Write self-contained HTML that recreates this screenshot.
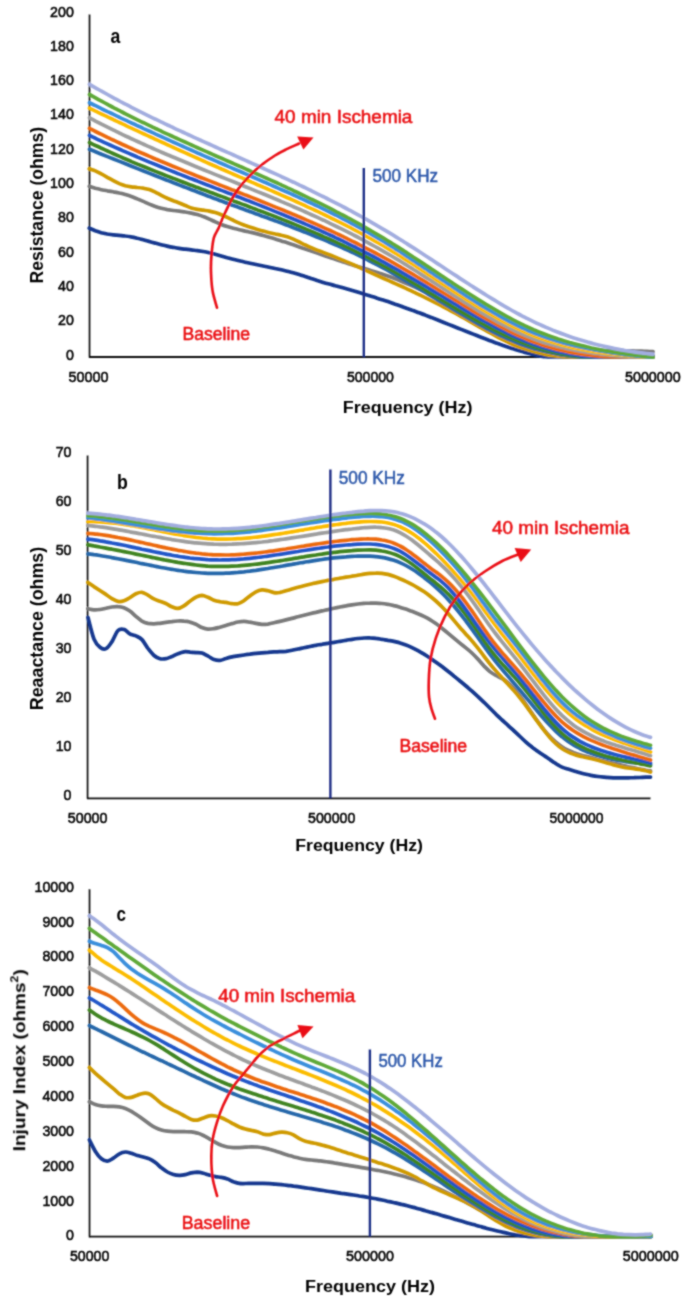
<!DOCTYPE html>
<html><head><meta charset="utf-8"><title>Chart</title>
<style>html,body{margin:0;padding:0;background:#fff;}svg{display:block;}text{font-family:"Liberation Sans",sans-serif;}</style>
</head><body><svg width="685" height="1303" viewBox="0 0 685 1303" font-family="'Liberation Sans', sans-serif"><defs><filter id="bl" x="0" y="0" width="685" height="1303" filterUnits="userSpaceOnUse"><feConvolveMatrix order="3" kernelMatrix="1 2 1 2 8 2 1 2 1" divisor="20" edgeMode="none"/></filter></defs><rect width="685" height="1303" fill="#fff"/><g filter="url(#bl)"><g font-size="15" fill="#000" stroke="#000" stroke-width="0.55"><text x="73.8" y="359.6" text-anchor="end" textLength="7.9" lengthAdjust="spacingAndGlyphs">0</text><text x="73.8" y="325.3" text-anchor="end" textLength="15.8" lengthAdjust="spacingAndGlyphs">20</text><text x="73.8" y="291" text-anchor="end" textLength="15.8" lengthAdjust="spacingAndGlyphs">40</text><text x="73.8" y="256.7" text-anchor="end" textLength="15.8" lengthAdjust="spacingAndGlyphs">60</text><text x="73.8" y="222.4" text-anchor="end" textLength="15.8" lengthAdjust="spacingAndGlyphs">80</text><text x="73.8" y="188" text-anchor="end" textLength="23.7" lengthAdjust="spacingAndGlyphs">100</text><text x="73.8" y="153.7" text-anchor="end" textLength="23.7" lengthAdjust="spacingAndGlyphs">120</text><text x="73.8" y="119.4" text-anchor="end" textLength="23.7" lengthAdjust="spacingAndGlyphs">140</text><text x="73.8" y="85.1" text-anchor="end" textLength="23.7" lengthAdjust="spacingAndGlyphs">160</text><text x="73.8" y="50.8" text-anchor="end" textLength="23.7" lengthAdjust="spacingAndGlyphs">180</text><text x="73.8" y="16.5" text-anchor="end" textLength="23.7" lengthAdjust="spacingAndGlyphs">200</text><text x="88.6" y="381.8" text-anchor="middle" textLength="40" lengthAdjust="spacingAndGlyphs">50000</text><text x="370.4" y="381.8" text-anchor="middle" textLength="47" lengthAdjust="spacingAndGlyphs">500000</text><text x="652.8" y="381.8" text-anchor="middle" textLength="55.6" lengthAdjust="spacingAndGlyphs">5000000</text></g><line x1="89.5" y1="14.5" x2="89.5" y2="357.5" stroke="#111" stroke-width="1.7"/><line x1="89" y1="357" x2="653.5" y2="357" stroke="#111" stroke-width="1.8"/><g fill="none" stroke-width="3.7" stroke-linecap="round" stroke-linejoin="round"><path d="M89.2,228.1C90.2,228.5 93.2,230 95.2,230.8C97.2,231.5 99.2,232.1 101.2,232.7C103.2,233.2 105.2,233.6 107.2,234C109.2,234.3 111.2,234.6 113.2,234.8C115.2,235 117.2,235.2 119.2,235.4C121.2,235.6 123.2,235.7 125.2,236C127.2,236.2 129.2,236.5 131.2,236.9C133.2,237.2 135.2,237.7 137.2,238.2C139.2,238.6 141.2,239.2 143.2,239.7C145.2,240.3 147.2,240.9 149.2,241.4C151.2,242 153.2,242.6 155.2,243.1C157.2,243.7 159.2,244.2 161.2,244.7C163.2,245.2 165.2,245.7 167.2,246.1C169.2,246.6 171.2,247 173.2,247.3C175.2,247.7 177.2,248.1 179.2,248.4C181.2,248.7 183.2,248.9 185.2,249.2C187.2,249.5 189.2,249.7 191.2,249.9C193.2,250.1 195.2,250.4 197.2,250.6C199.2,250.9 201.2,251.2 203.2,251.5C205.2,251.8 207.2,252.2 209.2,252.7C211.2,253.1 213.2,253.7 215.2,254.2C217.2,254.7 219.2,255.3 221.2,255.9C223.2,256.5 225.2,257.1 227.2,257.7C229.2,258.2 231.2,258.8 233.2,259.3C235.2,259.8 237.2,260.3 239.2,260.8C241.2,261.3 243.2,261.8 245.2,262.2C247.2,262.7 249.2,263.1 251.2,263.5C253.2,264 255.2,264.4 257.2,264.8C259.2,265.2 261.2,265.6 263.2,266C265.2,266.4 267.2,266.8 269.2,267.2C271.2,267.6 273.2,268 275.2,268.5C277.2,268.9 279.2,269.3 281.2,269.8C283.2,270.3 285.2,270.7 287.2,271.2C289.2,271.7 291.2,272.3 293.2,272.8C295.2,273.4 297.2,274 299.2,274.6C301.2,275.2 303.2,275.9 305.2,276.5C307.2,277.2 309.2,277.9 311.2,278.6C313.2,279.2 315.2,279.9 317.2,280.6C319.2,281.2 321.2,281.8 323.2,282.4C325.2,283 327.2,283.5 329.2,284C331.2,284.6 333.2,285.1 335.2,285.7C337.2,286.2 339.2,286.8 341.2,287.3C343.2,287.9 345.2,288.5 347.2,289C349.2,289.6 351.2,290.2 353.2,290.8C355.2,291.4 357.2,292 359.2,292.6C361.2,293.2 363.2,293.8 365.2,294.4C367.2,295 369.2,295.6 371.2,296.3C373.2,296.9 375.2,297.5 377.2,298.2C379.2,298.8 381.2,299.5 383.2,300.1C385.2,300.8 387.2,301.4 389.2,302.1C391.2,302.8 393.2,303.5 395.2,304.2C397.2,304.8 399.2,305.5 401.2,306.2C403.2,307 405.2,307.7 407.2,308.4C409.2,309.1 411.2,309.8 413.2,310.6C415.2,311.3 417.2,312.1 419.2,312.8C421.2,313.6 423.2,314.4 425.2,315.1C427.2,315.9 429.2,316.7 431.2,317.4C433.2,318.2 435.2,319 437.2,319.8C439.2,320.6 441.2,321.4 443.2,322.2C445.2,323 447.2,323.8 449.2,324.6C451.2,325.4 453.2,326.2 455.2,327C457.2,327.8 459.2,328.6 461.2,329.4C463.2,330.2 465.2,331 467.2,331.8C469.2,332.5 471.2,333.3 473.2,334.1C475.2,334.9 477.2,335.7 479.2,336.5C481.2,337.2 483.2,338 485.2,338.8C487.2,339.5 489.2,340.3 491.2,341C493.2,341.8 495.2,342.5 497.2,343.3C499.2,344 501.2,344.7 503.2,345.4C505.2,346.1 507.2,346.8 509.2,347.5C511.2,348.1 513.2,348.8 515.2,349.4C517.2,350.1 519.2,350.7 521.2,351.3C523.2,351.9 525.2,352.4 527.2,353C529.2,353.5 531.2,354 533.2,354.5C535.2,354.9 537.2,355.4 539.2,355.8C541.2,356.1 543.2,356.5 545.2,356.7C547.2,356.9 549.2,357 551.2,357C553.2,357 555.2,357 557.2,357C559.2,357 561.2,357 563.2,357C565.2,357 567.2,357 569.2,357C571.2,357 573.2,357 575.2,357C577.2,357 579.2,357 581.2,357C583.2,356.9 585.2,356.9 587.2,356.9C589.2,356.9 591.2,356.9 593.2,356.9C595.2,356.9 597.2,356.9 599.2,356.9C601.2,356.9 603.2,356.9 605.2,356.9C607.2,356.9 609.2,357 611.2,357C613.2,357 615.2,357 617.2,357C619.2,357 621.2,357 623.2,357C625.2,357 627.2,357 629.2,357C631.2,357 633.2,357 635.2,357C637.2,357 639.2,357 641.2,357C643.2,357 645.2,357 647.2,357C649.2,357 652,357 653,357" stroke="#12398f"/><path d="M89.3,186.3C90.3,186.6 93.3,187.7 95.3,188.3C97.3,188.8 99.3,189.3 101.3,189.7C103.3,190.1 105.3,190.4 107.3,190.8C109.3,191.1 111.3,191.4 113.3,191.8C115.3,192.1 117.3,192.5 119.3,193C121.3,193.4 123.3,194 125.3,194.6C127.3,195.2 129.3,195.8 131.3,196.5C133.3,197.3 135.3,198 137.3,198.9C139.3,199.7 141.3,200.6 143.3,201.4C145.3,202.3 147.3,203.3 149.3,204.1C151.3,204.9 153.3,205.7 155.3,206.4C157.3,207.1 159.3,207.7 161.3,208.2C163.3,208.7 165.3,209.2 167.3,209.6C169.3,209.9 171.3,210.2 173.3,210.5C175.3,210.8 177.3,211 179.3,211.2C181.3,211.5 183.3,211.7 185.3,212C187.3,212.3 189.3,212.7 191.3,213.1C193.3,213.5 195.3,214 197.3,214.6C199.3,215.2 201.3,215.8 203.3,216.6C205.3,217.3 207.3,218.2 209.3,219.1C211.3,220 213.3,221 215.3,221.9C217.3,222.8 219.3,223.7 221.3,224.5C223.3,225.3 225.3,226 227.3,226.6C229.3,227.2 231.3,227.8 233.3,228.3C235.3,228.8 237.3,229.3 239.3,229.7C241.3,230.2 243.3,230.6 245.3,231.1C247.3,231.5 249.3,232 251.3,232.4C253.3,232.9 255.3,233.4 257.3,233.9C259.3,234.4 261.3,234.9 263.3,235.5C265.3,236 267.3,236.6 269.3,237.2C271.3,237.8 273.3,238.4 275.3,239C277.3,239.6 279.3,240.3 281.3,240.9C283.3,241.5 285.3,242.2 287.3,242.8C289.3,243.5 291.3,244.2 293.3,244.8C295.3,245.5 297.3,246.2 299.3,246.9C301.3,247.6 303.3,248.3 305.3,248.9C307.3,249.6 309.3,250.3 311.3,251C313.3,251.7 315.3,252.4 317.3,253.1C319.3,253.8 321.3,254.5 323.3,255.2C325.3,255.9 327.3,256.6 329.3,257.3C331.3,258 333.3,258.6 335.3,259.3C337.3,260 339.3,260.7 341.3,261.3C343.3,262 345.3,262.6 347.3,263.3C349.3,263.9 351.3,264.6 353.3,265.2C355.3,265.8 357.3,266.4 359.3,267C361.3,267.6 363.3,268.2 365.3,268.8C367.3,269.5 369.3,270.1 371.3,270.7C373.3,271.3 375.3,271.9 377.3,272.5C379.3,273.2 381.3,273.8 383.3,274.5C385.3,275.2 387.3,275.9 389.3,276.6C391.3,277.3 393.3,278 395.3,278.8C397.3,279.6 399.3,280.3 401.3,281.2C403.3,282 405.3,282.8 407.3,283.7C409.3,284.5 411.3,285.4 413.3,286.3C415.3,287.2 417.3,288.1 419.3,289.1C421.3,290.1 423.3,291 425.3,292C427.3,293.1 429.3,294.1 431.3,295.1C433.3,296.2 435.3,297.3 437.3,298.4C439.3,299.5 441.3,300.6 443.3,301.7C445.3,302.8 447.3,304 449.3,305.1C451.3,306.3 453.3,307.4 455.3,308.6C457.3,309.8 459.3,311 461.3,312.1C463.3,313.3 465.3,314.5 467.3,315.7C469.3,316.9 471.3,318.1 473.3,319.2C475.3,320.4 477.3,321.6 479.3,322.8C481.3,323.9 483.3,325.1 485.3,326.2C487.3,327.4 489.3,328.5 491.3,329.7C493.3,330.8 495.3,331.9 497.3,333C499.3,334.1 501.3,335.1 503.3,336.2C505.3,337.2 507.3,338.3 509.3,339.2C511.3,340.2 513.3,341.2 515.3,342C517.3,342.9 519.3,343.7 521.3,344.3C523.3,345 525.3,345.5 527.3,346C529.3,346.5 531.3,346.8 533.3,347.2C535.3,347.5 537.3,347.7 539.3,348C541.3,348.2 543.3,348.4 545.3,348.6C547.3,348.8 549.3,348.9 551.3,349.1C553.3,349.2 555.3,349.4 557.3,349.5C559.3,349.6 561.3,349.7 563.3,349.8C565.3,349.9 567.3,350 569.3,350.1C571.3,350.2 573.3,350.2 575.3,350.3C577.3,350.4 579.3,350.4 581.3,350.4C583.3,350.5 585.3,350.5 587.3,350.6C589.3,350.6 591.3,350.6 593.3,350.6C595.3,350.6 597.3,350.7 599.3,350.7C601.3,350.7 603.3,350.7 605.3,350.7C607.3,350.7 609.3,350.7 611.3,350.7C613.3,350.7 615.3,350.8 617.3,350.8C619.3,350.8 621.3,350.8 623.3,350.8C625.3,350.8 627.3,350.9 629.3,350.9C631.3,350.9 633.3,351 635.3,351C637.3,351.1 639.3,351.1 641.3,351.2C643.3,351.3 645.3,351.3 647.3,351.4C649.2,351.5 652,351.6 653,351.7" stroke="#7a7a7a"/><path d="M89.3,168.8C90.3,169.2 93.3,170.1 95.3,170.9C97.3,171.8 99.3,172.8 101.3,173.9C103.3,174.9 105.3,176.1 107.3,177.3C109.3,178.4 111.3,179.6 113.3,180.6C115.3,181.7 117.3,182.7 119.3,183.6C121.3,184.4 123.3,185.1 125.3,185.7C127.3,186.2 129.3,186.5 131.3,186.8C133.3,187.1 135.3,187.2 137.3,187.5C139.3,187.7 141.3,187.9 143.3,188.2C145.3,188.6 147.3,189 149.3,189.6C151.3,190.3 153.3,191.2 155.3,192.1C157.3,193.1 159.3,194.3 161.3,195.3C163.3,196.3 165.3,197.3 167.3,198.2C169.3,199 171.3,199.8 173.3,200.7C175.3,201.5 177.3,202.2 179.3,203C181.3,203.8 183.3,204.7 185.3,205.5C187.3,206.3 189.3,207.3 191.3,207.9C193.3,208.5 195.3,209 197.3,209.4C199.3,209.8 201.3,209.9 203.3,210.2C205.3,210.5 207.3,210.7 209.3,211.1C211.3,211.5 213.3,212 215.3,212.6C217.3,213.2 219.3,213.9 221.3,214.7C223.3,215.5 225.3,216.5 227.3,217.4C229.3,218.4 231.3,219.4 233.3,220.3C235.3,221.3 237.3,222.2 239.3,223.1C241.3,224 243.3,224.7 245.3,225.5C247.3,226.2 249.3,226.9 251.3,227.5C253.3,228.2 255.3,228.8 257.3,229.4C259.3,230 261.3,230.6 263.3,231.1C265.3,231.7 267.3,232.2 269.3,232.7C271.3,233.2 273.3,233.6 275.3,234C277.3,234.4 279.3,234.7 281.3,235.2C283.3,235.6 285.3,236.1 287.3,236.7C289.3,237.4 291.3,238.2 293.3,239.1C295.3,240 297.3,241 299.3,242C301.3,243 303.3,244.1 305.3,245C307.3,246 309.3,247 311.3,247.8C313.3,248.7 315.3,249.4 317.3,250.2C319.3,250.9 321.3,251.6 323.3,252.4C325.3,253.1 327.3,253.9 329.3,254.7C331.3,255.5 333.3,256.3 335.3,257.1C337.3,257.9 339.3,258.7 341.3,259.6C343.3,260.4 345.3,261.3 347.3,262.1C349.3,263 351.3,263.8 353.3,264.7C355.3,265.6 357.3,266.5 359.3,267.4C361.3,268.3 363.3,269.2 365.3,270.1C367.3,271 369.3,271.9 371.3,272.8C373.3,273.7 375.3,274.6 377.3,275.5C379.3,276.4 381.3,277.3 383.3,278.2C385.3,279.1 387.3,280 389.3,280.9C391.3,281.8 393.3,282.7 395.3,283.6C397.3,284.5 399.3,285.4 401.3,286.3C403.3,287.2 405.3,288.2 407.3,289.1C409.3,290 411.3,290.9 413.3,291.9C415.3,292.8 417.3,293.8 419.3,294.7C421.3,295.7 423.3,296.7 425.3,297.6C427.3,298.6 429.3,299.6 431.3,300.6C433.3,301.6 435.3,302.6 437.3,303.7C439.3,304.7 441.3,305.7 443.3,306.8C445.3,307.8 447.3,308.9 449.3,310C451.3,311 453.3,312.1 455.3,313.2C457.3,314.3 459.3,315.4 461.3,316.6C463.3,317.7 465.3,318.8 467.3,319.9C469.3,321.1 471.3,322.2 473.3,323.3C475.3,324.5 477.3,325.6 479.3,326.8C481.3,327.9 483.3,329 485.3,330.1C487.3,331.3 489.3,332.4 491.3,333.5C493.3,334.6 495.3,335.7 497.3,336.8C499.3,337.8 501.3,338.9 503.3,339.9C505.3,340.9 507.3,341.9 509.3,342.8C511.3,343.8 513.3,344.7 515.3,345.5C517.3,346.3 519.3,347 521.3,347.7C523.3,348.4 525.3,349 527.3,349.6C529.3,350.2 531.3,350.8 533.3,351.4C535.3,351.9 537.3,352.5 539.3,353C541.3,353.5 543.3,354 545.3,354.4C547.3,354.8 549.3,355.2 551.3,355.5C553.3,355.8 555.3,356 557.3,356.2C559.3,356.3 561.3,356.4 563.3,356.6C565.3,356.7 567.3,356.8 569.3,356.9C571.3,356.9 573.3,357 575.3,357C577.3,357 579.3,357 581.3,357C583.3,357 585.3,357 587.3,357C589.3,357 591.3,357 593.3,357C595.3,357 597.3,357 599.3,357C601.3,357 603.3,357 605.3,357C607.3,357 609.3,357 611.3,357C613.3,357 615.3,357 617.3,357C619.3,356.9 621.3,356.9 623.3,356.9C625.3,356.9 627.3,356.8 629.3,356.8C631.3,356.8 633.3,356.8 635.3,356.8C637.3,356.8 639.3,356.8 641.3,356.8C643.3,356.9 645.3,356.9 647.3,356.9C649.2,357 652,357 653,357" stroke="#cf9a00"/><path d="M89.5,149.3C90.5,149.7 93.5,150.9 95.5,151.7C97.5,152.5 99.5,153.3 101.5,154.2C103.5,155 105.5,155.8 107.5,156.6C109.5,157.4 111.5,158.2 113.5,159C115.5,159.8 117.5,160.6 119.5,161.4C121.5,162.2 123.5,163 125.5,163.8C127.5,164.6 129.5,165.4 131.5,166.2C133.5,167 135.5,167.8 137.5,168.6C139.5,169.4 141.5,170.2 143.5,171C145.5,171.8 147.5,172.6 149.5,173.4C151.5,174.2 153.5,175 155.5,175.7C157.5,176.5 159.5,177.3 161.5,178.1C163.5,178.9 165.5,179.7 167.5,180.4C169.5,181.2 171.5,182 173.5,182.8C175.5,183.5 177.5,184.3 179.5,185.1C181.5,185.9 183.5,186.6 185.5,187.4C187.5,188.2 189.5,188.9 191.5,189.7C193.5,190.5 195.5,191.2 197.5,192C199.5,192.7 201.5,193.5 203.5,194.3C205.5,195 207.5,195.8 209.5,196.5C211.5,197.3 213.5,198 215.5,198.8C217.5,199.5 219.5,200.3 221.5,201C223.5,201.8 225.5,202.5 227.5,203.3C229.5,204 231.5,204.8 233.5,205.5C235.5,206.2 237.5,207 239.5,207.7C241.5,208.4 243.5,209.2 245.5,209.9C247.5,210.6 249.5,211.4 251.5,212.1C253.5,212.8 255.5,213.6 257.5,214.3C259.5,215 261.5,215.8 263.5,216.5C265.5,217.2 267.5,218 269.5,218.7C271.5,219.4 273.5,220.2 275.5,220.9C277.5,221.7 279.5,222.4 281.5,223.1C283.5,223.9 285.5,224.6 287.5,225.4C289.5,226.2 291.5,226.9 293.5,227.7C295.5,228.4 297.5,229.2 299.5,230C301.5,230.8 303.5,231.5 305.5,232.3C307.5,233.1 309.5,233.9 311.5,234.7C313.5,235.5 315.5,236.3 317.5,237.2C319.5,238 321.5,238.8 323.5,239.6C325.5,240.5 327.5,241.3 329.5,242.2C331.5,243 333.5,243.9 335.5,244.8C337.5,245.6 339.5,246.5 341.5,247.4C343.5,248.3 345.5,249.2 347.5,250.1C349.5,251 351.5,252 353.5,252.9C355.5,253.9 357.5,254.8 359.5,255.8C361.5,256.8 363.5,257.7 365.5,258.7C367.5,259.7 369.5,260.8 371.5,261.8C373.5,262.8 375.5,263.9 377.5,264.9C379.5,266 381.5,267.1 383.5,268.1C385.5,269.2 387.5,270.3 389.5,271.4C391.5,272.6 393.5,273.7 395.5,274.8C397.5,276 399.5,277.1 401.5,278.3C403.5,279.4 405.5,280.6 407.5,281.8C409.5,282.9 411.5,284.1 413.5,285.3C415.5,286.5 417.5,287.7 419.5,288.9C421.5,290.1 423.5,291.3 425.5,292.5C427.5,293.7 429.5,294.9 431.5,296.1C433.5,297.3 435.5,298.6 437.5,299.8C439.5,301 441.5,302.2 443.5,303.4C445.5,304.6 447.5,305.8 449.5,307C451.5,308.2 453.5,309.4 455.5,310.6C457.5,311.8 459.5,313 461.5,314.2C463.5,315.4 465.5,316.6 467.5,317.7C469.5,318.9 471.5,320.1 473.5,321.2C475.5,322.3 477.5,323.5 479.5,324.6C481.5,325.7 483.5,326.8 485.5,327.9C487.5,328.9 489.5,330 491.5,331C493.5,332 495.5,333 497.5,334C499.5,335 501.5,336 503.5,336.9C505.5,337.8 507.5,338.7 509.5,339.6C511.5,340.5 513.5,341.3 515.5,342.1C517.5,342.9 519.5,343.7 521.5,344.4C523.5,345.1 525.5,345.8 527.5,346.5C529.5,347.1 531.5,347.8 533.5,348.4C535.5,349 537.5,349.5 539.5,350C541.5,350.6 543.5,351.1 545.5,351.5C547.5,352 549.5,352.4 551.5,352.8C553.5,353.2 555.5,353.6 557.5,354C559.5,354.3 561.5,354.7 563.5,354.9C565.5,355.2 567.5,355.5 569.5,355.8C571.5,356 573.5,356.2 575.5,356.4C577.5,356.6 579.5,356.9 581.5,357C583.5,357.1 585.5,357 587.5,357C589.5,357 591.5,357 593.5,357C595.5,357 597.5,357 599.5,357C601.5,357 603.5,357 605.5,357C607.5,357 609.5,357 611.5,357C613.5,357 615.5,357 617.5,357C619.5,357 621.5,357 623.5,357C625.5,357 627.5,357 629.5,357C631.5,357 633.5,357 635.5,357C637.5,357 639.5,356.9 641.5,356.9C643.5,356.8 645.6,356.6 647.5,356.5C649.4,356.4 652.1,356.2 653,356.1" stroke="#2668aa"/><path d="M89.5,142.6C90.5,143.1 93.5,144.5 95.5,145.5C97.5,146.4 99.5,147.3 101.5,148.3C103.5,149.2 105.5,150.1 107.5,151C109.5,151.9 111.5,152.8 113.5,153.7C115.5,154.6 117.5,155.5 119.5,156.4C121.5,157.3 123.5,158.1 125.5,159C127.5,159.9 129.5,160.7 131.5,161.6C133.5,162.4 135.5,163.2 137.5,164.1C139.5,164.9 141.5,165.7 143.5,166.5C145.5,167.4 147.5,168.2 149.5,169C151.5,169.8 153.5,170.6 155.5,171.4C157.5,172.2 159.5,173 161.5,173.8C163.5,174.6 165.5,175.3 167.5,176.1C169.5,176.9 171.5,177.7 173.5,178.4C175.5,179.2 177.5,180 179.5,180.7C181.5,181.5 183.5,182.3 185.5,183C187.5,183.8 189.5,184.5 191.5,185.3C193.5,186 195.5,186.8 197.5,187.5C199.5,188.3 201.5,189 203.5,189.8C205.5,190.5 207.5,191.2 209.5,192C211.5,192.7 213.5,193.5 215.5,194.2C217.5,195 219.5,195.7 221.5,196.4C223.5,197.2 225.5,197.9 227.5,198.7C229.5,199.4 231.5,200.1 233.5,200.9C235.5,201.6 237.5,202.4 239.5,203.1C241.5,203.9 243.5,204.6 245.5,205.3C247.5,206.1 249.5,206.8 251.5,207.6C253.5,208.4 255.5,209.1 257.5,209.9C259.5,210.6 261.5,211.4 263.5,212.1C265.5,212.9 267.5,213.7 269.5,214.4C271.5,215.2 273.5,216 275.5,216.8C277.5,217.6 279.5,218.3 281.5,219.1C283.5,219.9 285.5,220.7 287.5,221.5C289.5,222.3 291.5,223.1 293.5,223.9C295.5,224.7 297.5,225.5 299.5,226.4C301.5,227.2 303.5,228 305.5,228.9C307.5,229.7 309.5,230.5 311.5,231.4C313.5,232.2 315.5,233.1 317.5,233.9C319.5,234.8 321.5,235.7 323.5,236.6C325.5,237.4 327.5,238.3 329.5,239.2C331.5,240.1 333.5,241 335.5,241.9C337.5,242.9 339.5,243.8 341.5,244.7C343.5,245.6 345.5,246.6 347.5,247.5C349.5,248.5 351.5,249.4 353.5,250.4C355.5,251.4 357.5,252.4 359.5,253.4C361.5,254.4 363.5,255.4 365.5,256.4C367.5,257.4 369.5,258.4 371.5,259.5C373.5,260.5 375.5,261.6 377.5,262.6C379.5,263.7 381.5,264.8 383.5,265.9C385.5,266.9 387.5,268 389.5,269.2C391.5,270.3 393.5,271.4 395.5,272.5C397.5,273.7 399.5,274.8 401.5,276C403.5,277.2 405.5,278.3 407.5,279.5C409.5,280.7 411.5,281.9 413.5,283.1C415.5,284.2 417.5,285.4 419.5,286.6C421.5,287.8 423.5,289 425.5,290.3C427.5,291.5 429.5,292.7 431.5,293.9C433.5,295.1 435.5,296.3 437.5,297.5C439.5,298.7 441.5,299.9 443.5,301.1C445.5,302.3 447.5,303.5 449.5,304.7C451.5,305.9 453.5,307.1 455.5,308.3C457.5,309.5 459.5,310.7 461.5,311.8C463.5,313 465.5,314.2 467.5,315.3C469.5,316.5 471.5,317.6 473.5,318.8C475.5,319.9 477.5,321 479.5,322.1C481.5,323.2 483.5,324.3 485.5,325.4C487.5,326.5 489.5,327.5 491.5,328.6C493.5,329.6 495.5,330.6 497.5,331.6C499.5,332.6 501.5,333.6 503.5,334.5C505.5,335.5 507.5,336.4 509.5,337.3C511.5,338.2 513.5,339.1 515.5,339.9C517.5,340.8 519.5,341.6 521.5,342.4C523.5,343.2 525.5,343.9 527.5,344.6C529.5,345.4 531.5,346 533.5,346.7C535.5,347.4 537.5,348 539.5,348.6C541.5,349.1 543.5,349.7 545.5,350.2C547.5,350.7 549.5,351.2 551.5,351.7C553.5,352.2 555.5,352.6 557.5,353C559.5,353.4 561.5,353.8 563.5,354.1C565.5,354.4 567.5,354.8 569.5,355.1C571.5,355.3 573.5,355.6 575.5,355.9C577.5,356.1 579.5,356.3 581.5,356.5C583.5,356.7 585.5,356.9 587.5,357C589.5,357.1 591.5,357 593.5,357C595.5,357 597.5,357 599.5,357C601.5,357 603.5,357 605.5,357C607.5,357 609.5,357 611.5,357C613.5,357 615.5,357 617.5,357C619.5,357 621.5,357 623.5,357C625.5,357 627.5,357 629.5,357C631.5,357 633.5,357 635.5,357C637.5,357 639.5,357 641.5,356.9C643.5,356.8 645.6,356.6 647.5,356.5C649.4,356.4 652.1,356.2 653,356.1" stroke="#3f8420"/><path d="M89.5,135.4C90.5,135.9 93.5,137.4 95.5,138.3C97.5,139.3 99.5,140.2 101.5,141.1C103.5,142.1 105.5,143 107.5,143.9C109.5,144.8 111.5,145.7 113.5,146.6C115.5,147.5 117.5,148.4 119.5,149.3C121.5,150.2 123.5,151 125.5,151.9C127.5,152.8 129.5,153.7 131.5,154.5C133.5,155.4 135.5,156.2 137.5,157.1C139.5,157.9 141.5,158.8 143.5,159.6C145.5,160.4 147.5,161.2 149.5,162.1C151.5,162.9 153.5,163.7 155.5,164.5C157.5,165.3 159.5,166.2 161.5,167C163.5,167.8 165.5,168.6 167.5,169.4C169.5,170.2 171.5,171 173.5,171.8C175.5,172.6 177.5,173.3 179.5,174.1C181.5,174.9 183.5,175.7 185.5,176.5C187.5,177.3 189.5,178 191.5,178.8C193.5,179.6 195.5,180.4 197.5,181.1C199.5,181.9 201.5,182.7 203.5,183.5C205.5,184.2 207.5,185 209.5,185.8C211.5,186.5 213.5,187.3 215.5,188.1C217.5,188.9 219.5,189.6 221.5,190.4C223.5,191.2 225.5,191.9 227.5,192.7C229.5,193.5 231.5,194.2 233.5,195C235.5,195.8 237.5,196.6 239.5,197.3C241.5,198.1 243.5,198.9 245.5,199.7C247.5,200.5 249.5,201.2 251.5,202C253.5,202.8 255.5,203.6 257.5,204.4C259.5,205.2 261.5,206 263.5,206.7C265.5,207.5 267.5,208.3 269.5,209.1C271.5,209.9 273.5,210.8 275.5,211.6C277.5,212.4 279.5,213.2 281.5,214C283.5,214.8 285.5,215.7 287.5,216.5C289.5,217.3 291.5,218.1 293.5,219C295.5,219.8 297.5,220.7 299.5,221.5C301.5,222.4 303.5,223.2 305.5,224.1C307.5,225 309.5,225.8 311.5,226.7C313.5,227.6 315.5,228.5 317.5,229.3C319.5,230.2 321.5,231.1 323.5,232C325.5,232.9 327.5,233.9 329.5,234.8C331.5,235.7 333.5,236.6 335.5,237.6C337.5,238.5 339.5,239.5 341.5,240.4C343.5,241.4 345.5,242.3 347.5,243.3C349.5,244.3 351.5,245.3 353.5,246.3C355.5,247.2 357.5,248.3 359.5,249.3C361.5,250.3 363.5,251.3 365.5,252.3C367.5,253.4 369.5,254.4 371.5,255.5C373.5,256.5 375.5,257.6 377.5,258.7C379.5,259.8 381.5,260.8 383.5,261.9C385.5,263 387.5,264.2 389.5,265.3C391.5,266.4 393.5,267.5 395.5,268.7C397.5,269.8 399.5,270.9 401.5,272.1C403.5,273.2 405.5,274.4 407.5,275.6C409.5,276.7 411.5,277.9 413.5,279.1C415.5,280.3 417.5,281.4 419.5,282.6C421.5,283.8 423.5,285 425.5,286.2C427.5,287.4 429.5,288.6 431.5,289.8C433.5,291 435.5,292.2 437.5,293.4C439.5,294.6 441.5,295.8 443.5,297C445.5,298.2 447.5,299.4 449.5,300.6C451.5,301.8 453.5,303 455.5,304.2C457.5,305.4 459.5,306.6 461.5,307.8C463.5,309 465.5,310.2 467.5,311.4C469.5,312.5 471.5,313.7 473.5,314.9C475.5,316 477.5,317.2 479.5,318.3C481.5,319.5 483.5,320.6 485.5,321.7C487.5,322.8 489.5,323.9 491.5,325C493.5,326.1 495.5,327.1 497.5,328.2C499.5,329.2 501.5,330.2 503.5,331.2C505.5,332.2 507.5,333.2 509.5,334.2C511.5,335.1 513.5,336 515.5,336.9C517.5,337.8 519.5,338.7 521.5,339.5C523.5,340.4 525.5,341.2 527.5,341.9C529.5,342.7 531.5,343.5 533.5,344.2C535.5,344.9 537.5,345.6 539.5,346.3C541.5,346.9 543.5,347.6 545.5,348.2C547.5,348.8 549.5,349.3 551.5,349.9C553.5,350.4 555.5,350.9 557.5,351.4C559.5,351.9 561.5,352.4 563.5,352.8C565.5,353.2 567.5,353.6 569.5,354C571.5,354.3 573.5,354.7 575.5,355C577.5,355.3 579.5,355.6 581.5,355.8C583.5,356.1 585.5,356.3 587.5,356.5C589.5,356.7 591.5,356.9 593.5,357C595.5,357.1 597.5,357 599.5,357C601.5,357 603.5,357 605.5,357C607.5,357 609.5,357 611.5,357C613.5,357 615.5,357 617.5,357C619.5,357 621.5,357 623.5,357C625.5,357 627.5,357 629.5,357C631.5,357 633.5,357 635.5,357C637.5,357 639.5,357 641.5,357C643.5,356.9 645.6,356.7 647.5,356.6C649.4,356.5 652.1,356.2 653,356.2" stroke="#2157c8"/><path d="M89.5,128.4C90.5,128.9 93.5,130.5 95.5,131.5C97.5,132.5 99.5,133.5 101.5,134.4C103.5,135.4 105.5,136.4 107.5,137.4C109.5,138.3 111.5,139.3 113.5,140.2C115.5,141.2 117.5,142.1 119.5,143C121.5,144 123.5,144.9 125.5,145.8C127.5,146.7 129.5,147.6 131.5,148.5C133.5,149.4 135.5,150.3 137.5,151.2C139.5,152.1 141.5,153 143.5,153.8C145.5,154.7 147.5,155.6 149.5,156.4C151.5,157.3 153.5,158.1 155.5,159C157.5,159.8 159.5,160.7 161.5,161.5C163.5,162.4 165.5,163.2 167.5,164C169.5,164.8 171.5,165.7 173.5,166.5C175.5,167.3 177.5,168.1 179.5,168.9C181.5,169.7 183.5,170.6 185.5,171.4C187.5,172.2 189.5,173 191.5,173.8C193.5,174.6 195.5,175.4 197.5,176.2C199.5,177 201.5,177.8 203.5,178.5C205.5,179.3 207.5,180.1 209.5,180.9C211.5,181.7 213.5,182.5 215.5,183.3C217.5,184.1 219.5,184.8 221.5,185.6C223.5,186.4 225.5,187.2 227.5,188C229.5,188.8 231.5,189.5 233.5,190.3C235.5,191.1 237.5,191.9 239.5,192.7C241.5,193.5 243.5,194.3 245.5,195.1C247.5,195.8 249.5,196.6 251.5,197.4C253.5,198.2 255.5,199 257.5,199.8C259.5,200.6 261.5,201.4 263.5,202.2C265.5,203 267.5,203.8 269.5,204.6C271.5,205.4 273.5,206.2 275.5,207.1C277.5,207.9 279.5,208.7 281.5,209.5C283.5,210.3 285.5,211.2 287.5,212C289.5,212.8 291.5,213.7 293.5,214.5C295.5,215.3 297.5,216.2 299.5,217C301.5,217.9 303.5,218.8 305.5,219.6C307.5,220.5 309.5,221.4 311.5,222.2C313.5,223.1 315.5,224 317.5,224.9C319.5,225.8 321.5,226.7 323.5,227.6C325.5,228.5 327.5,229.4 329.5,230.3C331.5,231.2 333.5,232.2 335.5,233.1C337.5,234 339.5,235 341.5,235.9C343.5,236.9 345.5,237.8 347.5,238.8C349.5,239.8 351.5,240.8 353.5,241.8C355.5,242.7 357.5,243.7 359.5,244.8C361.5,245.8 363.5,246.8 365.5,247.8C367.5,248.8 369.5,249.9 371.5,250.9C373.5,252 375.5,253 377.5,254.1C379.5,255.2 381.5,256.3 383.5,257.4C385.5,258.5 387.5,259.6 389.5,260.7C391.5,261.8 393.5,263 395.5,264.1C397.5,265.3 399.5,266.4 401.5,267.6C403.5,268.7 405.5,269.9 407.5,271.1C409.5,272.3 411.5,273.5 413.5,274.7C415.5,275.9 417.5,277.1 419.5,278.3C421.5,279.5 423.5,280.7 425.5,281.9C427.5,283.1 429.5,284.4 431.5,285.6C433.5,286.8 435.5,288 437.5,289.3C439.5,290.5 441.5,291.7 443.5,293C445.5,294.2 447.5,295.4 449.5,296.7C451.5,297.9 453.5,299.1 455.5,300.3C457.5,301.6 459.5,302.8 461.5,304C463.5,305.2 465.5,306.4 467.5,307.6C469.5,308.9 471.5,310.1 473.5,311.3C475.5,312.4 477.5,313.6 479.5,314.8C481.5,316 483.5,317.1 485.5,318.3C487.5,319.4 489.5,320.6 491.5,321.7C493.5,322.8 495.5,323.9 497.5,325C499.5,326.1 501.5,327.2 503.5,328.2C505.5,329.3 507.5,330.3 509.5,331.3C511.5,332.3 513.5,333.2 515.5,334.2C517.5,335.1 519.5,336 521.5,336.9C523.5,337.8 525.5,338.7 527.5,339.5C529.5,340.3 531.5,341.1 533.5,341.9C535.5,342.6 537.5,343.4 539.5,344C541.5,344.7 543.5,345.4 545.5,346C547.5,346.6 549.5,347.2 551.5,347.8C553.5,348.4 555.5,348.9 557.5,349.4C559.5,349.9 561.5,350.4 563.5,350.8C565.5,351.3 567.5,351.7 569.5,352.1C571.5,352.5 573.5,352.8 575.5,353.2C577.5,353.5 579.5,353.8 581.5,354.1C583.5,354.4 585.5,354.7 587.5,354.9C589.5,355.2 591.5,355.4 593.5,355.6C595.5,355.8 597.5,356 599.5,356.1C601.5,356.3 603.5,356.4 605.5,356.6C607.5,356.7 609.5,356.8 611.5,356.9C613.5,357 615.5,357 617.5,357C619.5,357 621.5,357 623.5,357C625.5,357 627.5,357 629.5,357C631.5,357 633.5,357 635.5,357C637.5,357 639.5,357 641.5,357C643.5,357 645.6,357 647.5,357C649.4,356.9 652.1,356.8 653,356.7" stroke="#ec6a10"/><path d="M89.5,117.9C90.5,118.4 93.5,120 95.5,121.1C97.5,122.1 99.5,123.1 101.5,124.2C103.5,125.2 105.5,126.2 107.5,127.2C109.5,128.2 111.5,129.2 113.5,130.2C115.5,131.2 117.5,132.1 119.5,133.1C121.5,134.1 123.5,135 125.5,136C127.5,136.9 129.5,137.8 131.5,138.8C133.5,139.7 135.5,140.6 137.5,141.5C139.5,142.4 141.5,143.4 143.5,144.3C145.5,145.2 147.5,146 149.5,146.9C151.5,147.8 153.5,148.7 155.5,149.6C157.5,150.5 159.5,151.3 161.5,152.2C163.5,153.1 165.5,153.9 167.5,154.8C169.5,155.6 171.5,156.5 173.5,157.3C175.5,158.2 177.5,159 179.5,159.8C181.5,160.7 183.5,161.5 185.5,162.3C187.5,163.2 189.5,164 191.5,164.8C193.5,165.6 195.5,166.4 197.5,167.3C199.5,168.1 201.5,168.9 203.5,169.7C205.5,170.5 207.5,171.3 209.5,172.1C211.5,172.9 213.5,173.8 215.5,174.6C217.5,175.4 219.5,176.2 221.5,177C223.5,177.8 225.5,178.6 227.5,179.4C229.5,180.2 231.5,181 233.5,181.8C235.5,182.6 237.5,183.4 239.5,184.2C241.5,185.1 243.5,185.9 245.5,186.7C247.5,187.5 249.5,188.3 251.5,189.1C253.5,189.9 255.5,190.7 257.5,191.6C259.5,192.4 261.5,193.2 263.5,194C265.5,194.9 267.5,195.7 269.5,196.5C271.5,197.3 273.5,198.2 275.5,199C277.5,199.9 279.5,200.7 281.5,201.6C283.5,202.4 285.5,203.3 287.5,204.1C289.5,205 291.5,205.8 293.5,206.7C295.5,207.6 297.5,208.5 299.5,209.3C301.5,210.2 303.5,211.1 305.5,212C307.5,212.9 309.5,213.8 311.5,214.7C313.5,215.6 315.5,216.5 317.5,217.4C319.5,218.4 321.5,219.3 323.5,220.2C325.5,221.2 327.5,222.1 329.5,223.1C331.5,224 333.5,225 335.5,226C337.5,226.9 339.5,227.9 341.5,228.9C343.5,229.9 345.5,230.9 347.5,231.9C349.5,232.9 351.5,233.9 353.5,235C355.5,236 357.5,237 359.5,238.1C361.5,239.2 363.5,240.2 365.5,241.3C367.5,242.4 369.5,243.5 371.5,244.6C373.5,245.7 375.5,246.8 377.5,247.9C379.5,249 381.5,250.2 383.5,251.3C385.5,252.5 387.5,253.6 389.5,254.8C391.5,256 393.5,257.2 395.5,258.4C397.5,259.6 399.5,260.8 401.5,262C403.5,263.2 405.5,264.5 407.5,265.7C409.5,267 411.5,268.2 413.5,269.5C415.5,270.7 417.5,272 419.5,273.3C421.5,274.5 423.5,275.8 425.5,277.1C427.5,278.4 429.5,279.6 431.5,280.9C433.5,282.2 435.5,283.5 437.5,284.8C439.5,286.1 441.5,287.3 443.5,288.6C445.5,289.9 447.5,291.2 449.5,292.5C451.5,293.8 453.5,295 455.5,296.3C457.5,297.6 459.5,298.9 461.5,300.1C463.5,301.4 465.5,302.7 467.5,303.9C469.5,305.2 471.5,306.4 473.5,307.6C475.5,308.9 477.5,310.1 479.5,311.3C481.5,312.5 483.5,313.7 485.5,314.9C487.5,316.1 489.5,317.2 491.5,318.4C493.5,319.5 495.5,320.6 497.5,321.8C499.5,322.9 501.5,323.9 503.5,325C505.5,326.1 507.5,327.1 509.5,328.1C511.5,329.1 513.5,330.1 515.5,331.1C517.5,332 519.5,332.9 521.5,333.8C523.5,334.7 525.5,335.6 527.5,336.4C529.5,337.2 531.5,338 533.5,338.8C535.5,339.5 537.5,340.2 539.5,340.9C541.5,341.6 543.5,342.3 545.5,342.9C547.5,343.5 549.5,344.1 551.5,344.6C553.5,345.2 555.5,345.7 557.5,346.2C559.5,346.7 561.5,347.2 563.5,347.7C565.5,348.1 567.5,348.6 569.5,349C571.5,349.4 573.5,349.8 575.5,350.1C577.5,350.5 579.5,350.9 581.5,351.2C583.5,351.6 585.5,351.9 587.5,352.2C589.5,352.5 591.5,352.8 593.5,353.1C595.5,353.4 597.5,353.6 599.5,353.9C601.5,354.2 603.5,354.4 605.5,354.7C607.5,354.9 609.5,355.1 611.5,355.3C613.5,355.5 615.5,355.7 617.5,355.9C619.5,356.1 621.5,356.2 623.5,356.4C625.5,356.5 627.5,356.6 629.5,356.8C631.5,356.9 633.5,357 635.5,357C637.5,357 639.5,357 641.5,357C643.5,357 645.6,357 647.5,357C649.4,357 652.1,357 653,357" stroke="#9e9e9e"/><path d="M89.5,108.2C90.5,108.7 93.5,110.2 95.5,111.1C97.5,112.1 99.5,113 101.5,114C103.5,114.9 105.5,115.9 107.5,116.8C109.5,117.8 111.5,118.7 113.5,119.7C115.5,120.6 117.5,121.6 119.5,122.5C121.5,123.4 123.5,124.4 125.5,125.3C127.5,126.3 129.5,127.2 131.5,128.1C133.5,129.1 135.5,130 137.5,130.9C139.5,131.9 141.5,132.8 143.5,133.7C145.5,134.6 147.5,135.6 149.5,136.5C151.5,137.4 153.5,138.3 155.5,139.3C157.5,140.2 159.5,141.1 161.5,142C163.5,142.9 165.5,143.8 167.5,144.8C169.5,145.7 171.5,146.6 173.5,147.5C175.5,148.4 177.5,149.3 179.5,150.2C181.5,151.1 183.5,152 185.5,152.9C187.5,153.8 189.5,154.7 191.5,155.6C193.5,156.5 195.5,157.4 197.5,158.3C199.5,159.2 201.5,160.1 203.5,161C205.5,161.9 207.5,162.8 209.5,163.7C211.5,164.6 213.5,165.4 215.5,166.3C217.5,167.2 219.5,168.1 221.5,169C223.5,169.9 225.5,170.7 227.5,171.6C229.5,172.5 231.5,173.4 233.5,174.2C235.5,175.1 237.5,176 239.5,176.9C241.5,177.7 243.5,178.6 245.5,179.5C247.5,180.3 249.5,181.2 251.5,182.1C253.5,182.9 255.5,183.8 257.5,184.7C259.5,185.5 261.5,186.4 263.5,187.3C265.5,188.1 267.5,189 269.5,189.9C271.5,190.7 273.5,191.6 275.5,192.5C277.5,193.3 279.5,194.2 281.5,195.1C283.5,196 285.5,196.9 287.5,197.8C289.5,198.6 291.5,199.5 293.5,200.4C295.5,201.3 297.5,202.2 299.5,203.1C301.5,204 303.5,204.9 305.5,205.8C307.5,206.8 309.5,207.7 311.5,208.6C313.5,209.5 315.5,210.5 317.5,211.4C319.5,212.4 321.5,213.3 323.5,214.3C325.5,215.2 327.5,216.2 329.5,217.2C331.5,218.1 333.5,219.1 335.5,220.1C337.5,221.1 339.5,222.1 341.5,223.1C343.5,224.1 345.5,225.1 347.5,226.2C349.5,227.2 351.5,228.2 353.5,229.3C355.5,230.3 357.5,231.4 359.5,232.5C361.5,233.6 363.5,234.7 365.5,235.8C367.5,236.9 369.5,238 371.5,239.1C373.5,240.2 375.5,241.4 377.5,242.5C379.5,243.7 381.5,244.9 383.5,246C385.5,247.2 387.5,248.4 389.5,249.6C391.5,250.9 393.5,252.1 395.5,253.3C397.5,254.6 399.5,255.8 401.5,257.1C403.5,258.4 405.5,259.7 407.5,260.9C409.5,262.2 411.5,263.5 413.5,264.8C415.5,266.1 417.5,267.5 419.5,268.8C421.5,270.1 423.5,271.4 425.5,272.7C427.5,274.1 429.5,275.4 431.5,276.7C433.5,278 435.5,279.4 437.5,280.7C439.5,282 441.5,283.4 443.5,284.7C445.5,286 447.5,287.3 449.5,288.7C451.5,290 453.5,291.3 455.5,292.6C457.5,293.9 459.5,295.2 461.5,296.5C463.5,297.8 465.5,299.1 467.5,300.3C469.5,301.6 471.5,302.9 473.5,304.1C475.5,305.4 477.5,306.6 479.5,307.8C481.5,309 483.5,310.2 485.5,311.4C487.5,312.6 489.5,313.8 491.5,315C493.5,316.1 495.5,317.2 497.5,318.4C499.5,319.5 501.5,320.6 503.5,321.6C505.5,322.7 507.5,323.7 509.5,324.8C511.5,325.8 513.5,326.8 515.5,327.8C517.5,328.7 519.5,329.7 521.5,330.6C523.5,331.5 525.5,332.4 527.5,333.3C529.5,334.1 531.5,334.9 533.5,335.7C535.5,336.5 537.5,337.3 539.5,338C541.5,338.7 543.5,339.4 545.5,340.1C547.5,340.8 549.5,341.4 551.5,342.1C553.5,342.7 555.5,343.3 557.5,343.8C559.5,344.4 561.5,344.9 563.5,345.5C565.5,346 567.5,346.5 569.5,346.9C571.5,347.4 573.5,347.8 575.5,348.3C577.5,348.7 579.5,349.1 581.5,349.5C583.5,349.9 585.5,350.2 587.5,350.6C589.5,350.9 591.5,351.3 593.5,351.6C595.5,351.9 597.5,352.2 599.5,352.5C601.5,352.8 603.5,353 605.5,353.3C607.5,353.5 609.5,353.8 611.5,354C613.5,354.2 615.5,354.5 617.5,354.7C619.5,354.9 621.5,355.1 623.5,355.3C625.5,355.5 627.5,355.6 629.5,355.8C631.5,356 633.5,356.2 635.5,356.3C637.5,356.5 639.5,356.7 641.5,356.8C643.5,356.9 645.6,357 647.5,357C649.4,357 652.1,357 653,357" stroke="#fbbc00"/><path d="M89.5,102.8C90.5,103.3 93.5,104.7 95.5,105.7C97.5,106.7 99.5,107.7 101.5,108.7C103.5,109.6 105.5,110.6 107.5,111.6C109.5,112.5 111.5,113.5 113.5,114.4C115.5,115.4 117.5,116.4 119.5,117.3C121.5,118.3 123.5,119.2 125.5,120.1C127.5,121.1 129.5,122 131.5,123C133.5,123.9 135.5,124.8 137.5,125.8C139.5,126.7 141.5,127.6 143.5,128.6C145.5,129.5 147.5,130.4 149.5,131.3C151.5,132.2 153.5,133.2 155.5,134.1C157.5,135 159.5,135.9 161.5,136.8C163.5,137.7 165.5,138.6 167.5,139.5C169.5,140.4 171.5,141.3 173.5,142.2C175.5,143.1 177.5,144 179.5,144.9C181.5,145.8 183.5,146.7 185.5,147.6C187.5,148.5 189.5,149.4 191.5,150.3C193.5,151.2 195.5,152.1 197.5,153C199.5,153.8 201.5,154.7 203.5,155.6C205.5,156.5 207.5,157.4 209.5,158.3C211.5,159.1 213.5,160 215.5,160.9C217.5,161.8 219.5,162.6 221.5,163.5C223.5,164.4 225.5,165.3 227.5,166.1C229.5,167 231.5,167.9 233.5,168.7C235.5,169.6 237.5,170.5 239.5,171.3C241.5,172.2 243.5,173.1 245.5,173.9C247.5,174.8 249.5,175.7 251.5,176.5C253.5,177.4 255.5,178.3 257.5,179.1C259.5,180 261.5,180.9 263.5,181.8C265.5,182.6 267.5,183.5 269.5,184.4C271.5,185.3 273.5,186.1 275.5,187C277.5,187.9 279.5,188.8 281.5,189.7C283.5,190.6 285.5,191.4 287.5,192.3C289.5,193.2 291.5,194.1 293.5,195C295.5,195.9 297.5,196.9 299.5,197.8C301.5,198.7 303.5,199.6 305.5,200.5C307.5,201.5 309.5,202.4 311.5,203.3C313.5,204.3 315.5,205.2 317.5,206.2C319.5,207.2 321.5,208.1 323.5,209.1C325.5,210.1 327.5,211 329.5,212C331.5,213 333.5,214 335.5,215C337.5,216.1 339.5,217.1 341.5,218.1C343.5,219.1 345.5,220.2 347.5,221.2C349.5,222.3 351.5,223.3 353.5,224.4C355.5,225.5 357.5,226.6 359.5,227.7C361.5,228.8 363.5,229.9 365.5,231C367.5,232.1 369.5,233.3 371.5,234.4C373.5,235.6 375.5,236.7 377.5,237.9C379.5,239.1 381.5,240.3 383.5,241.5C385.5,242.7 387.5,243.9 389.5,245.1C391.5,246.4 393.5,247.6 395.5,248.9C397.5,250.2 399.5,251.4 401.5,252.7C403.5,254 405.5,255.3 407.5,256.6C409.5,257.9 411.5,259.3 413.5,260.6C415.5,261.9 417.5,263.3 419.5,264.6C421.5,265.9 423.5,267.3 425.5,268.6C427.5,270 429.5,271.3 431.5,272.7C433.5,274 435.5,275.4 437.5,276.7C439.5,278.1 441.5,279.4 443.5,280.8C445.5,282.1 447.5,283.5 449.5,284.8C451.5,286.1 453.5,287.5 455.5,288.8C457.5,290.1 459.5,291.5 461.5,292.8C463.5,294.1 465.5,295.4 467.5,296.7C469.5,298 471.5,299.3 473.5,300.5C475.5,301.8 477.5,303 479.5,304.3C481.5,305.5 483.5,306.8 485.5,308C487.5,309.2 489.5,310.4 491.5,311.5C493.5,312.7 495.5,313.9 497.5,315C499.5,316.1 501.5,317.3 503.5,318.4C505.5,319.4 507.5,320.5 509.5,321.6C511.5,322.6 513.5,323.6 515.5,324.6C517.5,325.6 519.5,326.6 521.5,327.5C523.5,328.4 525.5,329.4 527.5,330.2C529.5,331.1 531.5,332 533.5,332.8C535.5,333.6 537.5,334.4 539.5,335.1C541.5,335.9 543.5,336.6 545.5,337.3C547.5,338 549.5,338.7 551.5,339.3C553.5,340 555.5,340.6 557.5,341.2C559.5,341.8 561.5,342.3 563.5,342.9C565.5,343.4 567.5,343.9 569.5,344.4C571.5,344.9 573.5,345.4 575.5,345.9C577.5,346.4 579.5,346.8 581.5,347.2C583.5,347.7 585.5,348.1 587.5,348.5C589.5,348.9 591.5,349.2 593.5,349.6C595.5,350 597.5,350.3 599.5,350.7C601.5,351 603.5,351.4 605.5,351.7C607.5,352 609.5,352.3 611.5,352.6C613.5,352.9 615.5,353.2 617.5,353.5C619.5,353.8 621.5,354 623.5,354.3C625.5,354.6 627.5,354.8 629.5,355.1C631.5,355.3 633.5,355.6 635.5,355.8C637.5,356.1 639.5,356.3 641.5,356.5C643.5,356.7 645.6,356.9 647.5,357C649.4,357.1 652.1,357 653,357" stroke="#3a8fdc"/><path d="M89.5,94.5C90.5,95 93.5,96.7 95.5,97.8C97.5,99 99.5,100.1 101.5,101.1C103.5,102.2 105.5,103.3 107.5,104.4C109.5,105.5 111.5,106.5 113.5,107.6C115.5,108.6 117.5,109.7 119.5,110.7C121.5,111.7 123.5,112.8 125.5,113.8C127.5,114.8 129.5,115.8 131.5,116.8C133.5,117.8 135.5,118.8 137.5,119.8C139.5,120.8 141.5,121.8 143.5,122.7C145.5,123.7 147.5,124.7 149.5,125.6C151.5,126.6 153.5,127.5 155.5,128.5C157.5,129.4 159.5,130.4 161.5,131.3C163.5,132.3 165.5,133.2 167.5,134.1C169.5,135 171.5,136 173.5,136.9C175.5,137.8 177.5,138.7 179.5,139.6C181.5,140.5 183.5,141.4 185.5,142.3C187.5,143.2 189.5,144.1 191.5,145C193.5,145.9 195.5,146.8 197.5,147.7C199.5,148.6 201.5,149.5 203.5,150.4C205.5,151.3 207.5,152.2 209.5,153C211.5,153.9 213.5,154.8 215.5,155.7C217.5,156.6 219.5,157.5 221.5,158.3C223.5,159.2 225.5,160.1 227.5,161C229.5,161.9 231.5,162.7 233.5,163.6C235.5,164.5 237.5,165.4 239.5,166.3C241.5,167.1 243.5,168 245.5,168.9C247.5,169.8 249.5,170.7 251.5,171.6C253.5,172.4 255.5,173.3 257.5,174.2C259.5,175.1 261.5,176 263.5,176.9C265.5,177.8 267.5,178.7 269.5,179.6C271.5,180.5 273.5,181.4 275.5,182.3C277.5,183.2 279.5,184.2 281.5,185.1C283.5,186 285.5,186.9 287.5,187.9C289.5,188.8 291.5,189.7 293.5,190.7C295.5,191.6 297.5,192.5 299.5,193.5C301.5,194.4 303.5,195.4 305.5,196.4C307.5,197.3 309.5,198.3 311.5,199.3C313.5,200.2 315.5,201.2 317.5,202.2C319.5,203.2 321.5,204.2 323.5,205.2C325.5,206.2 327.5,207.2 329.5,208.2C331.5,209.3 333.5,210.3 335.5,211.3C337.5,212.4 339.5,213.4 341.5,214.5C343.5,215.5 345.5,216.6 347.5,217.7C349.5,218.7 351.5,219.8 353.5,220.9C355.5,222 357.5,223.1 359.5,224.2C361.5,225.4 363.5,226.5 365.5,227.6C367.5,228.8 369.5,229.9 371.5,231.1C373.5,232.2 375.5,233.4 377.5,234.6C379.5,235.8 381.5,237 383.5,238.2C385.5,239.4 387.5,240.6 389.5,241.8C391.5,243.1 393.5,244.3 395.5,245.6C397.5,246.8 399.5,248.1 401.5,249.4C403.5,250.7 405.5,251.9 407.5,253.2C409.5,254.5 411.5,255.8 413.5,257.2C415.5,258.5 417.5,259.8 419.5,261.1C421.5,262.4 423.5,263.7 425.5,265.1C427.5,266.4 429.5,267.7 431.5,269.1C433.5,270.4 435.5,271.7 437.5,273C439.5,274.4 441.5,275.7 443.5,277C445.5,278.4 447.5,279.7 449.5,281C451.5,282.3 453.5,283.7 455.5,285C457.5,286.3 459.5,287.6 461.5,288.9C463.5,290.2 465.5,291.5 467.5,292.8C469.5,294.1 471.5,295.4 473.5,296.6C475.5,297.9 477.5,299.2 479.5,300.4C481.5,301.7 483.5,302.9 485.5,304.1C487.5,305.3 489.5,306.5 491.5,307.7C493.5,308.9 495.5,310.1 497.5,311.2C499.5,312.4 501.5,313.5 503.5,314.6C505.5,315.8 507.5,316.9 509.5,317.9C511.5,319 513.5,320.1 515.5,321.1C517.5,322.1 519.5,323.1 521.5,324.1C523.5,325.1 525.5,326 527.5,327C529.5,327.9 531.5,328.8 533.5,329.7C535.5,330.5 537.5,331.4 539.5,332.2C541.5,333 543.5,333.8 545.5,334.5C547.5,335.3 549.5,336 551.5,336.7C553.5,337.4 555.5,338.1 557.5,338.8C559.5,339.4 561.5,340.1 563.5,340.7C565.5,341.3 567.5,341.9 569.5,342.5C571.5,343 573.5,343.6 575.5,344.1C577.5,344.6 579.5,345.1 581.5,345.6C583.5,346.1 585.5,346.6 587.5,347C589.5,347.5 591.5,347.9 593.5,348.4C595.5,348.8 597.5,349.2 599.5,349.6C601.5,349.9 603.5,350.3 605.5,350.7C607.5,351 609.5,351.4 611.5,351.7C613.5,352 615.5,352.4 617.5,352.7C619.5,353 621.5,353.3 623.5,353.5C625.5,353.8 627.5,354.1 629.5,354.4C631.5,354.6 633.5,354.9 635.5,355.1C637.5,355.4 639.5,355.6 641.5,355.9C643.5,356.1 645.6,356.3 647.5,356.5C649.4,356.7 652.1,356.9 653,357" stroke="#5ea938"/><path d="M89.5,84.3C90.5,84.9 93.5,86.7 95.5,87.8C97.5,88.9 99.5,90.1 101.5,91.2C103.5,92.3 105.5,93.4 107.5,94.5C109.5,95.6 111.5,96.7 113.5,97.8C115.5,98.9 117.5,99.9 119.5,101C121.5,102.1 123.5,103.1 125.5,104.2C127.5,105.2 129.5,106.2 131.5,107.3C133.5,108.3 135.5,109.3 137.5,110.3C139.5,111.3 141.5,112.3 143.5,113.3C145.5,114.3 147.5,115.3 149.5,116.3C151.5,117.3 153.5,118.3 155.5,119.2C157.5,120.2 159.5,121.2 161.5,122.1C163.5,123.1 165.5,124 167.5,125C169.5,125.9 171.5,126.9 173.5,127.8C175.5,128.8 177.5,129.7 179.5,130.6C181.5,131.5 183.5,132.5 185.5,133.4C187.5,134.3 189.5,135.2 191.5,136.1C193.5,137.1 195.5,138 197.5,138.9C199.5,139.8 201.5,140.7 203.5,141.6C205.5,142.5 207.5,143.4 209.5,144.3C211.5,145.2 213.5,146.1 215.5,147C217.5,147.9 219.5,148.8 221.5,149.7C223.5,150.6 225.5,151.5 227.5,152.4C229.5,153.2 231.5,154.1 233.5,155C235.5,155.9 237.5,156.8 239.5,157.7C241.5,158.6 243.5,159.5 245.5,160.4C247.5,161.3 249.5,162.2 251.5,163.1C253.5,164 255.5,164.9 257.5,165.8C259.5,166.7 261.5,167.6 263.5,168.5C265.5,169.4 267.5,170.3 269.5,171.2C271.5,172.1 273.5,173 275.5,173.9C277.5,174.8 279.5,175.7 281.5,176.7C283.5,177.6 285.5,178.5 287.5,179.4C289.5,180.4 291.5,181.3 293.5,182.2C295.5,183.2 297.5,184.1 299.5,185.1C301.5,186 303.5,187 305.5,187.9C307.5,188.9 309.5,189.9 311.5,190.8C313.5,191.8 315.5,192.8 317.5,193.8C319.5,194.8 321.5,195.8 323.5,196.7C325.5,197.7 327.5,198.8 329.5,199.8C331.5,200.8 333.5,201.8 335.5,202.8C337.5,203.9 339.5,204.9 341.5,205.9C343.5,207 345.5,208 347.5,209.1C349.5,210.2 351.5,211.2 353.5,212.3C355.5,213.4 357.5,214.5 359.5,215.6C361.5,216.7 363.5,217.8 365.5,218.9C367.5,220 369.5,221.2 371.5,222.3C373.5,223.5 375.5,224.6 377.5,225.8C379.5,226.9 381.5,228.1 383.5,229.3C385.5,230.5 387.5,231.7 389.5,232.9C391.5,234.1 393.5,235.3 395.5,236.6C397.5,237.8 399.5,239.1 401.5,240.3C403.5,241.6 405.5,242.8 407.5,244.1C409.5,245.4 411.5,246.7 413.5,247.9C415.5,249.2 417.5,250.5 419.5,251.8C421.5,253.1 423.5,254.4 425.5,255.7C427.5,257 429.5,258.3 431.5,259.6C433.5,261 435.5,262.3 437.5,263.6C439.5,264.9 441.5,266.2 443.5,267.5C445.5,268.9 447.5,270.2 449.5,271.5C451.5,272.8 453.5,274.1 455.5,275.4C457.5,276.7 459.5,278.1 461.5,279.4C463.5,280.7 465.5,282 467.5,283.3C469.5,284.6 471.5,285.8 473.5,287.1C475.5,288.4 477.5,289.7 479.5,290.9C481.5,292.2 483.5,293.5 485.5,294.7C487.5,296 489.5,297.2 491.5,298.4C493.5,299.6 495.5,300.8 497.5,302C499.5,303.2 501.5,304.4 503.5,305.6C505.5,306.7 507.5,307.9 509.5,309C511.5,310.2 513.5,311.3 515.5,312.4C517.5,313.5 519.5,314.5 521.5,315.6C523.5,316.6 525.5,317.7 527.5,318.7C529.5,319.7 531.5,320.7 533.5,321.6C535.5,322.6 537.5,323.5 539.5,324.4C541.5,325.3 543.5,326.2 545.5,327.1C547.5,328 549.5,328.8 551.5,329.6C553.5,330.5 555.5,331.2 557.5,332C559.5,332.8 561.5,333.6 563.5,334.3C565.5,335 567.5,335.7 569.5,336.4C571.5,337.1 573.5,337.8 575.5,338.4C577.5,339.1 579.5,339.7 581.5,340.3C583.5,340.9 585.5,341.5 587.5,342.1C589.5,342.6 591.5,343.2 593.5,343.7C595.5,344.2 597.5,344.7 599.5,345.2C601.5,345.7 603.5,346.2 605.5,346.6C607.5,347.1 609.5,347.5 611.5,347.9C613.5,348.4 615.5,348.8 617.5,349.1C619.5,349.5 621.5,349.9 623.5,350.2C625.5,350.6 627.5,350.9 629.5,351.2C631.5,351.5 633.5,351.8 635.5,352.1C637.5,352.4 639.5,352.7 641.5,352.9C643.5,353.2 645.6,353.4 647.5,353.6C649.4,353.8 652.1,354.1 653,354.2" stroke="#a2addf"/></g><line x1="363.8" y1="168" x2="363.8" y2="357" stroke="#1f2d86" stroke-width="2.4"/><text x="372.4" y="182" font-size="17.5" fill="#2f5aab" text-anchor="start" stroke="#2f5aab" stroke-width="0.5" textLength="65.7" lengthAdjust="spacingAndGlyphs">500 KHz</text><text x="274.6" y="122.7" font-size="18" fill="#ea0b12" text-anchor="start" stroke="#ea0b12" stroke-width="0.5" textLength="137.8" lengthAdjust="spacingAndGlyphs">40 min Ischemia</text><text x="182.4" y="339.8" font-size="17.5" fill="#ea0b12" text-anchor="start" stroke="#ea0b12" stroke-width="0.5" textLength="67.6" lengthAdjust="spacingAndGlyphs">Baseline</text><text x="110.6" y="43.4" font-size="20" fill="#000" text-anchor="start" textLength="9.8" lengthAdjust="spacingAndGlyphs" font-weight="bold">a</text><text transform="translate(43,205.2) rotate(-90)" x="0" y="0" font-size="17.5" font-weight="bold" text-anchor="middle" textLength="156.6" lengthAdjust="spacingAndGlyphs">Resistance (ohms)</text><text x="342.8" y="412.6" font-size="16" fill="#000" text-anchor="start" textLength="129.7" lengthAdjust="spacingAndGlyphs" font-weight="bold">Frequency (Hz)</text><path d="M217,307.7C216.3,304.9 213.6,296.9 212.6,291C211.6,285.1 211.2,278 211,272C210.8,266 211,260.5 211.5,254.8C212,249.1 212.6,242.6 213.8,238C215,233.4 217.2,231.3 218.9,227.5C220.6,223.7 221.4,220.4 224,215C226.6,209.6 230.9,200.4 234.2,195C237.4,189.6 240.2,186.4 243.5,182.5C246.8,178.6 250.7,174.7 254,171.5C257.3,168.3 259.9,166.2 263.4,163.5C266.9,160.8 271.4,157.8 275,155.5C278.6,153.2 281,152 285,150C289,148 296.7,144.6 299,143.5" fill="none" stroke="#ea0b12" stroke-width="2.6" stroke-linecap="round"/><polygon points="297.2,136.4 313.5,137.6 303.4,149.5" fill="#ea0b12"/><g font-size="15" fill="#000" stroke="#000" stroke-width="0.55"><text x="71.5" y="800.2" text-anchor="end" textLength="7.9" lengthAdjust="spacingAndGlyphs">0</text><text x="71.5" y="751.2" text-anchor="end" textLength="15.8" lengthAdjust="spacingAndGlyphs">10</text><text x="71.5" y="702.1" text-anchor="end" textLength="15.8" lengthAdjust="spacingAndGlyphs">20</text><text x="71.5" y="653.1" text-anchor="end" textLength="15.8" lengthAdjust="spacingAndGlyphs">30</text><text x="71.5" y="604.1" text-anchor="end" textLength="15.8" lengthAdjust="spacingAndGlyphs">40</text><text x="71.5" y="555.1" text-anchor="end" textLength="15.8" lengthAdjust="spacingAndGlyphs">50</text><text x="71.5" y="506" text-anchor="end" textLength="15.8" lengthAdjust="spacingAndGlyphs">60</text><text x="71.5" y="457" text-anchor="end" textLength="15.8" lengthAdjust="spacingAndGlyphs">70</text><text x="87.6" y="822.8" text-anchor="middle" textLength="39.7" lengthAdjust="spacingAndGlyphs">50000</text><text x="331.7" y="822.8" text-anchor="middle" textLength="47.3" lengthAdjust="spacingAndGlyphs">500000</text><text x="576.5" y="822.8" text-anchor="middle" textLength="54" lengthAdjust="spacingAndGlyphs">5000000</text></g><line x1="87.6" y1="455.5" x2="87.6" y2="798.8" stroke="#111" stroke-width="1.7"/><line x1="87" y1="798.3" x2="650.5" y2="798.3" stroke="#111" stroke-width="1.8"/><g fill="none" stroke-width="3.7" stroke-linecap="round" stroke-linejoin="round"><path d="M88,617.6C89,621.1 92,634.1 94,639.1C96,644 98,645.7 100,647.3C102,648.9 104,649.6 106,648.6C108,647.7 110,644.6 112,641.6C114,638.6 116,632.5 118,630.5C120,628.5 122,628.8 124,629.4C126,629.9 128,632.9 130,634C132,635 134,634.9 136,635.9C138,636.8 140,637.5 142,639.6C144,641.7 146,645.8 148,648.5C150,651.1 152,653.8 154,655.5C156,657.2 158,658.2 160,658.7C162,659.2 164,659 166,658.7C168,658.3 170,657.3 172,656.5C174,655.6 176,654.4 178,653.7C180,652.9 182,652.1 184,651.8C186,651.5 188,651.9 190,652.1C192,652.2 194,652.4 196,652.6C198,652.7 200,652.5 202,653.1C204,653.7 206,655 208,656C210,657.1 212,658.9 214,659.6C216,660.3 218,660.6 220,660.4C222,660.2 224,659 226,658.5C228,657.9 230,657.3 232,656.9C234,656.5 236,656.2 238,655.9C240,655.6 242,655.3 244,655C246,654.7 248,654.4 250,654.2C252,653.9 254,653.6 256,653.4C258,653.2 260,653 262,652.8C264,652.6 266,652.4 268,652.3C270,652.1 272,652 274,651.9C276,651.8 278,651.8 280,651.7C282,651.6 284,651.5 286,651.3C288,651 290,650.7 292,650.3C294,649.9 296,649.5 298,649C300,648.6 302,648.1 304,647.7C306,647.3 308,646.9 310,646.5C312,646.1 314,645.7 316,645.3C318,645 320,644.6 322,644.3C324,643.9 326,643.6 328,643.3C330,643 332,642.6 334,642.3C336,642 338,641.7 340,641.3C342,641 344,640.7 346,640.3C348,640 350,639.6 352,639.3C354,639 356,638.7 358,638.5C360,638.3 362,638.1 364,638C366,637.9 368,637.8 370,637.9C372,637.9 374,638.1 376,638.4C378,638.6 380,639 382,639.3C384,639.7 386,640 388,640.4C390,640.7 392,641 394,641.4C396,641.9 398,642.3 400,642.9C402,643.5 404,644.2 406,645C408,645.7 410,646.6 412,647.6C414,648.6 416,649.6 418,650.7C420,651.8 422,653 424,654.2C426,655.4 428,656.7 430,658.1C432,659.4 434,660.8 436,662.2C438,663.6 440,665.1 442,666.6C444,668.1 446,669.7 448,671.3C450,672.8 452,674.4 454,676.1C456,677.7 458,679.3 460,681C462,682.6 464,684.3 466,686C468,687.7 470,689.5 472,691.2C474,693 476,694.8 478,696.6C480,698.5 482,700.4 484,702.3C486,704.3 488,706.3 490,708.3C492,710.3 494,712.3 496,714.3C498,716.2 500,718.1 502,720C504,721.8 506,723.5 508,725.3C510,727.2 512,728.9 514,730.8C516,732.7 518,734.6 520,736.5C522,738.4 524,740.3 526,742.1C528,743.9 530,745.6 532,747.1C534,748.7 536,750.1 538,751.5C540,752.9 542,754.2 544,755.5C546,756.9 548,758.2 550,759.6C552,760.9 554,762.5 556,763.7C558,765 560,766.2 562,767.1C564,768 566,768.5 568,769.1C570,769.7 572,770.3 574,770.9C576,771.5 578,772.1 580,772.7C582,773.3 584,773.9 586,774.3C588,774.8 590,775.2 592,775.6C594,776 596,776.3 598,776.5C600,776.8 602,777 604,777.2C606,777.4 608,777.5 610,777.6C612,777.7 614,777.8 616,777.8C618,777.9 620,777.9 622,777.9C624,777.9 626,777.8 628,777.8C630,777.8 632,777.7 634,777.7C636,777.6 638,777.5 640,777.5C642,777.4 644.2,777.3 646,777.2C647.8,777.2 649.8,777.1 650.5,777.1" stroke="#12398f"/><path d="M87.9,608.7C88.9,608.9 91.9,609.8 93.9,609.9C95.9,610.1 97.9,609.8 99.9,609.5C101.9,609.2 103.9,608.7 105.9,608.3C107.9,607.8 109.9,607.3 111.9,607C113.9,606.7 115.9,606.4 117.9,606.6C119.9,606.7 121.9,607 123.9,607.7C125.9,608.5 127.9,609.7 129.9,611.1C131.9,612.5 133.9,614.6 135.9,616.3C137.9,618 139.9,619.9 141.9,621.1C143.9,622.2 145.9,622.9 147.9,623.4C149.9,623.8 151.9,623.8 153.9,623.8C155.9,623.8 157.9,623.5 159.9,623.3C161.9,623 163.9,622.7 165.9,622.4C167.9,622.1 169.9,621.8 171.9,621.6C173.9,621.3 175.9,621.1 177.9,621C179.9,620.9 181.9,620.9 183.9,621.1C185.9,621.2 187.9,621.5 189.9,622.1C191.9,622.6 193.9,623.4 195.9,624.3C197.9,625.2 199.9,626.7 201.9,627.5C203.9,628.3 205.9,629 207.9,629.1C209.9,629.3 211.9,628.9 213.9,628.6C215.9,628.3 217.9,627.7 219.9,627.2C221.9,626.7 223.9,626.1 225.9,625.5C227.9,624.9 229.9,624.2 231.9,623.6C233.9,623.1 235.9,622.4 237.9,622C239.9,621.6 241.9,621.4 243.9,621.4C245.9,621.4 247.9,621.8 249.9,622.2C251.9,622.5 253.9,623.1 255.9,623.4C257.9,623.8 259.9,624.2 261.9,624.3C263.9,624.4 265.9,624.3 267.9,624.1C269.9,623.8 271.9,623.3 273.9,622.8C275.9,622.4 277.9,621.9 279.9,621.4C281.9,620.9 283.9,620.4 285.9,619.9C287.9,619.4 289.9,618.9 291.9,618.4C293.9,617.9 295.9,617.3 297.9,616.8C299.9,616.3 301.9,615.8 303.9,615.3C305.9,614.8 307.9,614.3 309.9,613.8C311.9,613.3 313.9,612.8 315.9,612.4C317.9,611.9 319.9,611.4 321.9,610.9C323.9,610.5 325.9,610 327.9,609.6C329.9,609.1 331.9,608.7 333.9,608.2C335.9,607.8 337.9,607.4 339.9,607C341.9,606.6 343.9,606.2 345.9,605.9C347.9,605.5 349.9,605.2 351.9,604.9C353.9,604.6 355.9,604.3 357.9,604C359.9,603.8 361.9,603.6 363.9,603.4C365.9,603.3 367.9,603.1 369.9,603.1C371.9,603 373.9,603 375.9,603.1C377.9,603.2 379.9,603.3 381.9,603.5C383.9,603.7 385.9,604 387.9,604.3C389.9,604.7 391.9,605.1 393.9,605.6C395.9,606 397.9,606.6 399.9,607.2C401.9,607.8 403.9,608.5 405.9,609.1C407.9,609.8 409.9,610.6 411.9,611.3C413.9,612.1 415.9,612.9 417.9,613.7C419.9,614.5 421.9,615.4 423.9,616.4C425.9,617.4 427.9,618.4 429.9,619.6C431.9,620.8 433.9,622.2 435.9,623.6C437.9,625 439.9,626.6 441.9,628.2C443.9,629.8 445.9,631.4 447.9,633.1C449.9,634.8 451.9,636.5 453.9,638.2C455.9,639.9 457.9,641.5 459.9,643.1C461.9,644.8 463.9,646.2 465.9,647.9C467.9,649.5 469.9,651.1 471.9,653C473.9,654.9 475.9,657 477.9,659.1C479.9,661.3 481.9,663.8 483.9,665.9C485.9,667.9 487.9,670 489.9,671.6C491.9,673.2 493.9,674.3 495.9,675.4C497.9,676.5 499.9,677.2 501.9,678.4C503.9,679.6 505.9,680.9 507.9,682.6C509.9,684.3 511.9,686.4 513.9,688.6C515.9,690.9 517.9,693.4 519.9,696C521.9,698.7 523.9,701.5 525.9,704.3C527.9,707.2 529.9,710.2 531.9,713C533.9,715.9 535.9,718.9 537.9,721.6C539.9,724.4 541.9,727.1 543.9,729.6C545.9,732.1 547.9,734.5 549.9,736.6C551.9,738.7 553.9,740.6 555.9,742.2C557.9,743.9 559.9,745.4 561.9,746.7C563.9,748 565.9,749.1 567.9,750.1C569.9,751.1 571.9,751.9 573.9,752.7C575.9,753.4 577.9,754.1 579.9,754.7C581.9,755.3 583.9,755.9 585.9,756.4C587.9,756.9 589.9,757.4 591.9,757.9C593.9,758.4 595.9,758.9 597.9,759.5C599.9,760 601.9,760.5 603.9,761C605.9,761.5 607.9,762 609.9,762.5C611.9,763 613.9,763.5 615.9,763.9C617.9,764.4 619.9,764.9 621.9,765.3C623.9,765.8 625.9,766.3 627.9,766.7C629.9,767.1 631.9,767.5 633.9,767.9C635.9,768.4 637.9,768.7 639.9,769.1C641.9,769.5 644.1,769.9 645.9,770.2C647.7,770.5 649.7,770.8 650.5,770.9" stroke="#7a7a7a"/><path d="M87.9,582.4C88.9,583.1 91.9,585.2 93.9,586.6C95.9,587.9 97.9,589.2 99.9,590.5C101.9,591.8 103.9,593.1 105.9,594.4C107.9,595.8 109.9,597.5 111.9,598.6C113.9,599.8 115.9,601.1 117.9,601.4C119.9,601.8 121.9,601.5 123.9,600.8C125.9,600.2 127.9,598.8 129.9,597.7C131.9,596.5 133.9,594.7 135.9,593.8C137.9,592.9 139.9,592.1 141.9,592.3C143.9,592.5 145.9,594 147.9,595.1C149.9,596.3 151.9,597.9 153.9,598.9C155.9,599.9 157.9,600.4 159.9,601.2C161.9,601.9 163.9,602.6 165.9,603.5C167.9,604.4 169.9,606 171.9,606.8C173.9,607.6 175.9,608.5 177.9,608.4C179.9,608.2 181.9,607 183.9,605.8C185.9,604.6 187.9,602.7 189.9,601.3C191.9,599.8 193.9,598.1 195.9,597.2C197.9,596.2 199.9,595.4 201.9,595.4C203.9,595.5 205.9,596.5 207.9,597.3C209.9,598.1 211.9,599.6 213.9,600.3C215.9,601.1 217.9,601.4 219.9,601.7C221.9,602.1 223.9,602.1 225.9,602.4C227.9,602.7 229.9,603.4 231.9,603.6C233.9,603.8 235.9,604.2 237.9,603.7C239.9,603.2 241.9,602 243.9,600.7C245.9,599.4 247.9,597.4 249.9,595.9C251.9,594.4 253.9,592.8 255.9,591.8C257.9,590.8 259.9,590.1 261.9,589.9C263.9,589.7 265.9,590.3 267.9,590.8C269.9,591.3 271.9,592.3 273.9,592.6C275.9,592.9 277.9,592.8 279.9,592.5C281.9,592.2 283.9,591.4 285.9,590.8C287.9,590.2 289.9,589.6 291.9,589C293.9,588.4 295.9,587.8 297.9,587.3C299.9,586.7 301.9,586.2 303.9,585.7C305.9,585.2 307.9,584.7 309.9,584.2C311.9,583.8 313.9,583.3 315.9,582.9C317.9,582.4 319.9,582 321.9,581.6C323.9,581.2 325.9,580.8 327.9,580.4C329.9,580 331.9,579.6 333.9,579.3C335.9,578.9 337.9,578.6 339.9,578.2C341.9,577.9 343.9,577.5 345.9,577.2C347.9,576.9 349.9,576.6 351.9,576.2C353.9,575.9 355.9,575.6 357.9,575.2C359.9,574.9 361.9,574.5 363.9,574.2C365.9,573.9 367.9,573.6 369.9,573.4C371.9,573.2 373.9,573.1 375.9,573.1C377.9,573 379.9,573.1 381.9,573.3C383.9,573.5 385.9,573.9 387.9,574.4C389.9,574.9 391.9,575.6 393.9,576.3C395.9,577 397.9,577.8 399.9,578.7C401.9,579.5 403.9,580.4 405.9,581.4C407.9,582.3 409.9,583.3 411.9,584.4C413.9,585.4 415.9,586.6 417.9,587.8C419.9,589 421.9,590.2 423.9,591.6C425.9,593 427.9,594.4 429.9,596C431.9,597.6 433.9,599.2 435.9,601C437.9,602.8 439.9,604.7 441.9,606.8C443.9,608.8 445.9,611 447.9,613.3C449.9,615.6 451.9,618 453.9,620.4C455.9,622.8 457.9,625.2 459.9,627.5C461.9,629.8 463.9,631.9 465.9,634.2C467.9,636.4 469.9,638.5 471.9,640.9C473.9,643.2 475.9,645.7 477.9,648.2C479.9,650.7 481.9,653.4 483.9,656.1C485.9,658.7 487.9,661.3 489.9,663.8C491.9,666.3 493.9,668.6 495.9,670.9C497.9,673.2 499.9,675.4 501.9,677.6C503.9,679.7 505.9,681.8 507.9,684C509.9,686.2 511.9,688.3 513.9,690.6C515.9,692.9 517.9,695.3 519.9,697.7C521.9,700.2 523.9,702.9 525.9,705.5C527.9,708.2 529.9,711 531.9,713.8C533.9,716.6 535.9,719.4 537.9,722.1C539.9,724.8 541.9,727.6 543.9,730.1C545.9,732.7 547.9,735.2 549.9,737.4C551.9,739.7 553.9,741.8 555.9,743.6C557.9,745.5 559.9,747.1 561.9,748.4C563.9,749.8 565.9,750.9 567.9,751.9C569.9,752.9 571.9,753.6 573.9,754.3C575.9,755.1 577.9,755.6 579.9,756.1C581.9,756.6 583.9,757 585.9,757.5C587.9,757.9 589.9,758.3 591.9,758.8C593.9,759.3 595.9,759.8 597.9,760.3C599.9,760.8 601.9,761.4 603.9,762C605.9,762.6 607.9,763.2 609.9,763.8C611.9,764.3 613.9,764.9 615.9,765.4C617.9,766 619.9,766.5 621.9,766.9C623.9,767.3 625.9,767.7 627.9,768C629.9,768.3 631.9,768.5 633.9,768.7C635.9,769 637.9,769.2 639.9,769.5C641.9,769.9 644.1,770.3 645.9,770.7C647.7,771.1 649.7,771.8 650.5,772" stroke="#cf9a00"/><path d="M87.9,553.9C88.9,554 91.9,554.4 93.9,554.7C95.9,554.9 97.9,555.2 99.9,555.5C101.9,555.9 103.9,556.2 105.9,556.5C107.9,556.9 109.9,557.2 111.9,557.6C113.9,557.9 115.9,558.3 117.9,558.7C119.9,559.1 121.9,559.5 123.9,559.9C125.9,560.3 127.9,560.7 129.9,561.1C131.9,561.5 133.9,561.9 135.9,562.3C137.9,562.7 139.9,563.2 141.9,563.6C143.9,564 145.9,564.4 147.9,564.8C149.9,565.2 151.9,565.6 153.9,566C155.9,566.4 157.9,566.8 159.9,567.2C161.9,567.6 163.9,567.9 165.9,568.3C167.9,568.7 169.9,569 171.9,569.3C173.9,569.7 175.9,570 177.9,570.3C179.9,570.6 181.9,570.9 183.9,571.2C185.9,571.4 187.9,571.7 189.9,571.9C191.9,572.1 193.9,572.3 195.9,572.5C197.9,572.7 199.9,572.9 201.9,573C203.9,573.1 205.9,573.2 207.9,573.3C209.9,573.4 211.9,573.4 213.9,573.4C215.9,573.4 217.9,573.4 219.9,573.4C221.9,573.3 223.9,573.3 225.9,573.2C227.9,573.1 229.9,573 231.9,572.8C233.9,572.7 235.9,572.5 237.9,572.4C239.9,572.2 241.9,572 243.9,571.8C245.9,571.5 247.9,571.3 249.9,571.1C251.9,570.8 253.9,570.5 255.9,570.3C257.9,570 259.9,569.7 261.9,569.4C263.9,569.1 265.9,568.8 267.9,568.5C269.9,568.1 271.9,567.8 273.9,567.5C275.9,567.2 277.9,566.8 279.9,566.5C281.9,566.1 283.9,565.8 285.9,565.4C287.9,565.1 289.9,564.7 291.9,564.4C293.9,564 295.9,563.7 297.9,563.3C299.9,563 301.9,562.6 303.9,562.3C305.9,562 307.9,561.6 309.9,561.3C311.9,561 313.9,560.7 315.9,560.4C317.9,560.1 319.9,559.8 321.9,559.5C323.9,559.2 325.9,558.9 327.9,558.7C329.9,558.4 331.9,558.1 333.9,557.9C335.9,557.7 337.9,557.5 339.9,557.3C341.9,557.1 343.9,556.9 345.9,556.8C347.9,556.6 349.9,556.5 351.9,556.4C353.9,556.3 355.9,556.2 357.9,556.1C359.9,556.1 361.9,556 363.9,556C365.9,556.1 367.9,556.1 369.9,556.2C371.9,556.3 373.9,556.4 375.9,556.6C377.9,556.8 379.9,557.1 381.9,557.4C383.9,557.7 385.9,558.1 387.9,558.6C389.9,559.1 391.9,559.7 393.9,560.3C395.9,561 397.9,561.7 399.9,562.6C401.9,563.5 403.9,564.4 405.9,565.5C407.9,566.6 409.9,567.7 411.9,569C413.9,570.2 415.9,571.5 417.9,572.9C419.9,574.3 421.9,575.8 423.9,577.4C425.9,578.9 427.9,580.5 429.9,582.2C431.9,583.9 433.9,585.6 435.9,587.4C437.9,589.2 439.9,591 441.9,593C443.9,595 445.9,597 447.9,599.2C449.9,601.4 451.9,603.6 453.9,606C455.9,608.3 457.9,610.8 459.9,613.3C461.9,615.8 463.9,618.4 465.9,621C467.9,623.6 469.9,626.3 471.9,629.1C473.9,631.8 475.9,634.6 477.9,637.4C479.9,640.2 481.9,643.1 483.9,645.9C485.9,648.7 487.9,651.4 489.9,654.1C491.9,656.7 493.9,659.3 495.9,661.8C497.9,664.3 499.9,666.7 501.9,669.1C503.9,671.5 505.9,673.8 507.9,676.1C509.9,678.4 511.9,680.7 513.9,683.1C515.9,685.4 517.9,687.7 519.9,690.1C521.9,692.4 523.9,694.8 525.9,697.3C527.9,699.7 529.9,702.1 531.9,704.5C533.9,707 535.9,709.4 537.9,711.7C539.9,714.1 541.9,716.5 543.9,718.7C545.9,721 547.9,723.2 549.9,725.3C551.9,727.4 553.9,729.5 555.9,731.4C557.9,733.3 559.9,735.1 561.9,736.7C563.9,738.4 565.9,739.9 567.9,741.3C569.9,742.7 571.9,744 573.9,745.2C575.9,746.4 577.9,747.4 579.9,748.5C581.9,749.5 583.9,750.4 585.9,751.2C587.9,752.1 589.9,752.8 591.9,753.6C593.9,754.3 595.9,755 597.9,755.6C599.9,756.2 601.9,756.8 603.9,757.3C605.9,757.8 607.9,758.3 609.9,758.8C611.9,759.2 613.9,759.6 615.9,760C617.9,760.4 619.9,760.7 621.9,761C623.9,761.4 625.9,761.6 627.9,761.9C629.9,762.2 631.9,762.4 633.9,762.7C635.9,762.9 637.9,763.1 639.9,763.3C641.9,763.6 644.1,763.8 645.9,764C647.7,764.1 649.7,764.3 650.5,764.4" stroke="#2668aa"/><path d="M87.9,544.8C88.9,545 91.9,545.5 93.9,545.9C95.9,546.2 97.9,546.6 99.9,547C101.9,547.3 103.9,547.7 105.9,548.1C107.9,548.5 109.9,548.9 111.9,549.2C113.9,549.6 115.9,550 117.9,550.4C119.9,550.8 121.9,551.2 123.9,551.6C125.9,552 127.9,552.4 129.9,552.8C131.9,553.3 133.9,553.7 135.9,554.1C137.9,554.5 139.9,554.9 141.9,555.3C143.9,555.7 145.9,556.1 147.9,556.5C149.9,556.9 151.9,557.4 153.9,557.8C155.9,558.2 157.9,558.6 159.9,559C161.9,559.4 163.9,559.8 165.9,560.2C167.9,560.5 169.9,560.9 171.9,561.3C173.9,561.7 175.9,562 177.9,562.4C179.9,562.7 181.9,563 183.9,563.3C185.9,563.7 187.9,564 189.9,564.2C191.9,564.5 193.9,564.8 195.9,565C197.9,565.2 199.9,565.4 201.9,565.6C203.9,565.8 205.9,565.9 207.9,566.1C209.9,566.2 211.9,566.3 213.9,566.3C215.9,566.4 217.9,566.4 219.9,566.4C221.9,566.5 223.9,566.4 225.9,566.4C227.9,566.4 229.9,566.3 231.9,566.2C233.9,566.1 235.9,566 237.9,565.9C239.9,565.7 241.9,565.6 243.9,565.4C245.9,565.2 247.9,565 249.9,564.8C251.9,564.6 253.9,564.4 255.9,564.2C257.9,563.9 259.9,563.7 261.9,563.4C263.9,563.2 265.9,562.9 267.9,562.6C269.9,562.3 271.9,562 273.9,561.7C275.9,561.4 277.9,561.1 279.9,560.8C281.9,560.5 283.9,560.2 285.9,559.8C287.9,559.5 289.9,559.2 291.9,558.9C293.9,558.5 295.9,558.2 297.9,557.9C299.9,557.5 301.9,557.2 303.9,556.9C305.9,556.5 307.9,556.2 309.9,555.9C311.9,555.6 313.9,555.3 315.9,555C317.9,554.6 319.9,554.3 321.9,554.1C323.9,553.8 325.9,553.5 327.9,553.2C329.9,552.9 331.9,552.7 333.9,552.4C335.9,552.2 337.9,551.9 339.9,551.7C341.9,551.5 343.9,551.3 345.9,551.1C347.9,550.9 349.9,550.7 351.9,550.6C353.9,550.4 355.9,550.3 357.9,550.2C359.9,550.1 361.9,550 363.9,550C365.9,549.9 367.9,549.9 369.9,549.9C371.9,550 373.9,550.1 375.9,550.2C377.9,550.4 379.9,550.6 381.9,551C383.9,551.3 385.9,551.7 387.9,552.2C389.9,552.7 391.9,553.3 393.9,554.1C395.9,554.8 397.9,555.6 399.9,556.6C401.9,557.6 403.9,558.7 405.9,560C407.9,561.2 409.9,562.6 411.9,564C413.9,565.4 415.9,567 417.9,568.6C419.9,570.2 421.9,571.8 423.9,573.5C425.9,575.1 427.9,576.8 429.9,578.4C431.9,580 433.9,581.5 435.9,583.2C437.9,584.8 439.9,586.4 441.9,588.1C443.9,589.8 445.9,591.7 447.9,593.7C449.9,595.6 451.9,597.8 453.9,600C455.9,602.3 457.9,604.6 459.9,607.1C461.9,609.6 463.9,612.2 465.9,614.8C467.9,617.5 469.9,620.3 471.9,623.1C473.9,625.9 475.9,628.9 477.9,631.8C479.9,634.8 481.9,637.8 483.9,640.7C485.9,643.5 487.9,646.4 489.9,649.1C491.9,651.7 493.9,654.2 495.9,656.6C497.9,659.1 499.9,661.3 501.9,663.6C503.9,665.8 505.9,667.9 507.9,670.1C509.9,672.3 511.9,674.4 513.9,676.6C515.9,678.8 517.9,681 519.9,683.3C521.9,685.7 523.9,688.1 525.9,690.6C527.9,693.1 529.9,695.6 531.9,698.2C533.9,700.7 535.9,703.3 537.9,705.9C539.9,708.4 541.9,711 543.9,713.5C545.9,716 547.9,718.4 549.9,720.8C551.9,723.1 553.9,725.3 555.9,727.4C557.9,729.5 559.9,731.5 561.9,733.3C563.9,735.1 565.9,736.8 567.9,738.3C569.9,739.8 571.9,741.2 573.9,742.4C575.9,743.7 577.9,744.9 579.9,745.9C581.9,747 583.9,748 585.9,748.9C587.9,749.8 589.9,750.6 591.9,751.3C593.9,752.1 595.9,752.8 597.9,753.5C599.9,754.2 601.9,754.8 603.9,755.4C605.9,756 607.9,756.6 609.9,757.1C611.9,757.6 613.9,758.1 615.9,758.6C617.9,759.1 619.9,759.5 621.9,760C623.9,760.4 625.9,760.8 627.9,761.2C629.9,761.7 631.9,762 633.9,762.4C635.9,762.9 637.9,763.2 639.9,763.6C641.9,764.1 644.1,764.5 645.9,764.9C647.7,765.2 649.7,765.7 650.5,765.9" stroke="#3f8420"/><path d="M87.9,539.2C88.9,539.3 91.9,539.7 93.9,539.9C95.9,540.2 97.9,540.5 99.9,540.9C101.9,541.2 103.9,541.5 105.9,541.9C107.9,542.2 109.9,542.6 111.9,543C113.9,543.3 115.9,543.7 117.9,544.1C119.9,544.5 121.9,544.9 123.9,545.3C125.9,545.8 127.9,546.2 129.9,546.6C131.9,547 133.9,547.4 135.9,547.9C137.9,548.3 139.9,548.7 141.9,549.2C143.9,549.6 145.9,550 147.9,550.4C149.9,550.9 151.9,551.3 153.9,551.7C155.9,552.1 157.9,552.5 159.9,552.9C161.9,553.3 163.9,553.7 165.9,554.1C167.9,554.5 169.9,554.8 171.9,555.2C173.9,555.6 175.9,555.9 177.9,556.2C179.9,556.6 181.9,556.9 183.9,557.2C185.9,557.5 187.9,557.7 189.9,558C191.9,558.2 193.9,558.5 195.9,558.7C197.9,558.9 199.9,559.1 201.9,559.2C203.9,559.4 205.9,559.5 207.9,559.7C209.9,559.8 211.9,559.8 213.9,559.9C215.9,559.9 217.9,560 219.9,560C221.9,560 223.9,559.9 225.9,559.9C227.9,559.8 229.9,559.8 231.9,559.7C233.9,559.6 235.9,559.5 237.9,559.3C239.9,559.2 241.9,559 243.9,558.9C245.9,558.7 247.9,558.5 249.9,558.3C251.9,558.1 253.9,557.9 255.9,557.6C257.9,557.4 259.9,557.1 261.9,556.9C263.9,556.6 265.9,556.4 267.9,556.1C269.9,555.8 271.9,555.5 273.9,555.2C275.9,554.9 277.9,554.6 279.9,554.3C281.9,554 283.9,553.7 285.9,553.4C287.9,553.1 289.9,552.7 291.9,552.4C293.9,552.1 295.9,551.8 297.9,551.5C299.9,551.1 301.9,550.8 303.9,550.5C305.9,550.2 307.9,549.9 309.9,549.6C311.9,549.3 313.9,549 315.9,548.7C317.9,548.4 319.9,548.1 321.9,547.8C323.9,547.5 325.9,547.2 327.9,547C329.9,546.7 331.9,546.5 333.9,546.2C335.9,546 337.9,545.8 339.9,545.6C341.9,545.4 343.9,545.2 345.9,545C347.9,544.9 349.9,544.7 351.9,544.6C353.9,544.4 355.9,544.3 357.9,544.2C359.9,544.1 361.9,544 363.9,544C365.9,544 367.9,544 369.9,544C371.9,544.1 373.9,544.2 375.9,544.4C377.9,544.6 379.9,544.8 381.9,545.2C383.9,545.6 385.9,546 387.9,546.5C389.9,547.1 391.9,547.7 393.9,548.5C395.9,549.3 397.9,550.2 399.9,551.2C401.9,552.3 403.9,553.5 405.9,554.8C407.9,556.1 409.9,557.5 411.9,558.9C413.9,560.4 415.9,561.9 417.9,563.5C419.9,565 421.9,566.6 423.9,568.1C425.9,569.7 427.9,571.2 429.9,572.7C431.9,574.2 433.9,575.6 435.9,577.2C437.9,578.7 439.9,580.1 441.9,581.9C443.9,583.6 445.9,585.4 447.9,587.4C449.9,589.4 451.9,591.7 453.9,594C455.9,596.4 457.9,598.9 459.9,601.5C461.9,604.1 463.9,606.8 465.9,609.6C467.9,612.3 469.9,615.1 471.9,618C473.9,620.8 475.9,623.7 477.9,626.5C479.9,629.3 481.9,632.1 483.9,634.9C485.9,637.6 487.9,640.3 489.9,642.9C491.9,645.5 493.9,647.9 495.9,650.3C497.9,652.8 499.9,655.1 501.9,657.4C503.9,659.7 505.9,661.9 507.9,664.2C509.9,666.5 511.9,668.8 513.9,671.1C515.9,673.4 517.9,675.7 519.9,678.2C521.9,680.6 523.9,683.1 525.9,685.6C527.9,688.1 529.9,690.7 531.9,693.3C533.9,695.8 535.9,698.4 537.9,701C539.9,703.5 541.9,706.1 543.9,708.6C545.9,711 547.9,713.5 549.9,715.8C551.9,718.1 553.9,720.3 555.9,722.4C557.9,724.5 559.9,726.5 561.9,728.3C563.9,730.1 565.9,731.8 567.9,733.4C569.9,734.9 571.9,736.3 573.9,737.6C575.9,739 577.9,740.2 579.9,741.3C581.9,742.4 583.9,743.4 585.9,744.4C587.9,745.3 589.9,746.2 591.9,747C593.9,747.9 595.9,748.6 597.9,749.3C599.9,750 601.9,750.7 603.9,751.3C605.9,752 607.9,752.6 609.9,753.1C611.9,753.7 613.9,754.2 615.9,754.7C617.9,755.2 619.9,755.7 621.9,756.2C623.9,756.7 625.9,757.1 627.9,757.6C629.9,758.1 631.9,758.5 633.9,759C635.9,759.4 637.9,759.9 639.9,760.4C641.9,760.8 644.1,761.4 645.9,761.8C647.7,762.3 649.7,762.8 650.5,763" stroke="#2157c8"/><path d="M87.9,533.3C88.9,533.3 91.9,533.6 93.9,533.8C95.9,534 97.9,534.3 99.9,534.5C101.9,534.8 103.9,535.1 105.9,535.4C107.9,535.7 109.9,536 111.9,536.4C113.9,536.7 115.9,537.1 117.9,537.5C119.9,537.8 121.9,538.2 123.9,538.6C125.9,539.1 127.9,539.5 129.9,539.9C131.9,540.3 133.9,540.8 135.9,541.2C137.9,541.6 139.9,542.1 141.9,542.5C143.9,543 145.9,543.4 147.9,543.9C149.9,544.3 151.9,544.8 153.9,545.2C155.9,545.7 157.9,546.1 159.9,546.6C161.9,547 163.9,547.4 165.9,547.9C167.9,548.3 169.9,548.7 171.9,549.1C173.9,549.5 175.9,549.9 177.9,550.3C179.9,550.6 181.9,551 183.9,551.3C185.9,551.7 187.9,552 189.9,552.3C191.9,552.6 193.9,552.9 195.9,553.2C197.9,553.4 199.9,553.6 201.9,553.9C203.9,554.1 205.9,554.2 207.9,554.4C209.9,554.5 211.9,554.7 213.9,554.8C215.9,554.8 217.9,554.9 219.9,554.9C221.9,555 223.9,555 225.9,555C227.9,555 229.9,554.9 231.9,554.8C233.9,554.8 235.9,554.7 237.9,554.6C239.9,554.5 241.9,554.3 243.9,554.2C245.9,554 247.9,553.9 249.9,553.7C251.9,553.5 253.9,553.3 255.9,553.1C257.9,552.9 259.9,552.6 261.9,552.4C263.9,552.1 265.9,551.9 267.9,551.6C269.9,551.3 271.9,551.1 273.9,550.8C275.9,550.5 277.9,550.2 279.9,549.9C281.9,549.6 283.9,549.3 285.9,549C287.9,548.6 289.9,548.3 291.9,548C293.9,547.7 295.9,547.4 297.9,547C299.9,546.7 301.9,546.4 303.9,546.1C305.9,545.7 307.9,545.4 309.9,545.1C311.9,544.8 313.9,544.5 315.9,544.2C317.9,543.9 319.9,543.6 321.9,543.3C323.9,543 325.9,542.7 327.9,542.4C329.9,542.1 331.9,541.9 333.9,541.6C335.9,541.4 337.9,541.1 339.9,540.9C341.9,540.7 343.9,540.5 345.9,540.3C347.9,540.1 349.9,539.9 351.9,539.7C353.9,539.6 355.9,539.4 357.9,539.3C359.9,539.2 361.9,539.1 363.9,539C365.9,539 367.9,538.9 369.9,539C371.9,539 373.9,539.1 375.9,539.2C377.9,539.4 379.9,539.6 381.9,540C383.9,540.3 385.9,540.7 387.9,541.3C389.9,541.8 391.9,542.4 393.9,543.2C395.9,544 397.9,544.9 399.9,546C401.9,547 403.9,548.2 405.9,549.5C407.9,550.8 409.9,552.3 411.9,553.7C413.9,555.2 415.9,556.8 417.9,558.3C419.9,559.9 421.9,561.5 423.9,563.1C425.9,564.6 427.9,566.2 429.9,567.7C431.9,569.2 433.9,570.6 435.9,572.1C437.9,573.6 439.9,575 441.9,576.6C443.9,578.3 445.9,580 447.9,581.9C449.9,583.8 451.9,585.8 453.9,588C455.9,590.2 457.9,592.5 459.9,595C461.9,597.4 463.9,600 465.9,602.6C467.9,605.3 469.9,608.1 471.9,610.9C473.9,613.8 475.9,616.8 477.9,619.7C479.9,622.7 481.9,625.8 483.9,628.7C485.9,631.6 487.9,634.6 489.9,637.3C491.9,640.1 493.9,642.7 495.9,645.2C497.9,647.7 499.9,650 501.9,652.4C503.9,654.7 505.9,656.9 507.9,659.2C509.9,661.4 511.9,663.6 513.9,665.9C515.9,668.1 517.9,670.4 519.9,672.7C521.9,675.1 523.9,677.5 525.9,680C527.9,682.4 529.9,685 531.9,687.5C533.9,690 535.9,692.5 537.9,695C539.9,697.5 541.9,700 543.9,702.4C545.9,704.8 547.9,707.2 549.9,709.5C551.9,711.7 553.9,713.9 555.9,716C557.9,718 559.9,720 561.9,721.8C563.9,723.5 565.9,725.2 567.9,726.7C569.9,728.3 571.9,729.6 573.9,731C575.9,732.3 577.9,733.5 579.9,734.6C581.9,735.7 583.9,736.8 585.9,737.8C587.9,738.8 589.9,739.7 591.9,740.6C593.9,741.4 595.9,742.3 597.9,743.1C599.9,743.9 601.9,744.7 603.9,745.4C605.9,746.2 607.9,746.9 609.9,747.6C611.9,748.3 613.9,749 615.9,749.6C617.9,750.3 619.9,750.9 621.9,751.5C623.9,752.2 625.9,752.8 627.9,753.4C629.9,754 631.9,754.6 633.9,755.1C635.9,755.7 637.9,756.3 639.9,756.9C641.9,757.5 644.1,758.2 645.9,758.7C647.7,759.2 649.7,759.8 650.5,760.1" stroke="#ec6a10"/><path d="M87.9,525.5C88.9,525.6 91.9,525.9 93.9,526.1C95.9,526.4 97.9,526.6 99.9,526.9C101.9,527.1 103.9,527.4 105.9,527.7C107.9,528 109.9,528.3 111.9,528.6C113.9,528.9 115.9,529.3 117.9,529.6C119.9,530 121.9,530.3 123.9,530.7C125.9,531 127.9,531.4 129.9,531.8C131.9,532.1 133.9,532.5 135.9,532.9C137.9,533.3 139.9,533.7 141.9,534C143.9,534.4 145.9,534.8 147.9,535.2C149.9,535.6 151.9,536 153.9,536.3C155.9,536.7 157.9,537.1 159.9,537.4C161.9,537.8 163.9,538.2 165.9,538.5C167.9,538.9 169.9,539.2 171.9,539.6C173.9,539.9 175.9,540.2 177.9,540.5C179.9,540.8 181.9,541.1 183.9,541.4C185.9,541.7 187.9,541.9 189.9,542.2C191.9,542.4 193.9,542.7 195.9,542.9C197.9,543.1 199.9,543.3 201.9,543.4C203.9,543.6 205.9,543.8 207.9,543.9C209.9,544 211.9,544.1 213.9,544.2C215.9,544.2 217.9,544.3 219.9,544.3C221.9,544.3 223.9,544.3 225.9,544.3C227.9,544.3 229.9,544.2 231.9,544.2C233.9,544.1 235.9,544 237.9,543.9C239.9,543.8 241.9,543.7 243.9,543.6C245.9,543.5 247.9,543.3 249.9,543.1C251.9,543 253.9,542.8 255.9,542.6C257.9,542.4 259.9,542.2 261.9,542C263.9,541.7 265.9,541.5 267.9,541.3C269.9,541 271.9,540.8 273.9,540.5C275.9,540.2 277.9,540 279.9,539.7C281.9,539.4 283.9,539.1 285.9,538.8C287.9,538.5 289.9,538.2 291.9,537.9C293.9,537.6 295.9,537.3 297.9,537C299.9,536.7 301.9,536.4 303.9,536.1C305.9,535.8 307.9,535.4 309.9,535.1C311.9,534.8 313.9,534.5 315.9,534.2C317.9,533.8 319.9,533.5 321.9,533.2C323.9,532.9 325.9,532.6 327.9,532.3C329.9,532 331.9,531.7 333.9,531.4C335.9,531.1 337.9,530.8 339.9,530.5C341.9,530.3 343.9,530 345.9,529.7C347.9,529.5 349.9,529.2 351.9,529C353.9,528.7 355.9,528.5 357.9,528.3C359.9,528.1 361.9,527.8 363.9,527.7C365.9,527.5 367.9,527.4 369.9,527.3C371.9,527.2 373.9,527.1 375.9,527.2C377.9,527.2 379.9,527.3 381.9,527.6C383.9,527.8 385.9,528.1 387.9,528.5C389.9,528.9 391.9,529.5 393.9,530.1C395.9,530.8 397.9,531.6 399.9,532.6C401.9,533.6 403.9,534.7 405.9,536C407.9,537.2 409.9,538.6 411.9,540.1C413.9,541.6 415.9,543.2 417.9,544.8C419.9,546.4 421.9,548.1 423.9,549.8C425.9,551.5 427.9,553.3 429.9,555C431.9,556.7 433.9,558.4 435.9,560.2C437.9,561.9 439.9,563.7 441.9,565.6C443.9,567.4 445.9,569.4 447.9,571.4C449.9,573.5 451.9,575.6 453.9,577.9C455.9,580.1 457.9,582.5 459.9,584.9C461.9,587.3 463.9,589.8 465.9,592.4C467.9,595 469.9,597.7 471.9,600.4C473.9,603.2 475.9,606 477.9,608.9C479.9,611.7 481.9,614.7 483.9,617.5C485.9,620.4 487.9,623.3 489.9,626C491.9,628.8 493.9,631.4 495.9,634C497.9,636.6 499.9,639.1 501.9,641.6C503.9,644.1 505.9,646.6 507.9,649C509.9,651.5 511.9,653.9 513.9,656.4C515.9,658.8 517.9,661.3 519.9,663.8C521.9,666.4 523.9,669 525.9,671.6C527.9,674.2 529.9,676.9 531.9,679.5C533.9,682.1 535.9,684.8 537.9,687.4C539.9,690 541.9,692.6 543.9,695.1C545.9,697.6 547.9,700 549.9,702.4C551.9,704.8 553.9,707.1 555.9,709.2C557.9,711.4 559.9,713.4 561.9,715.4C563.9,717.3 565.9,719 567.9,720.7C569.9,722.4 571.9,723.9 573.9,725.4C575.9,726.8 577.9,728.1 579.9,729.4C581.9,730.7 583.9,731.8 585.9,732.9C587.9,734 589.9,735 591.9,736C593.9,737 595.9,737.9 597.9,738.7C599.9,739.6 601.9,740.4 603.9,741.1C605.9,741.9 607.9,742.6 609.9,743.3C611.9,744 613.9,744.6 615.9,745.3C617.9,745.9 619.9,746.5 621.9,747.1C623.9,747.7 625.9,748.3 627.9,748.9C629.9,749.5 631.9,750 633.9,750.6C635.9,751.2 637.9,751.8 639.9,752.4C641.9,753 644.1,753.7 645.9,754.2C647.7,754.8 649.7,755.5 650.5,755.7" stroke="#9e9e9e"/><path d="M87.9,521.8C88.9,521.8 91.9,521.7 93.9,521.7C95.9,521.8 97.9,521.8 99.9,521.9C101.9,522 103.9,522.1 105.9,522.3C107.9,522.4 109.9,522.6 111.9,522.8C113.9,523 115.9,523.2 117.9,523.5C119.9,523.8 121.9,524 123.9,524.3C125.9,524.6 127.9,524.9 129.9,525.3C131.9,525.6 133.9,526 135.9,526.3C137.9,526.7 139.9,527.1 141.9,527.4C143.9,527.8 145.9,528.2 147.9,528.6C149.9,529 151.9,529.4 153.9,529.8C155.9,530.2 157.9,530.6 159.9,531C161.9,531.4 163.9,531.8 165.9,532.2C167.9,532.6 169.9,533 171.9,533.4C173.9,533.8 175.9,534.2 177.9,534.5C179.9,534.9 181.9,535.2 183.9,535.6C185.9,535.9 187.9,536.2 189.9,536.5C191.9,536.8 193.9,537.1 195.9,537.4C197.9,537.6 199.9,537.8 201.9,538C203.9,538.3 205.9,538.4 207.9,538.6C209.9,538.7 211.9,538.9 213.9,538.9C215.9,539 217.9,539.1 219.9,539.1C221.9,539.2 223.9,539.2 225.9,539.1C227.9,539.1 229.9,539.1 231.9,539C233.9,538.9 235.9,538.8 237.9,538.7C239.9,538.6 241.9,538.5 243.9,538.3C245.9,538.2 247.9,538 249.9,537.8C251.9,537.6 253.9,537.4 255.9,537.2C257.9,536.9 259.9,536.7 261.9,536.4C263.9,536.2 265.9,535.9 267.9,535.6C269.9,535.3 271.9,535 273.9,534.7C275.9,534.4 277.9,534.1 279.9,533.8C281.9,533.5 283.9,533.2 285.9,532.8C287.9,532.5 289.9,532.2 291.9,531.8C293.9,531.5 295.9,531.2 297.9,530.8C299.9,530.5 301.9,530.1 303.9,529.8C305.9,529.4 307.9,529.1 309.9,528.7C311.9,528.4 313.9,528.1 315.9,527.7C317.9,527.4 319.9,527.1 321.9,526.8C323.9,526.4 325.9,526.1 327.9,525.8C329.9,525.5 331.9,525.2 333.9,524.9C335.9,524.6 337.9,524.4 339.9,524.1C341.9,523.8 343.9,523.6 345.9,523.4C347.9,523.1 349.9,522.9 351.9,522.7C353.9,522.5 355.9,522.3 357.9,522.1C359.9,522 361.9,521.8 363.9,521.7C365.9,521.6 367.9,521.5 369.9,521.5C371.9,521.5 373.9,521.5 375.9,521.6C377.9,521.7 379.9,521.8 381.9,522C383.9,522.3 385.9,522.6 387.9,523C389.9,523.4 391.9,523.9 393.9,524.5C395.9,525.1 397.9,525.9 399.9,526.7C401.9,527.6 403.9,528.6 405.9,529.7C407.9,530.8 409.9,532 411.9,533.3C413.9,534.6 415.9,536 417.9,537.6C419.9,539.1 421.9,540.7 423.9,542.4C425.9,544 427.9,545.8 429.9,547.6C431.9,549.5 433.9,551.4 435.9,553.3C437.9,555.3 439.9,557.3 441.9,559.3C443.9,561.4 445.9,563.5 447.9,565.6C449.9,567.8 451.9,569.9 453.9,572.2C455.9,574.4 457.9,576.6 459.9,579C461.9,581.3 463.9,583.7 465.9,586.1C467.9,588.6 469.9,591.1 471.9,593.6C473.9,596.2 475.9,598.9 477.9,601.5C479.9,604.2 481.9,607 483.9,609.8C485.9,612.5 487.9,615.3 489.9,618C491.9,620.7 493.9,623.3 495.9,626C497.9,628.6 499.9,631.2 501.9,633.8C503.9,636.3 505.9,638.9 507.9,641.4C509.9,644 511.9,646.5 513.9,649.1C515.9,651.6 517.9,654.2 519.9,656.7C521.9,659.3 523.9,661.9 525.9,664.5C527.9,667.1 529.9,669.7 531.9,672.3C533.9,674.8 535.9,677.4 537.9,679.9C539.9,682.4 541.9,684.9 543.9,687.3C545.9,689.8 547.9,692.1 549.9,694.4C551.9,696.7 553.9,699 555.9,701.1C557.9,703.2 559.9,705.2 561.9,707.2C563.9,709.1 565.9,710.9 567.9,712.6C569.9,714.4 571.9,716 573.9,717.5C575.9,719.1 577.9,720.5 579.9,721.9C581.9,723.3 583.9,724.6 585.9,725.8C587.9,727.1 589.9,728.2 591.9,729.3C593.9,730.5 595.9,731.5 597.9,732.5C599.9,733.5 601.9,734.4 603.9,735.3C605.9,736.2 607.9,737.1 609.9,737.9C611.9,738.7 613.9,739.5 615.9,740.3C617.9,741 619.9,741.7 621.9,742.5C623.9,743.2 625.9,743.8 627.9,744.5C629.9,745.2 631.9,745.9 633.9,746.5C635.9,747.2 637.9,747.8 639.9,748.5C641.9,749.1 644.1,749.9 645.9,750.5C647.7,751 649.7,751.7 650.5,752" stroke="#fbbc00"/><path d="M87.9,517.8C88.9,517.9 91.9,518.2 93.9,518.5C95.9,518.7 97.9,519 99.9,519.2C101.9,519.5 103.9,519.8 105.9,520.1C107.9,520.4 109.9,520.7 111.9,521C113.9,521.3 115.9,521.6 117.9,521.9C119.9,522.2 121.9,522.6 123.9,522.9C125.9,523.2 127.9,523.6 129.9,523.9C131.9,524.2 133.9,524.6 135.9,524.9C137.9,525.2 139.9,525.6 141.9,525.9C143.9,526.3 145.9,526.6 147.9,526.9C149.9,527.2 151.9,527.6 153.9,527.9C155.9,528.2 157.9,528.5 159.9,528.8C161.9,529.1 163.9,529.4 165.9,529.7C167.9,530 169.9,530.3 171.9,530.6C173.9,530.8 175.9,531.1 177.9,531.3C179.9,531.6 181.9,531.8 183.9,532C185.9,532.2 187.9,532.4 189.9,532.6C191.9,532.8 193.9,532.9 195.9,533.1C197.9,533.2 199.9,533.3 201.9,533.4C203.9,533.5 205.9,533.6 207.9,533.7C209.9,533.7 211.9,533.8 213.9,533.8C215.9,533.8 217.9,533.8 219.9,533.7C221.9,533.7 223.9,533.6 225.9,533.5C227.9,533.5 229.9,533.4 231.9,533.3C233.9,533.1 235.9,533 237.9,532.8C239.9,532.7 241.9,532.5 243.9,532.3C245.9,532.2 247.9,532 249.9,531.8C251.9,531.5 253.9,531.3 255.9,531.1C257.9,530.8 259.9,530.6 261.9,530.3C263.9,530.1 265.9,529.8 267.9,529.5C269.9,529.3 271.9,529 273.9,528.7C275.9,528.4 277.9,528.1 279.9,527.8C281.9,527.5 283.9,527.2 285.9,526.9C287.9,526.5 289.9,526.2 291.9,525.9C293.9,525.6 295.9,525.3 297.9,525C299.9,524.6 301.9,524.3 303.9,524C305.9,523.7 307.9,523.4 309.9,523C311.9,522.7 313.9,522.4 315.9,522.1C317.9,521.8 319.9,521.5 321.9,521.2C323.9,520.9 325.9,520.6 327.9,520.3C329.9,520.1 331.9,519.8 333.9,519.5C335.9,519.3 337.9,519 339.9,518.8C341.9,518.5 343.9,518.3 345.9,518.1C347.9,517.8 349.9,517.6 351.9,517.4C353.9,517.3 355.9,517.1 357.9,516.9C359.9,516.8 361.9,516.6 363.9,516.5C365.9,516.4 367.9,516.3 369.9,516.3C371.9,516.2 373.9,516.2 375.9,516.3C377.9,516.4 379.9,516.5 381.9,516.7C383.9,516.9 385.9,517.2 387.9,517.5C389.9,517.9 391.9,518.4 393.9,518.9C395.9,519.5 397.9,520.2 399.9,520.9C401.9,521.7 403.9,522.6 405.9,523.7C407.9,524.7 409.9,525.8 411.9,527C413.9,528.3 415.9,529.6 417.9,531C419.9,532.5 421.9,534 423.9,535.6C425.9,537.2 427.9,538.9 429.9,540.7C431.9,542.4 433.9,544.3 435.9,546.2C437.9,548.1 439.9,550.1 441.9,552.2C443.9,554.2 445.9,556.3 447.9,558.5C449.9,560.6 451.9,562.8 453.9,565.1C455.9,567.4 457.9,569.7 459.9,572.1C461.9,574.5 463.9,577 465.9,579.5C467.9,582 469.9,584.6 471.9,587.2C473.9,589.9 475.9,592.6 477.9,595.4C479.9,598.1 481.9,601 483.9,603.7C485.9,606.5 487.9,609.3 489.9,612C491.9,614.7 493.9,617.4 495.9,620C497.9,622.6 499.9,625.1 501.9,627.7C503.9,630.2 505.9,632.7 507.9,635.2C509.9,637.7 511.9,640.2 513.9,642.7C515.9,645.2 517.9,647.7 519.9,650.3C521.9,652.9 523.9,655.5 525.9,658.1C527.9,660.8 529.9,663.4 531.9,666.1C533.9,668.7 535.9,671.4 537.9,674C539.9,676.6 541.9,679.2 543.9,681.7C545.9,684.2 547.9,686.7 549.9,689.1C551.9,691.5 553.9,693.9 555.9,696.1C557.9,698.3 559.9,700.4 561.9,702.4C563.9,704.4 565.9,706.3 567.9,708.1C569.9,709.9 571.9,711.5 573.9,713.1C575.9,714.7 577.9,716.2 579.9,717.6C581.9,719 583.9,720.4 585.9,721.7C587.9,722.9 589.9,724.1 591.9,725.3C593.9,726.5 595.9,727.6 597.9,728.6C599.9,729.7 601.9,730.7 603.9,731.7C605.9,732.6 607.9,733.6 609.9,734.4C611.9,735.3 613.9,736.2 615.9,737C617.9,737.8 619.9,738.6 621.9,739.3C623.9,740.1 625.9,740.8 627.9,741.5C629.9,742.2 631.9,742.8 633.9,743.5C635.9,744.1 637.9,744.7 639.9,745.3C641.9,745.9 644.1,746.6 645.9,747.1C647.7,747.6 649.7,748.2 650.5,748.4" stroke="#3a8fdc"/><path d="M87.9,515.8C88.9,515.8 91.9,516 93.9,516.2C95.9,516.4 97.9,516.6 99.9,516.8C101.9,517 103.9,517.2 105.9,517.5C107.9,517.7 109.9,518 111.9,518.2C113.9,518.5 115.9,518.8 117.9,519.1C119.9,519.4 121.9,519.7 123.9,520C125.9,520.3 127.9,520.6 129.9,520.9C131.9,521.2 133.9,521.6 135.9,521.9C137.9,522.2 139.9,522.6 141.9,522.9C143.9,523.2 145.9,523.6 147.9,523.9C149.9,524.2 151.9,524.6 153.9,524.9C155.9,525.2 157.9,525.6 159.9,525.9C161.9,526.2 163.9,526.5 165.9,526.8C167.9,527.1 169.9,527.4 171.9,527.7C173.9,528 175.9,528.2 177.9,528.5C179.9,528.8 181.9,529 183.9,529.2C185.9,529.5 187.9,529.7 189.9,529.9C191.9,530 193.9,530.2 195.9,530.4C197.9,530.5 199.9,530.7 201.9,530.8C203.9,530.9 205.9,531 207.9,531C209.9,531.1 211.9,531.1 213.9,531.1C215.9,531.1 217.9,531.1 219.9,531.1C221.9,531.1 223.9,531 225.9,530.9C227.9,530.8 229.9,530.7 231.9,530.6C233.9,530.5 235.9,530.3 237.9,530.2C239.9,530 241.9,529.8 243.9,529.6C245.9,529.4 247.9,529.2 249.9,529C251.9,528.8 253.9,528.5 255.9,528.3C257.9,528 259.9,527.7 261.9,527.5C263.9,527.2 265.9,526.9 267.9,526.6C269.9,526.3 271.9,526 273.9,525.7C275.9,525.4 277.9,525.1 279.9,524.8C281.9,524.5 283.9,524.1 285.9,523.8C287.9,523.5 289.9,523.1 291.9,522.8C293.9,522.5 295.9,522.1 297.9,521.8C299.9,521.5 301.9,521.1 303.9,520.8C305.9,520.5 307.9,520.2 309.9,519.8C311.9,519.5 313.9,519.2 315.9,518.9C317.9,518.6 319.9,518.3 321.9,518C323.9,517.7 325.9,517.4 327.9,517.1C329.9,516.8 331.9,516.6 333.9,516.3C335.9,516.1 337.9,515.8 339.9,515.6C341.9,515.3 343.9,515.1 345.9,514.9C347.9,514.7 349.9,514.5 351.9,514.4C353.9,514.2 355.9,514 357.9,513.9C359.9,513.8 361.9,513.7 363.9,513.6C365.9,513.5 367.9,513.4 369.9,513.4C371.9,513.4 373.9,513.5 375.9,513.6C377.9,513.7 379.9,513.8 381.9,514.1C383.9,514.3 385.9,514.6 387.9,515C389.9,515.3 391.9,515.8 393.9,516.4C395.9,516.9 397.9,517.6 399.9,518.3C401.9,519.1 403.9,520 405.9,521C407.9,521.9 409.9,523 411.9,524.2C413.9,525.4 415.9,526.7 417.9,528C419.9,529.4 421.9,530.9 423.9,532.4C425.9,533.9 427.9,535.6 429.9,537.3C431.9,539 433.9,540.8 435.9,542.6C437.9,544.5 439.9,546.4 441.9,548.4C443.9,550.4 445.9,552.4 447.9,554.5C449.9,556.7 451.9,558.8 453.9,561.1C455.9,563.3 457.9,565.6 459.9,567.9C461.9,570.2 463.9,572.6 465.9,575C467.9,577.4 469.9,579.9 471.9,582.4C473.9,584.9 475.9,587.4 477.9,590C479.9,592.5 481.9,595.1 483.9,597.7C485.9,600.3 487.9,602.9 489.9,605.6C491.9,608.2 493.9,610.9 495.9,613.6C497.9,616.2 499.9,618.9 501.9,621.6C503.9,624.3 505.9,627 507.9,629.7C509.9,632.4 511.9,635.1 513.9,637.8C515.9,640.5 517.9,643.2 519.9,645.8C521.9,648.5 523.9,651.1 525.9,653.8C527.9,656.4 529.9,659 531.9,661.6C533.9,664.1 535.9,666.7 537.9,669.2C539.9,671.7 541.9,674.2 543.9,676.6C545.9,679 547.9,681.3 549.9,683.6C551.9,685.9 553.9,688.2 555.9,690.4C557.9,692.5 559.9,694.6 561.9,696.7C563.9,698.7 565.9,700.6 567.9,702.5C569.9,704.4 571.9,706.2 573.9,707.9C575.9,709.7 577.9,711.3 579.9,712.9C581.9,714.5 583.9,716 585.9,717.4C587.9,718.9 589.9,720.2 591.9,721.5C593.9,722.8 595.9,724 597.9,725.2C599.9,726.4 601.9,727.4 603.9,728.5C605.9,729.5 607.9,730.5 609.9,731.4C611.9,732.3 613.9,733.2 615.9,734C617.9,734.9 619.9,735.6 621.9,736.4C623.9,737.1 625.9,737.9 627.9,738.5C629.9,739.2 631.9,739.9 633.9,740.5C635.9,741.1 637.9,741.7 639.9,742.3C641.9,742.9 644.1,743.6 645.9,744.1C647.7,744.6 649.7,745.2 650.5,745.4" stroke="#5ea938"/><path d="M87.9,513.2C88.9,513.2 91.9,513.4 93.9,513.6C95.9,513.8 97.9,514 99.9,514.2C101.9,514.4 103.9,514.6 105.9,514.8C107.9,515.1 109.9,515.3 111.9,515.6C113.9,515.9 115.9,516.1 117.9,516.4C119.9,516.7 121.9,517 123.9,517.3C125.9,517.6 127.9,518 129.9,518.3C131.9,518.6 133.9,518.9 135.9,519.3C137.9,519.6 139.9,520 141.9,520.3C143.9,520.6 145.9,521 147.9,521.3C149.9,521.6 151.9,522 153.9,522.3C155.9,522.7 157.9,523 159.9,523.3C161.9,523.6 163.9,524 165.9,524.3C167.9,524.6 169.9,524.9 171.9,525.2C173.9,525.5 175.9,525.8 177.9,526C179.9,526.3 181.9,526.6 183.9,526.8C185.9,527 187.9,527.3 189.9,527.5C191.9,527.7 193.9,527.9 195.9,528C197.9,528.2 199.9,528.4 201.9,528.5C203.9,528.6 205.9,528.7 207.9,528.8C209.9,528.9 211.9,528.9 213.9,529C215.9,529 217.9,529 219.9,529C221.9,529 223.9,528.9 225.9,528.9C227.9,528.8 229.9,528.7 231.9,528.6C233.9,528.5 235.9,528.4 237.9,528.3C239.9,528.2 241.9,528 243.9,527.8C245.9,527.7 247.9,527.5 249.9,527.3C251.9,527.1 253.9,526.8 255.9,526.6C257.9,526.4 259.9,526.1 261.9,525.9C263.9,525.6 265.9,525.4 267.9,525.1C269.9,524.8 271.9,524.5 273.9,524.2C275.9,524 277.9,523.6 279.9,523.3C281.9,523 283.9,522.7 285.9,522.4C287.9,522.1 289.9,521.8 291.9,521.4C293.9,521.1 295.9,520.8 297.9,520.4C299.9,520.1 301.9,519.8 303.9,519.4C305.9,519.1 307.9,518.8 309.9,518.4C311.9,518.1 313.9,517.8 315.9,517.5C317.9,517.1 319.9,516.8 321.9,516.5C323.9,516.2 325.9,515.9 327.9,515.5C329.9,515.2 331.9,514.9 333.9,514.6C335.9,514.4 337.9,514.1 339.9,513.8C341.9,513.5 343.9,513.2 345.9,513C347.9,512.7 349.9,512.5 351.9,512.3C353.9,512 355.9,511.8 357.9,511.6C359.9,511.4 361.9,511.2 363.9,511.1C365.9,510.9 367.9,510.8 369.9,510.7C371.9,510.6 373.9,510.5 375.9,510.5C377.9,510.5 379.9,510.5 381.9,510.6C383.9,510.7 385.9,510.8 387.9,511C389.9,511.2 391.9,511.5 393.9,511.8C395.9,512.2 397.9,512.6 399.9,513.2C401.9,513.7 403.9,514.3 405.9,515C407.9,515.7 409.9,516.5 411.9,517.4C413.9,518.2 415.9,519.2 417.9,520.3C419.9,521.3 421.9,522.4 423.9,523.7C425.9,524.9 427.9,526.2 429.9,527.6C431.9,529 433.9,530.5 435.9,532.1C437.9,533.6 439.9,535.3 441.9,537C443.9,538.8 445.9,540.6 447.9,542.5C449.9,544.4 451.9,546.4 453.9,548.5C455.9,550.5 457.9,552.7 459.9,554.9C461.9,557 463.9,559.3 465.9,561.6C467.9,563.9 469.9,566.3 471.9,568.7C473.9,571.1 475.9,573.5 477.9,576C479.9,578.5 481.9,581 483.9,583.5C485.9,586.1 487.9,588.6 489.9,591.2C491.9,593.8 493.9,596.4 495.9,599C497.9,601.6 499.9,604.2 501.9,606.8C503.9,609.4 505.9,612 507.9,614.6C509.9,617.2 511.9,619.8 513.9,622.3C515.9,624.9 517.9,627.4 519.9,629.9C521.9,632.4 523.9,634.9 525.9,637.3C527.9,639.8 529.9,642.2 531.9,644.6C533.9,646.9 535.9,649.3 537.9,651.6C539.9,653.9 541.9,656.2 543.9,658.4C545.9,660.7 547.9,662.9 549.9,665.1C551.9,667.2 553.9,669.4 555.9,671.5C557.9,673.5 559.9,675.6 561.9,677.6C563.9,679.6 565.9,681.6 567.9,683.6C569.9,685.5 571.9,687.4 573.9,689.3C575.9,691.1 577.9,692.9 579.9,694.7C581.9,696.5 583.9,698.2 585.9,699.9C587.9,701.6 589.9,703.2 591.9,704.8C593.9,706.4 595.9,708 597.9,709.5C599.9,711 601.9,712.4 603.9,713.8C605.9,715.2 607.9,716.6 609.9,717.9C611.9,719.2 613.9,720.5 615.9,721.7C617.9,722.9 619.9,724.1 621.9,725.2C623.9,726.3 625.9,727.4 627.9,728.4C629.9,729.4 631.9,730.3 633.9,731.2C635.9,732.1 637.9,733 639.9,733.7C641.9,734.5 644.1,735.3 645.9,735.9C647.7,736.6 649.7,737.2 650.5,737.4" stroke="#a2addf"/></g><line x1="330.4" y1="469.5" x2="330.4" y2="798" stroke="#1f2d86" stroke-width="2.4"/><text x="338.7" y="484.1" font-size="17.5" fill="#2f5aab" text-anchor="start" stroke="#2f5aab" stroke-width="0.5" textLength="66.3" lengthAdjust="spacingAndGlyphs">500 KHz</text><text x="492.1" y="534.2" font-size="18" fill="#ea0b12" text-anchor="start" stroke="#ea0b12" stroke-width="0.5" textLength="137.4" lengthAdjust="spacingAndGlyphs">40 min Ischemia</text><text x="399.5" y="752.3" font-size="17.5" fill="#ea0b12" text-anchor="start" stroke="#ea0b12" stroke-width="0.5" textLength="67.6" lengthAdjust="spacingAndGlyphs">Baseline</text><text x="116.9" y="488.7" font-size="20" fill="#000" text-anchor="start" textLength="10.8" lengthAdjust="spacingAndGlyphs" font-weight="bold">b</text><text transform="translate(42.6,628.5) rotate(-90)" x="0" y="0" font-size="17.5" font-weight="bold" text-anchor="middle" textLength="163.3" lengthAdjust="spacingAndGlyphs">Reaactance (ohms)</text><text x="295.2" y="850.8" font-size="16" fill="#000" text-anchor="start" textLength="127.8" lengthAdjust="spacingAndGlyphs" font-weight="bold">Frequency (Hz)</text><path d="M435,718.7C434.4,717.1 432.6,712.7 431.6,709.2C430.6,705.7 429.6,702.3 429.1,697.5C428.6,692.7 428.6,686.6 428.8,680.2C429,673.8 429.3,666.1 430.5,659.1C431.7,652.1 433.5,645.1 435.8,638.1C438.1,631.1 441.3,623.5 444.5,617.1C447.7,610.7 450.9,605.2 455,599.6C459.1,594 464,588.5 469,583.8C474,579.1 479.2,575.3 484.8,571.5C490.4,567.7 496.8,563.8 502.3,561C507.8,558.2 515.4,555.6 518,554.5" fill="none" stroke="#ea0b12" stroke-width="2.6" stroke-linecap="round"/><polygon points="514.6,547.9 531.2,549.6 520.7,561.9" fill="#ea0b12"/><g font-size="15" fill="#000" stroke="#000" stroke-width="0.55"><text x="74" y="1240.4" text-anchor="end" textLength="7.9" lengthAdjust="spacingAndGlyphs">0</text><text x="74" y="1205.5" text-anchor="end" textLength="31.6" lengthAdjust="spacingAndGlyphs">1000</text><text x="74" y="1170.6" text-anchor="end" textLength="31.6" lengthAdjust="spacingAndGlyphs">2000</text><text x="74" y="1135.8" text-anchor="end" textLength="31.6" lengthAdjust="spacingAndGlyphs">3000</text><text x="74" y="1100.9" text-anchor="end" textLength="31.6" lengthAdjust="spacingAndGlyphs">4000</text><text x="74" y="1066" text-anchor="end" textLength="31.6" lengthAdjust="spacingAndGlyphs">5000</text><text x="74" y="1031.1" text-anchor="end" textLength="31.6" lengthAdjust="spacingAndGlyphs">6000</text><text x="74" y="996.2" text-anchor="end" textLength="31.6" lengthAdjust="spacingAndGlyphs">7000</text><text x="74" y="961.4" text-anchor="end" textLength="31.6" lengthAdjust="spacingAndGlyphs">8000</text><text x="74" y="926.5" text-anchor="end" textLength="31.6" lengthAdjust="spacingAndGlyphs">9000</text><text x="74" y="891.6" text-anchor="end" textLength="39.5" lengthAdjust="spacingAndGlyphs">10000</text><text x="89.6" y="1261.2" text-anchor="middle" textLength="39.4" lengthAdjust="spacingAndGlyphs">50000</text><text x="370" y="1261.2" text-anchor="middle" textLength="47.8" lengthAdjust="spacingAndGlyphs">500000</text><text x="650.7" y="1261.2" text-anchor="middle" textLength="56" lengthAdjust="spacingAndGlyphs">5000000</text></g><line x1="89.5" y1="889.3" x2="89.5" y2="1237.2" stroke="#111" stroke-width="1.7"/><line x1="89" y1="1236.7" x2="651" y2="1236.7" stroke="#111" stroke-width="1.8"/><g fill="none" stroke-width="3.7" stroke-linecap="round" stroke-linejoin="round"><path d="M89.4,1139.9C90.4,1141.8 93.4,1148.3 95.4,1151.4C97.4,1154.6 99.4,1157.1 101.4,1158.7C103.4,1160.3 105.4,1161.2 107.4,1161.1C109.4,1161 111.4,1159.4 113.4,1158.2C115.4,1157 117.4,1154.8 119.4,1153.8C121.4,1152.7 123.4,1152.1 125.4,1152C127.4,1151.9 129.4,1152.7 131.4,1153.3C133.4,1153.9 135.4,1154.9 137.4,1155.5C139.4,1156.1 141.4,1156.4 143.4,1157C145.4,1157.6 147.4,1158 149.4,1158.9C151.4,1159.8 153.4,1161.1 155.4,1162.6C157.4,1164 159.4,1166.2 161.4,1167.8C163.4,1169.3 165.4,1170.9 167.4,1172C169.4,1173.1 171.4,1173.9 173.4,1174.5C175.4,1175.1 177.4,1175.3 179.4,1175.3C181.4,1175.4 183.4,1175 185.4,1174.6C187.4,1174.2 189.4,1173.3 191.4,1172.9C193.4,1172.5 195.4,1172.1 197.4,1172.1C199.4,1172.2 201.4,1172.7 203.4,1173.2C205.4,1173.7 207.4,1174.6 209.4,1175.1C211.4,1175.7 213.4,1176.3 215.4,1176.6C217.4,1177 219.4,1177 221.4,1177.4C223.4,1177.8 225.4,1178.2 227.4,1178.9C229.4,1179.7 231.4,1180.9 233.4,1181.7C235.4,1182.4 237.4,1183.1 239.4,1183.4C241.4,1183.7 243.4,1183.5 245.4,1183.5C247.4,1183.5 249.4,1183.4 251.4,1183.4C253.4,1183.3 255.4,1183.3 257.4,1183.3C259.4,1183.3 261.4,1183.4 263.4,1183.4C265.4,1183.5 267.4,1183.6 269.4,1183.7C271.4,1183.8 273.4,1184 275.4,1184.1C277.4,1184.3 279.4,1184.5 281.4,1184.7C283.4,1184.9 285.4,1185.1 287.4,1185.3C289.4,1185.6 291.4,1185.8 293.4,1186.1C295.4,1186.3 297.4,1186.6 299.4,1186.9C301.4,1187.2 303.4,1187.5 305.4,1187.8C307.4,1188.1 309.4,1188.4 311.4,1188.7C313.4,1189 315.4,1189.3 317.4,1189.6C319.4,1189.9 321.4,1190.2 323.4,1190.5C325.4,1190.9 327.4,1191.2 329.4,1191.5C331.4,1191.8 333.4,1192.1 335.4,1192.4C337.4,1192.7 339.4,1193 341.4,1193.3C343.4,1193.5 345.4,1193.8 347.4,1194.1C349.4,1194.4 351.4,1194.7 353.4,1195C355.4,1195.3 357.4,1195.6 359.4,1196C361.4,1196.3 363.4,1196.6 365.4,1196.9C367.4,1197.3 369.4,1197.6 371.4,1198C373.4,1198.4 375.4,1198.7 377.4,1199.1C379.4,1199.5 381.4,1199.9 383.4,1200.3C385.4,1200.7 387.4,1201.2 389.4,1201.6C391.4,1202 393.4,1202.5 395.4,1202.9C397.4,1203.4 399.4,1203.9 401.4,1204.4C403.4,1204.8 405.4,1205.3 407.4,1205.8C409.4,1206.4 411.4,1206.9 413.4,1207.4C415.4,1207.9 417.4,1208.5 419.4,1209C421.4,1209.6 423.4,1210.1 425.4,1210.7C427.4,1211.2 429.4,1211.8 431.4,1212.4C433.4,1212.9 435.4,1213.5 437.4,1214.1C439.4,1214.7 441.4,1215.3 443.4,1215.9C445.4,1216.4 447.4,1217 449.4,1217.6C451.4,1218.2 453.4,1218.8 455.4,1219.4C457.4,1220 459.4,1220.5 461.4,1221.1C463.4,1221.7 465.4,1222.3 467.4,1222.9C469.4,1223.5 471.4,1224 473.4,1224.6C475.4,1225.2 477.4,1225.7 479.4,1226.3C481.4,1226.8 483.4,1227.4 485.4,1227.9C487.4,1228.5 489.4,1229 491.4,1229.5C493.4,1230 495.4,1230.5 497.4,1231C499.4,1231.5 501.4,1232 503.4,1232.4C505.4,1232.9 507.4,1233.3 509.4,1233.7C511.4,1234.1 513.4,1234.4 515.4,1234.8C517.4,1235.1 519.4,1235.4 521.4,1235.7C523.4,1235.9 525.4,1236.1 527.4,1236.3C529.4,1236.5 531.4,1236.6 533.4,1236.7C535.4,1236.8 537.4,1236.7 539.4,1236.7C541.4,1236.7 543.4,1236.7 545.4,1236.7C547.4,1236.7 549.4,1236.7 551.4,1236.7C553.4,1236.7 555.4,1236.7 557.4,1236.7C559.4,1236.7 561.4,1236.7 563.4,1236.7C565.4,1236.7 567.4,1236.6 569.4,1236.6C571.4,1236.5 573.4,1236.5 575.4,1236.5C577.4,1236.4 579.4,1236.4 581.4,1236.4C583.4,1236.4 585.4,1236.4 587.4,1236.4C589.4,1236.4 591.4,1236.4 593.4,1236.4C595.4,1236.4 597.4,1236.4 599.4,1236.5C601.4,1236.5 603.4,1236.5 605.4,1236.5C607.4,1236.5 609.4,1236.6 611.4,1236.6C613.4,1236.6 615.4,1236.6 617.4,1236.7C619.4,1236.7 621.4,1236.7 623.4,1236.7C625.4,1236.7 627.4,1236.7 629.4,1236.7C631.4,1236.7 633.4,1236.7 635.4,1236.7C637.4,1236.7 639.4,1236.7 641.4,1236.7C643.4,1236.7 645.8,1236.6 647.4,1236.6C649,1236.6 650.4,1236.5 651,1236.5" stroke="#12398f"/><path d="M89.4,1101.8C90.4,1102.2 93.4,1103.9 95.4,1104.6C97.4,1105.3 99.4,1105.6 101.4,1105.9C103.4,1106.2 105.4,1106.2 107.4,1106.3C109.4,1106.4 111.4,1106.3 113.4,1106.4C115.4,1106.5 117.4,1106.6 119.4,1106.9C121.4,1107.2 123.4,1107.7 125.4,1108.4C127.4,1109.1 129.4,1110.2 131.4,1111.3C133.4,1112.5 135.4,1113.9 137.4,1115.3C139.4,1116.6 141.4,1118.2 143.4,1119.6C145.4,1121.1 147.4,1122.6 149.4,1123.9C151.4,1125.3 153.4,1126.6 155.4,1127.6C157.4,1128.6 159.4,1129.4 161.4,1130C163.4,1130.6 165.4,1131 167.4,1131.2C169.4,1131.5 171.4,1131.6 173.4,1131.6C175.4,1131.7 177.4,1131.6 179.4,1131.6C181.4,1131.6 183.4,1131.5 185.4,1131.6C187.4,1131.6 189.4,1131.7 191.4,1131.9C193.4,1132.2 195.4,1132.6 197.4,1133.1C199.4,1133.7 201.4,1134.6 203.4,1135.5C205.4,1136.5 207.4,1137.7 209.4,1138.8C211.4,1139.9 213.4,1141.2 215.4,1142.3C217.4,1143.4 219.4,1144.5 221.4,1145.3C223.4,1146 225.4,1146.6 227.4,1147C229.4,1147.4 231.4,1147.5 233.4,1147.6C235.4,1147.7 237.4,1147.6 239.4,1147.6C241.4,1147.5 243.4,1147.4 245.4,1147.2C247.4,1147.1 249.4,1146.9 251.4,1146.8C253.4,1146.8 255.4,1146.8 257.4,1147C259.4,1147.2 261.4,1147.5 263.4,1147.9C265.4,1148.3 267.4,1148.7 269.4,1149.3C271.4,1149.8 273.4,1150.4 275.4,1151C277.4,1151.6 279.4,1152.3 281.4,1152.9C283.4,1153.6 285.4,1154.3 287.4,1154.9C289.4,1155.5 291.4,1156.2 293.4,1156.8C295.4,1157.3 297.4,1157.9 299.4,1158.3C301.4,1158.7 303.4,1159.1 305.4,1159.4C307.4,1159.7 309.4,1159.8 311.4,1160C313.4,1160.2 315.4,1160.4 317.4,1160.6C319.4,1160.8 321.4,1161.1 323.4,1161.3C325.4,1161.6 327.4,1161.9 329.4,1162.2C331.4,1162.5 333.4,1162.8 335.4,1163.2C337.4,1163.5 339.4,1163.8 341.4,1164.1C343.4,1164.5 345.4,1164.8 347.4,1165.1C349.4,1165.5 351.4,1165.8 353.4,1166.1C355.4,1166.4 357.4,1166.8 359.4,1167.1C361.4,1167.5 363.4,1167.8 365.4,1168.1C367.4,1168.5 369.4,1168.8 371.4,1169.2C373.4,1169.6 375.4,1170 377.4,1170.3C379.4,1170.7 381.4,1171.1 383.4,1171.5C385.4,1172 387.4,1172.4 389.4,1172.8C391.4,1173.3 393.4,1173.7 395.4,1174.2C397.4,1174.7 399.4,1175.2 401.4,1175.7C403.4,1176.3 405.4,1176.8 407.4,1177.4C409.4,1178 411.4,1178.6 413.4,1179.2C415.4,1179.8 417.4,1180.5 419.4,1181.2C421.4,1181.8 423.4,1182.6 425.4,1183.3C427.4,1184 429.4,1184.8 431.4,1185.6C433.4,1186.5 435.4,1187.3 437.4,1188.2C439.4,1189.1 441.4,1190 443.4,1190.9C445.4,1191.8 447.4,1192.8 449.4,1193.8C451.4,1194.8 453.4,1195.8 455.4,1196.8C457.4,1197.8 459.4,1198.8 461.4,1199.9C463.4,1200.9 465.4,1202 467.4,1203.1C469.4,1204.1 471.4,1205.2 473.4,1206.3C475.4,1207.4 477.4,1208.5 479.4,1209.6C481.4,1210.7 483.4,1211.8 485.4,1212.9C487.4,1214.1 489.4,1215.3 491.4,1216.5C493.4,1217.7 495.4,1219 497.4,1220.2C499.4,1221.5 501.4,1222.7 503.4,1223.8C505.4,1224.9 507.4,1226 509.4,1226.9C511.4,1227.9 513.4,1228.7 515.4,1229.5C517.4,1230.3 519.4,1230.9 521.4,1231.6C523.4,1232.2 525.4,1232.7 527.4,1233.2C529.4,1233.6 531.4,1234 533.4,1234.4C535.4,1234.7 537.4,1235 539.4,1235.2C541.4,1235.5 543.4,1235.7 545.4,1235.8C547.4,1236 549.4,1236.1 551.4,1236.2C553.4,1236.2 555.4,1236.3 557.4,1236.3C559.4,1236.3 561.4,1236.3 563.4,1236.3C565.4,1236.3 567.4,1236.3 569.4,1236.2C571.4,1236.2 573.4,1236.1 575.4,1236.1C577.4,1236.1 579.4,1236 581.4,1236C583.4,1236 585.4,1236 587.4,1236C589.4,1235.9 591.4,1235.9 593.4,1235.9C595.4,1236 597.4,1236 599.4,1236C601.4,1236 603.4,1236 605.4,1236C607.4,1236 609.4,1236.1 611.4,1236.1C613.4,1236.1 615.4,1236.1 617.4,1236.1C619.4,1236.2 621.4,1236.2 623.4,1236.2C625.4,1236.2 627.4,1236.2 629.4,1236.2C631.4,1236.2 633.4,1236.2 635.4,1236.2C637.4,1236.2 639.4,1236.2 641.4,1236.2C643.4,1236.2 645.8,1236.1 647.4,1236.1C649,1236.1 650.4,1236 651,1236" stroke="#7a7a7a"/><path d="M89.4,1067.5C90.4,1068.5 93.4,1071.4 95.4,1073.3C97.4,1075.1 99.4,1076.8 101.4,1078.5C103.4,1080.2 105.4,1081.9 107.4,1083.6C109.4,1085.3 111.4,1087 113.4,1088.7C115.4,1090.4 117.4,1092.4 119.4,1093.9C121.4,1095.3 123.4,1096.8 125.4,1097.4C127.4,1098 129.4,1097.8 131.4,1097.4C133.4,1097 135.4,1095.9 137.4,1095.2C139.4,1094.5 141.4,1093.5 143.4,1093.3C145.4,1093.1 147.4,1093.1 149.4,1094C151.4,1094.8 153.4,1096.8 155.4,1098.4C157.4,1100 159.4,1101.9 161.4,1103.4C163.4,1104.9 165.4,1106.1 167.4,1107.2C169.4,1108.4 171.4,1109.4 173.4,1110.4C175.4,1111.3 177.4,1112.2 179.4,1113.2C181.4,1114.2 183.4,1115.3 185.4,1116.3C187.4,1117.4 189.4,1118.8 191.4,1119.4C193.4,1120.1 195.4,1120.4 197.4,1120.1C199.4,1119.8 201.4,1118.6 203.4,1117.9C205.4,1117.2 207.4,1116.2 209.4,1115.9C211.4,1115.6 213.4,1115.7 215.4,1116C217.4,1116.3 219.4,1116.9 221.4,1117.7C223.4,1118.5 225.4,1119.6 227.4,1120.6C229.4,1121.6 231.4,1122.8 233.4,1123.9C235.4,1125 237.4,1126.1 239.4,1127C241.4,1127.8 243.4,1128.5 245.4,1129.1C247.4,1129.7 249.4,1129.9 251.4,1130.4C253.4,1130.8 255.4,1131.2 257.4,1131.8C259.4,1132.4 261.4,1133.6 263.4,1134.1C265.4,1134.5 267.4,1134.8 269.4,1134.7C271.4,1134.5 273.4,1133.5 275.4,1133.1C277.4,1132.7 279.4,1132.3 281.4,1132.2C283.4,1132.1 285.4,1132.3 287.4,1132.8C289.4,1133.2 291.4,1133.8 293.4,1134.8C295.4,1135.8 297.4,1137.6 299.4,1138.6C301.4,1139.7 303.4,1140.6 305.4,1141.2C307.4,1141.9 309.4,1142.2 311.4,1142.6C313.4,1143.1 315.4,1143.4 317.4,1143.9C319.4,1144.3 321.4,1144.8 323.4,1145.4C325.4,1145.9 327.4,1146.5 329.4,1147.1C331.4,1147.7 333.4,1148.4 335.4,1149C337.4,1149.6 339.4,1150.3 341.4,1150.9C343.4,1151.6 345.4,1152.2 347.4,1152.9C349.4,1153.5 351.4,1154.2 353.4,1154.8C355.4,1155.4 357.4,1156.1 359.4,1156.7C361.4,1157.3 363.4,1157.9 365.4,1158.6C367.4,1159.2 369.4,1159.8 371.4,1160.5C373.4,1161.1 375.4,1161.7 377.4,1162.4C379.4,1163 381.4,1163.7 383.4,1164.3C385.4,1165 387.4,1165.6 389.4,1166.3C391.4,1167 393.4,1167.7 395.4,1168.4C397.4,1169.2 399.4,1169.9 401.4,1170.7C403.4,1171.5 405.4,1172.4 407.4,1173.3C409.4,1174.2 411.4,1175.1 413.4,1176.2C415.4,1177.2 417.4,1178.3 419.4,1179.5C421.4,1180.6 423.4,1181.8 425.4,1182.9C427.4,1184.1 429.4,1185.2 431.4,1186.3C433.4,1187.4 435.4,1188.3 437.4,1189.3C439.4,1190.3 441.4,1191.2 443.4,1192.1C445.4,1193 447.4,1193.9 449.4,1194.7C451.4,1195.6 453.4,1196.5 455.4,1197.3C457.4,1198.2 459.4,1199.1 461.4,1200.1C463.4,1201 465.4,1201.9 467.4,1203C469.4,1204 471.4,1205 473.4,1206.2C475.4,1207.3 477.4,1208.6 479.4,1209.8C481.4,1211.1 483.4,1212.4 485.4,1213.7C487.4,1215 489.4,1216.4 491.4,1217.7C493.4,1219 495.4,1220.3 497.4,1221.5C499.4,1222.7 501.4,1223.8 503.4,1224.8C505.4,1225.9 507.4,1226.9 509.4,1227.7C511.4,1228.6 513.4,1229.4 515.4,1230.2C517.4,1230.9 519.4,1231.6 521.4,1232.2C523.4,1232.8 525.4,1233.3 527.4,1233.8C529.4,1234.3 531.4,1234.7 533.4,1235C535.4,1235.4 537.4,1235.7 539.4,1235.9C541.4,1236.1 543.4,1236.3 545.4,1236.4C547.4,1236.6 549.4,1236.7 551.4,1236.7C553.4,1236.7 555.4,1236.7 557.4,1236.7C559.4,1236.7 561.4,1236.7 563.4,1236.7C565.4,1236.7 567.4,1236.7 569.4,1236.7C571.4,1236.7 573.4,1236.6 575.4,1236.6C577.4,1236.6 579.4,1236.5 581.4,1236.5C583.4,1236.5 585.4,1236.5 587.4,1236.5C589.4,1236.5 591.4,1236.5 593.4,1236.5C595.4,1236.5 597.4,1236.5 599.4,1236.5C601.4,1236.5 603.4,1236.5 605.4,1236.5C607.4,1236.5 609.4,1236.6 611.4,1236.6C613.4,1236.6 615.4,1236.6 617.4,1236.6C619.4,1236.6 621.4,1236.6 623.4,1236.7C625.4,1236.7 627.4,1236.7 629.4,1236.7C631.4,1236.7 633.4,1236.7 635.4,1236.7C637.4,1236.7 639.4,1236.7 641.4,1236.7C643.4,1236.7 645.8,1236.6 647.4,1236.6C649,1236.6 650.4,1236.6 651,1236.6" stroke="#cf9a00"/><path d="M89.4,1025.6C90.4,1026.1 93.4,1027.6 95.4,1028.6C97.4,1029.6 99.4,1030.5 101.4,1031.5C103.4,1032.5 105.4,1033.5 107.4,1034.5C109.4,1035.5 111.4,1036.5 113.4,1037.5C115.4,1038.5 117.4,1039.5 119.4,1040.5C121.4,1041.5 123.4,1042.5 125.4,1043.5C127.4,1044.5 129.4,1045.5 131.4,1046.4C133.4,1047.4 135.4,1048.4 137.4,1049.3C139.4,1050.3 141.4,1051.3 143.4,1052.2C145.4,1053.2 147.4,1054.1 149.4,1055.1C151.4,1056 153.4,1057 155.4,1057.9C157.4,1058.9 159.4,1059.8 161.4,1060.7C163.4,1061.7 165.4,1062.6 167.4,1063.6C169.4,1064.5 171.4,1065.5 173.4,1066.4C175.4,1067.4 177.4,1068.3 179.4,1069.3C181.4,1070.2 183.4,1071.2 185.4,1072.1C187.4,1073.1 189.4,1074 191.4,1075C193.4,1075.9 195.4,1076.8 197.4,1077.8C199.4,1078.7 201.4,1079.7 203.4,1080.6C205.4,1081.5 207.4,1082.4 209.4,1083.3C211.4,1084.2 213.4,1085.1 215.4,1086C217.4,1086.9 219.4,1087.8 221.4,1088.7C223.4,1089.5 225.4,1090.4 227.4,1091.2C229.4,1092.1 231.4,1092.9 233.4,1093.7C235.4,1094.5 237.4,1095.3 239.4,1096.1C241.4,1096.9 243.4,1097.6 245.4,1098.3C247.4,1099.1 249.4,1099.8 251.4,1100.5C253.4,1101.2 255.4,1101.9 257.4,1102.6C259.4,1103.3 261.4,1103.9 263.4,1104.6C265.4,1105.2 267.4,1105.9 269.4,1106.5C271.4,1107.1 273.4,1107.7 275.4,1108.3C277.4,1109 279.4,1109.6 281.4,1110.2C283.4,1110.8 285.4,1111.3 287.4,1111.9C289.4,1112.5 291.4,1113.1 293.4,1113.7C295.4,1114.3 297.4,1114.9 299.4,1115.4C301.4,1116 303.4,1116.6 305.4,1117.2C307.4,1117.8 309.4,1118.4 311.4,1119C313.4,1119.6 315.4,1120.2 317.4,1120.8C319.4,1121.4 321.4,1122 323.4,1122.7C325.4,1123.3 327.4,1123.9 329.4,1124.6C331.4,1125.2 333.4,1125.9 335.4,1126.6C337.4,1127.2 339.4,1127.9 341.4,1128.6C343.4,1129.3 345.4,1130.1 347.4,1130.8C349.4,1131.5 351.4,1132.3 353.4,1133.1C355.4,1133.9 357.4,1134.7 359.4,1135.5C361.4,1136.3 363.4,1137.2 365.4,1138C367.4,1138.9 369.4,1139.8 371.4,1140.7C373.4,1141.6 375.4,1142.6 377.4,1143.6C379.4,1144.5 381.4,1145.5 383.4,1146.6C385.4,1147.6 387.4,1148.7 389.4,1149.8C391.4,1150.9 393.4,1152 395.4,1153.2C397.4,1154.3 399.4,1155.5 401.4,1156.7C403.4,1157.9 405.4,1159.1 407.4,1160.4C409.4,1161.6 411.4,1162.9 413.4,1164.2C415.4,1165.4 417.4,1166.7 419.4,1168C421.4,1169.3 423.4,1170.7 425.4,1172C427.4,1173.3 429.4,1174.6 431.4,1176C433.4,1177.3 435.4,1178.7 437.4,1180C439.4,1181.4 441.4,1182.7 443.4,1184.1C445.4,1185.4 447.4,1186.8 449.4,1188.1C451.4,1189.4 453.4,1190.8 455.4,1192.1C457.4,1193.4 459.4,1194.8 461.4,1196.1C463.4,1197.4 465.4,1198.7 467.4,1199.9C469.4,1201.2 471.4,1202.5 473.4,1203.7C475.4,1205 477.4,1206.2 479.4,1207.4C481.4,1208.6 483.4,1209.8 485.4,1211C487.4,1212.1 489.4,1213.3 491.4,1214.4C493.4,1215.5 495.4,1216.5 497.4,1217.6C499.4,1218.6 501.4,1219.6 503.4,1220.6C505.4,1221.6 507.4,1222.5 509.4,1223.4C511.4,1224.3 513.4,1225.2 515.4,1226C517.4,1226.8 519.4,1227.6 521.4,1228.3C523.4,1229 525.4,1229.7 527.4,1230.4C529.4,1231 531.4,1231.6 533.4,1232.1C535.4,1232.6 537.4,1233.1 539.4,1233.6C541.4,1234 543.4,1234.4 545.4,1234.8C547.4,1235.1 549.4,1235.4 551.4,1235.7C553.4,1236 555.4,1236.3 557.4,1236.5C559.4,1236.6 561.4,1236.7 563.4,1236.7C565.4,1236.7 567.4,1236.7 569.4,1236.7C571.4,1236.7 573.4,1236.7 575.4,1236.7C577.4,1236.7 579.4,1236.7 581.4,1236.7C583.4,1236.7 585.4,1236.7 587.4,1236.7C589.4,1236.7 591.4,1236.7 593.4,1236.7C595.4,1236.7 597.4,1236.7 599.4,1236.7C601.4,1236.7 603.4,1236.7 605.4,1236.7C607.4,1236.7 609.4,1236.7 611.4,1236.7C613.4,1236.7 615.4,1236.7 617.4,1236.7C619.4,1236.6 621.4,1236.5 623.4,1236.5C625.4,1236.4 627.4,1236.3 629.4,1236.3C631.4,1236.2 633.4,1236.2 635.4,1236.2C637.4,1236.2 639.4,1236.2 641.4,1236.2C643.4,1236.2 645.8,1236.2 647.4,1236.3C649,1236.3 650.4,1236.4 651,1236.4" stroke="#2668aa"/><path d="M89.4,1010.1C90.4,1010.8 93.4,1012.9 95.4,1014.2C97.4,1015.5 99.4,1016.7 101.4,1017.8C103.4,1018.9 105.4,1019.9 107.4,1021C109.4,1022 111.4,1022.9 113.4,1023.8C115.4,1024.8 117.4,1025.6 119.4,1026.5C121.4,1027.4 123.4,1028.2 125.4,1029.1C127.4,1030 129.4,1030.8 131.4,1031.7C133.4,1032.6 135.4,1033.5 137.4,1034.5C139.4,1035.4 141.4,1036.4 143.4,1037.4C145.4,1038.4 147.4,1039.4 149.4,1040.5C151.4,1041.6 153.4,1042.7 155.4,1043.9C157.4,1045 159.4,1046.3 161.4,1047.6C163.4,1048.8 165.4,1050.2 167.4,1051.5C169.4,1052.8 171.4,1054.1 173.4,1055.4C175.4,1056.7 177.4,1058 179.4,1059.3C181.4,1060.6 183.4,1061.8 185.4,1063C187.4,1064.2 189.4,1065.4 191.4,1066.5C193.4,1067.7 195.4,1068.8 197.4,1069.9C199.4,1071 201.4,1072.1 203.4,1073.2C205.4,1074.2 207.4,1075.2 209.4,1076.2C211.4,1077.2 213.4,1078.1 215.4,1079.1C217.4,1080 219.4,1080.9 221.4,1081.7C223.4,1082.6 225.4,1083.4 227.4,1084.3C229.4,1085.1 231.4,1085.9 233.4,1086.6C235.4,1087.4 237.4,1088.1 239.4,1088.9C241.4,1089.6 243.4,1090.3 245.4,1091C247.4,1091.7 249.4,1092.4 251.4,1093.1C253.4,1093.8 255.4,1094.4 257.4,1095.1C259.4,1095.8 261.4,1096.4 263.4,1097.1C265.4,1097.7 267.4,1098.3 269.4,1099C271.4,1099.6 273.4,1100.2 275.4,1100.8C277.4,1101.4 279.4,1102.1 281.4,1102.7C283.4,1103.3 285.4,1103.9 287.4,1104.5C289.4,1105.1 291.4,1105.7 293.4,1106.3C295.4,1106.9 297.4,1107.6 299.4,1108.2C301.4,1108.8 303.4,1109.4 305.4,1110C307.4,1110.7 309.4,1111.3 311.4,1112C313.4,1112.6 315.4,1113.2 317.4,1113.9C319.4,1114.6 321.4,1115.2 323.4,1115.9C325.4,1116.6 327.4,1117.3 329.4,1118C331.4,1118.7 333.4,1119.4 335.4,1120.1C337.4,1120.9 339.4,1121.6 341.4,1122.4C343.4,1123.2 345.4,1123.9 347.4,1124.8C349.4,1125.6 351.4,1126.4 353.4,1127.2C355.4,1128.1 357.4,1128.9 359.4,1129.8C361.4,1130.7 363.4,1131.6 365.4,1132.6C367.4,1133.5 369.4,1134.4 371.4,1135.4C373.4,1136.4 375.4,1137.4 377.4,1138.5C379.4,1139.5 381.4,1140.6 383.4,1141.7C385.4,1142.8 387.4,1143.9 389.4,1145.1C391.4,1146.3 393.4,1147.5 395.4,1148.7C397.4,1149.9 399.4,1151.1 401.4,1152.4C403.4,1153.7 405.4,1154.9 407.4,1156.2C409.4,1157.6 411.4,1158.9 413.4,1160.2C415.4,1161.5 417.4,1162.9 419.4,1164.3C421.4,1165.6 423.4,1167 425.4,1168.4C427.4,1169.8 429.4,1171.2 431.4,1172.6C433.4,1174 435.4,1175.4 437.4,1176.8C439.4,1178.2 441.4,1179.6 443.4,1181C445.4,1182.4 447.4,1183.8 449.4,1185.2C451.4,1186.6 453.4,1188 455.4,1189.3C457.4,1190.7 459.4,1192.1 461.4,1193.4C463.4,1194.8 465.4,1196.2 467.4,1197.5C469.4,1198.8 471.4,1200.1 473.4,1201.4C475.4,1202.7 477.4,1204 479.4,1205.2C481.4,1206.5 483.4,1207.7 485.4,1208.9C487.4,1210.1 489.4,1211.3 491.4,1212.5C493.4,1213.6 495.4,1214.7 497.4,1215.8C499.4,1216.9 501.4,1218 503.4,1219C505.4,1220 507.4,1221 509.4,1221.9C511.4,1222.9 513.4,1223.8 515.4,1224.6C517.4,1225.5 519.4,1226.3 521.4,1227.1C523.4,1227.9 525.4,1228.6 527.4,1229.3C529.4,1229.9 531.4,1230.5 533.4,1231.1C535.4,1231.7 537.4,1232.2 539.4,1232.7C541.4,1233.2 543.4,1233.6 545.4,1234C547.4,1234.4 549.4,1234.8 551.4,1235.1C553.4,1235.4 555.4,1235.7 557.4,1235.9C559.4,1236.2 561.4,1236.5 563.4,1236.6C565.4,1236.7 567.4,1236.7 569.4,1236.7C571.4,1236.7 573.4,1236.7 575.4,1236.7C577.4,1236.7 579.4,1236.7 581.4,1236.7C583.4,1236.7 585.4,1236.7 587.4,1236.7C589.4,1236.7 591.4,1236.7 593.4,1236.7C595.4,1236.7 597.4,1236.7 599.4,1236.7C601.4,1236.7 603.4,1236.7 605.4,1236.7C607.4,1236.7 609.4,1236.7 611.4,1236.7C613.4,1236.7 615.4,1236.7 617.4,1236.7C619.4,1236.7 621.4,1236.6 623.4,1236.6C625.4,1236.6 627.4,1236.5 629.4,1236.4C631.4,1236.4 633.4,1236.3 635.4,1236.3C637.4,1236.3 639.4,1236.3 641.4,1236.3C643.4,1236.3 645.8,1236.3 647.4,1236.3C649,1236.4 650.4,1236.4 651,1236.4" stroke="#3f8420"/><path d="M89.4,998C90.4,998.6 93.4,1000.3 95.4,1001.5C97.4,1002.7 99.4,1003.9 101.4,1005.2C103.4,1006.4 105.4,1007.7 107.4,1008.9C109.4,1010.1 111.4,1011.4 113.4,1012.7C115.4,1013.9 117.4,1015.2 119.4,1016.4C121.4,1017.7 123.4,1018.9 125.4,1020.1C127.4,1021.4 129.4,1022.6 131.4,1023.8C133.4,1025 135.4,1026.2 137.4,1027.4C139.4,1028.6 141.4,1029.7 143.4,1030.9C145.4,1032 147.4,1033.2 149.4,1034.3C151.4,1035.5 153.4,1036.6 155.4,1037.7C157.4,1038.8 159.4,1039.9 161.4,1041C163.4,1042.1 165.4,1043.2 167.4,1044.3C169.4,1045.4 171.4,1046.4 173.4,1047.5C175.4,1048.5 177.4,1049.6 179.4,1050.6C181.4,1051.7 183.4,1052.7 185.4,1053.7C187.4,1054.8 189.4,1055.8 191.4,1056.8C193.4,1057.8 195.4,1058.8 197.4,1059.8C199.4,1060.8 201.4,1061.7 203.4,1062.7C205.4,1063.7 207.4,1064.6 209.4,1065.5C211.4,1066.5 213.4,1067.4 215.4,1068.3C217.4,1069.2 219.4,1070.2 221.4,1071C223.4,1071.9 225.4,1072.8 227.4,1073.7C229.4,1074.5 231.4,1075.4 233.4,1076.2C235.4,1077.1 237.4,1077.9 239.4,1078.7C241.4,1079.5 243.4,1080.3 245.4,1081.1C247.4,1081.9 249.4,1082.6 251.4,1083.4C253.4,1084.2 255.4,1084.9 257.4,1085.6C259.4,1086.4 261.4,1087.1 263.4,1087.8C265.4,1088.5 267.4,1089.2 269.4,1089.9C271.4,1090.6 273.4,1091.3 275.4,1092C277.4,1092.7 279.4,1093.4 281.4,1094.1C283.4,1094.7 285.4,1095.4 287.4,1096.1C289.4,1096.8 291.4,1097.4 293.4,1098.1C295.4,1098.8 297.4,1099.5 299.4,1100.2C301.4,1100.9 303.4,1101.5 305.4,1102.2C307.4,1102.9 309.4,1103.6 311.4,1104.3C313.4,1105 315.4,1105.7 317.4,1106.5C319.4,1107.2 321.4,1107.9 323.4,1108.6C325.4,1109.4 327.4,1110.1 329.4,1110.9C331.4,1111.7 333.4,1112.4 335.4,1113.2C337.4,1114 339.4,1114.8 341.4,1115.7C343.4,1116.5 345.4,1117.3 347.4,1118.2C349.4,1119 351.4,1119.9 353.4,1120.8C355.4,1121.7 357.4,1122.6 359.4,1123.6C361.4,1124.5 363.4,1125.5 365.4,1126.5C367.4,1127.4 369.4,1128.5 371.4,1129.5C373.4,1130.5 375.4,1131.6 377.4,1132.7C379.4,1133.8 381.4,1134.9 383.4,1136.1C385.4,1137.2 387.4,1138.4 389.4,1139.6C391.4,1140.8 393.4,1142.1 395.4,1143.3C397.4,1144.6 399.4,1145.9 401.4,1147.2C403.4,1148.5 405.4,1149.8 407.4,1151.2C409.4,1152.5 411.4,1153.9 413.4,1155.3C415.4,1156.7 417.4,1158.1 419.4,1159.5C421.4,1160.9 423.4,1162.3 425.4,1163.8C427.4,1165.2 429.4,1166.6 431.4,1168.1C433.4,1169.5 435.4,1171 437.4,1172.4C439.4,1173.9 441.4,1175.3 443.4,1176.8C445.4,1178.2 447.4,1179.7 449.4,1181.1C451.4,1182.5 453.4,1184 455.4,1185.4C457.4,1186.8 459.4,1188.3 461.4,1189.7C463.4,1191.1 465.4,1192.5 467.4,1193.9C469.4,1195.2 471.4,1196.6 473.4,1197.9C475.4,1199.3 477.4,1200.6 479.4,1201.9C481.4,1203.2 483.4,1204.5 485.4,1205.8C487.4,1207 489.4,1208.3 491.4,1209.5C493.4,1210.7 495.4,1211.8 497.4,1213C499.4,1214.1 501.4,1215.2 503.4,1216.3C505.4,1217.4 507.4,1218.4 509.4,1219.4C511.4,1220.4 513.4,1221.4 515.4,1222.3C517.4,1223.2 519.4,1224.1 521.4,1224.9C523.4,1225.8 525.4,1226.6 527.4,1227.3C529.4,1228 531.4,1228.7 533.4,1229.4C535.4,1230 537.4,1230.6 539.4,1231.2C541.4,1231.7 543.4,1232.2 545.4,1232.7C547.4,1233.1 549.4,1233.6 551.4,1233.9C553.4,1234.3 555.4,1234.7 557.4,1235C559.4,1235.3 561.4,1235.6 563.4,1235.8C565.4,1236.1 567.4,1236.3 569.4,1236.5C571.4,1236.6 573.4,1236.7 575.4,1236.7C577.4,1236.7 579.4,1236.7 581.4,1236.7C583.4,1236.7 585.4,1236.7 587.4,1236.7C589.4,1236.7 591.4,1236.7 593.4,1236.7C595.4,1236.7 597.4,1236.7 599.4,1236.7C601.4,1236.7 603.4,1236.7 605.4,1236.7C607.4,1236.7 609.4,1236.7 611.4,1236.7C613.4,1236.7 615.4,1236.7 617.4,1236.7C619.4,1236.7 621.4,1236.7 623.4,1236.7C625.4,1236.7 627.4,1236.7 629.4,1236.6C631.4,1236.6 633.4,1236.5 635.4,1236.4C637.4,1236.4 639.4,1236.3 641.4,1236.3C643.4,1236.2 645.8,1236.2 647.4,1236.2C649,1236.1 650.4,1236.1 651,1236.1" stroke="#2157c8"/><path d="M89.4,987.6C90.4,988 93.4,989.2 95.4,990C97.4,990.7 99.4,991.3 101.4,992.2C103.4,993 105.4,993.8 107.4,994.9C109.4,995.9 111.4,997.1 113.4,998.5C115.4,999.9 117.4,1001.6 119.4,1003.4C121.4,1005.1 123.4,1007.1 125.4,1008.9C127.4,1010.8 129.4,1012.7 131.4,1014.4C133.4,1016.2 135.4,1017.8 137.4,1019.3C139.4,1020.8 141.4,1022.1 143.4,1023.3C145.4,1024.5 147.4,1025.4 149.4,1026.4C151.4,1027.3 153.4,1028 155.4,1028.9C157.4,1029.7 159.4,1030.5 161.4,1031.4C163.4,1032.3 165.4,1033.2 167.4,1034.1C169.4,1035.1 171.4,1036.1 173.4,1037.1C175.4,1038.1 177.4,1039.2 179.4,1040.2C181.4,1041.3 183.4,1042.4 185.4,1043.5C187.4,1044.6 189.4,1045.7 191.4,1046.9C193.4,1048 195.4,1049.1 197.4,1050.3C199.4,1051.4 201.4,1052.6 203.4,1053.7C205.4,1054.8 207.4,1056 209.4,1057.1C211.4,1058.2 213.4,1059.3 215.4,1060.4C217.4,1061.5 219.4,1062.6 221.4,1063.7C223.4,1064.7 225.4,1065.7 227.4,1066.8C229.4,1067.8 231.4,1068.7 233.4,1069.7C235.4,1070.6 237.4,1071.5 239.4,1072.4C241.4,1073.3 243.4,1074.2 245.4,1075C247.4,1075.9 249.4,1076.7 251.4,1077.5C253.4,1078.3 255.4,1079 257.4,1079.8C259.4,1080.5 261.4,1081.3 263.4,1082C265.4,1082.7 267.4,1083.4 269.4,1084.1C271.4,1084.8 273.4,1085.5 275.4,1086.2C277.4,1086.9 279.4,1087.5 281.4,1088.2C283.4,1088.9 285.4,1089.5 287.4,1090.2C289.4,1090.8 291.4,1091.5 293.4,1092.1C295.4,1092.8 297.4,1093.4 299.4,1094.1C301.4,1094.7 303.4,1095.4 305.4,1096C307.4,1096.7 309.4,1097.3 311.4,1098C313.4,1098.7 315.4,1099.3 317.4,1100C319.4,1100.7 321.4,1101.4 323.4,1102.1C325.4,1102.8 327.4,1103.6 329.4,1104.3C331.4,1105 333.4,1105.8 335.4,1106.6C337.4,1107.3 339.4,1108.1 341.4,1109C343.4,1109.8 345.4,1110.6 347.4,1111.5C349.4,1112.3 351.4,1113.2 353.4,1114.1C355.4,1115.1 357.4,1116 359.4,1117C361.4,1117.9 363.4,1118.9 365.4,1120C367.4,1121 369.4,1122.1 371.4,1123.2C373.4,1124.3 375.4,1125.4 377.4,1126.6C379.4,1127.8 381.4,1129 383.4,1130.2C385.4,1131.4 387.4,1132.7 389.4,1134C391.4,1135.3 393.4,1136.6 395.4,1137.9C397.4,1139.2 399.4,1140.6 401.4,1142C403.4,1143.3 405.4,1144.7 407.4,1146.1C409.4,1147.5 411.4,1149 413.4,1150.4C415.4,1151.8 417.4,1153.3 419.4,1154.7C421.4,1156.2 423.4,1157.7 425.4,1159.1C427.4,1160.6 429.4,1162.1 431.4,1163.6C433.4,1165 435.4,1166.5 437.4,1168C439.4,1169.5 441.4,1171 443.4,1172.4C445.4,1173.9 447.4,1175.4 449.4,1176.9C451.4,1178.3 453.4,1179.8 455.4,1181.3C457.4,1182.7 459.4,1184.2 461.4,1185.6C463.4,1187 465.4,1188.4 467.4,1189.8C469.4,1191.2 471.4,1192.6 473.4,1194C475.4,1195.3 477.4,1196.7 479.4,1198C481.4,1199.3 483.4,1200.7 485.4,1201.9C487.4,1203.2 489.4,1204.5 491.4,1205.7C493.4,1206.9 495.4,1208.1 497.4,1209.3C499.4,1210.4 501.4,1211.5 503.4,1212.6C505.4,1213.7 507.4,1214.8 509.4,1215.8C511.4,1216.8 513.4,1217.8 515.4,1218.8C517.4,1219.7 519.4,1220.6 521.4,1221.5C523.4,1222.3 525.4,1223.2 527.4,1223.9C529.4,1224.7 531.4,1225.5 533.4,1226.2C535.4,1226.9 537.4,1227.6 539.4,1228.2C541.4,1228.9 543.4,1229.5 545.4,1230C547.4,1230.6 549.4,1231.1 551.4,1231.6C553.4,1232.1 555.4,1232.6 557.4,1233C559.4,1233.5 561.4,1233.9 563.4,1234.3C565.4,1234.6 567.4,1235 569.4,1235.3C571.4,1235.6 573.4,1235.9 575.4,1236.2C577.4,1236.4 579.4,1236.6 581.4,1236.7C583.4,1236.8 585.4,1236.7 587.4,1236.7C589.4,1236.7 591.4,1236.7 593.4,1236.7C595.4,1236.7 597.4,1236.7 599.4,1236.7C601.4,1236.7 603.4,1236.7 605.4,1236.7C607.4,1236.7 609.4,1236.7 611.4,1236.7C613.4,1236.7 615.4,1236.7 617.4,1236.7C619.4,1236.7 621.4,1236.7 623.4,1236.7C625.4,1236.7 627.4,1236.7 629.4,1236.7C631.4,1236.7 633.4,1236.8 635.4,1236.7C637.4,1236.6 639.4,1236.5 641.4,1236.3C643.4,1236.1 645.8,1235.9 647.4,1235.7C649,1235.5 650.4,1235.3 651,1235.3" stroke="#ec6a10"/><path d="M89.4,967.8C90.4,968.4 93.4,970.1 95.4,971.2C97.4,972.4 99.4,973.5 101.4,974.7C103.4,975.9 105.4,977.1 107.4,978.3C109.4,979.5 111.4,980.7 113.4,981.9C115.4,983.1 117.4,984.4 119.4,985.6C121.4,986.8 123.4,988.1 125.4,989.4C127.4,990.6 129.4,991.9 131.4,993.1C133.4,994.4 135.4,995.7 137.4,997C139.4,998.2 141.4,999.5 143.4,1000.8C145.4,1002.1 147.4,1003.4 149.4,1004.7C151.4,1005.9 153.4,1007.2 155.4,1008.5C157.4,1009.8 159.4,1011.1 161.4,1012.4C163.4,1013.7 165.4,1014.9 167.4,1016.2C169.4,1017.5 171.4,1018.8 173.4,1020C175.4,1021.3 177.4,1022.6 179.4,1023.8C181.4,1025.1 183.4,1026.3 185.4,1027.6C187.4,1028.8 189.4,1030 191.4,1031.3C193.4,1032.5 195.4,1033.7 197.4,1034.9C199.4,1036.1 201.4,1037.3 203.4,1038.5C205.4,1039.7 207.4,1040.8 209.4,1042C211.4,1043.1 213.4,1044.3 215.4,1045.4C217.4,1046.5 219.4,1047.6 221.4,1048.7C223.4,1049.8 225.4,1050.9 227.4,1051.9C229.4,1053 231.4,1054 233.4,1055C235.4,1056.1 237.4,1057.1 239.4,1058C241.4,1059 243.4,1060 245.4,1060.9C247.4,1061.8 249.4,1062.7 251.4,1063.6C253.4,1064.5 255.4,1065.4 257.4,1066.2C259.4,1067.1 261.4,1067.9 263.4,1068.7C265.4,1069.5 267.4,1070.4 269.4,1071.1C271.4,1071.9 273.4,1072.7 275.4,1073.5C277.4,1074.3 279.4,1075 281.4,1075.8C283.4,1076.5 285.4,1077.3 287.4,1078C289.4,1078.8 291.4,1079.5 293.4,1080.2C295.4,1081 297.4,1081.7 299.4,1082.4C301.4,1083.2 303.4,1083.9 305.4,1084.7C307.4,1085.4 309.4,1086.1 311.4,1086.9C313.4,1087.6 315.4,1088.4 317.4,1089.1C319.4,1089.9 321.4,1090.6 323.4,1091.4C325.4,1092.2 327.4,1093 329.4,1093.8C331.4,1094.5 333.4,1095.4 335.4,1096.2C337.4,1097 339.4,1097.8 341.4,1098.7C343.4,1099.5 345.4,1100.4 347.4,1101.3C349.4,1102.2 351.4,1103.1 353.4,1104C355.4,1104.9 357.4,1105.9 359.4,1106.9C361.4,1107.8 363.4,1108.8 365.4,1109.9C367.4,1110.9 369.4,1112 371.4,1113C373.4,1114.1 375.4,1115.2 377.4,1116.4C379.4,1117.5 381.4,1118.7 383.4,1119.9C385.4,1121.1 387.4,1122.4 389.4,1123.6C391.4,1124.9 393.4,1126.2 395.4,1127.5C397.4,1128.9 399.4,1130.2 401.4,1131.6C403.4,1133 405.4,1134.4 407.4,1135.9C409.4,1137.3 411.4,1138.8 413.4,1140.3C415.4,1141.7 417.4,1143.2 419.4,1144.7C421.4,1146.2 423.4,1147.8 425.4,1149.3C427.4,1150.8 429.4,1152.4 431.4,1154C433.4,1155.5 435.4,1157.1 437.4,1158.6C439.4,1160.2 441.4,1161.8 443.4,1163.4C445.4,1164.9 447.4,1166.5 449.4,1168.1C451.4,1169.7 453.4,1171.2 455.4,1172.8C457.4,1174.4 459.4,1175.9 461.4,1177.5C463.4,1179 465.4,1180.6 467.4,1182.1C469.4,1183.6 471.4,1185.2 473.4,1186.7C475.4,1188.2 477.4,1189.7 479.4,1191.1C481.4,1192.6 483.4,1194 485.4,1195.5C487.4,1196.9 489.4,1198.3 491.4,1199.7C493.4,1201.1 495.4,1202.4 497.4,1203.7C499.4,1205 501.4,1206.3 503.4,1207.6C505.4,1208.9 507.4,1210.1 509.4,1211.3C511.4,1212.5 513.4,1213.6 515.4,1214.7C517.4,1215.8 519.4,1216.9 521.4,1218C523.4,1219 525.4,1220 527.4,1220.9C529.4,1221.9 531.4,1222.8 533.4,1223.6C535.4,1224.4 537.4,1225.2 539.4,1226C541.4,1226.8 543.4,1227.5 545.4,1228.2C547.4,1228.8 549.4,1229.5 551.4,1230C553.4,1230.6 555.4,1231.2 557.4,1231.7C559.4,1232.2 561.4,1232.7 563.4,1233.1C565.4,1233.6 567.4,1234 569.4,1234.3C571.4,1234.7 573.4,1235 575.4,1235.3C577.4,1235.6 579.4,1235.9 581.4,1236.1C583.4,1236.4 585.4,1236.6 587.4,1236.7C589.4,1236.8 591.4,1236.7 593.4,1236.7C595.4,1236.7 597.4,1236.7 599.4,1236.7C601.4,1236.7 603.4,1236.7 605.4,1236.7C607.4,1236.7 609.4,1236.7 611.4,1236.7C613.4,1236.7 615.4,1236.7 617.4,1236.7C619.4,1236.7 621.4,1236.7 623.4,1236.7C625.4,1236.7 627.4,1236.7 629.4,1236.7C631.4,1236.7 633.4,1236.6 635.4,1236.5C637.4,1236.4 639.4,1236.2 641.4,1236C643.4,1235.8 645.8,1235.6 647.4,1235.5C649,1235.3 650.4,1235.1 651,1235.1" stroke="#9e9e9e"/><path d="M89.4,950.2C90.4,951 93.4,953.7 95.4,955.3C97.4,957 99.4,958.4 101.4,959.9C103.4,961.3 105.4,962.6 107.4,963.9C109.4,965.2 111.4,966.4 113.4,967.7C115.4,968.9 117.4,970.1 119.4,971.3C121.4,972.6 123.4,973.8 125.4,975C127.4,976.3 129.4,977.5 131.4,978.8C133.4,980.1 135.4,981.4 137.4,982.7C139.4,984.1 141.4,985.4 143.4,986.8C145.4,988.1 147.4,989.5 149.4,990.9C151.4,992.3 153.4,993.7 155.4,995C157.4,996.4 159.4,997.8 161.4,999.2C163.4,1000.6 165.4,1001.9 167.4,1003.3C169.4,1004.6 171.4,1006 173.4,1007.3C175.4,1008.7 177.4,1010 179.4,1011.3C181.4,1012.6 183.4,1013.9 185.4,1015.2C187.4,1016.5 189.4,1017.8 191.4,1019.1C193.4,1020.3 195.4,1021.6 197.4,1022.8C199.4,1024.1 201.4,1025.3 203.4,1026.5C205.4,1027.7 207.4,1028.9 209.4,1030.1C211.4,1031.2 213.4,1032.4 215.4,1033.5C217.4,1034.6 219.4,1035.8 221.4,1036.8C223.4,1037.9 225.4,1039 227.4,1040C229.4,1041.1 231.4,1042.1 233.4,1043.1C235.4,1044.1 237.4,1045.1 239.4,1046C241.4,1047 243.4,1047.9 245.4,1048.8C247.4,1049.7 249.4,1050.6 251.4,1051.5C253.4,1052.4 255.4,1053.2 257.4,1054.1C259.4,1054.9 261.4,1055.8 263.4,1056.6C265.4,1057.4 267.4,1058.3 269.4,1059.1C271.4,1059.9 273.4,1060.7 275.4,1061.4C277.4,1062.2 279.4,1063 281.4,1063.8C283.4,1064.6 285.4,1065.3 287.4,1066.1C289.4,1066.9 291.4,1067.7 293.4,1068.4C295.4,1069.2 297.4,1070 299.4,1070.7C301.4,1071.5 303.4,1072.3 305.4,1073C307.4,1073.8 309.4,1074.6 311.4,1075.4C313.4,1076.2 315.4,1077 317.4,1077.8C319.4,1078.6 321.4,1079.4 323.4,1080.2C325.4,1081 327.4,1081.8 329.4,1082.7C331.4,1083.5 333.4,1084.4 335.4,1085.2C337.4,1086.1 339.4,1087 341.4,1087.9C343.4,1088.8 345.4,1089.7 347.4,1090.7C349.4,1091.6 351.4,1092.5 353.4,1093.5C355.4,1094.5 357.4,1095.5 359.4,1096.5C361.4,1097.6 363.4,1098.6 365.4,1099.7C367.4,1100.8 369.4,1101.9 371.4,1103C373.4,1104.1 375.4,1105.3 377.4,1106.4C379.4,1107.6 381.4,1108.8 383.4,1110.1C385.4,1111.3 387.4,1112.6 389.4,1113.9C391.4,1115.1 393.4,1116.5 395.4,1117.8C397.4,1119.1 399.4,1120.5 401.4,1121.9C403.4,1123.3 405.4,1124.7 407.4,1126.1C409.4,1127.5 411.4,1129 413.4,1130.5C415.4,1132 417.4,1133.5 419.4,1135C421.4,1136.5 423.4,1138.1 425.4,1139.6C427.4,1141.2 429.4,1142.8 431.4,1144.4C433.4,1146 435.4,1147.6 437.4,1149.3C439.4,1150.9 441.4,1152.6 443.4,1154.3C445.4,1156 447.4,1157.7 449.4,1159.4C451.4,1161.2 453.4,1162.9 455.4,1164.7C457.4,1166.4 459.4,1168.2 461.4,1169.9C463.4,1171.7 465.4,1173.4 467.4,1175.2C469.4,1176.9 471.4,1178.7 473.4,1180.4C475.4,1182.2 477.4,1183.9 479.4,1185.6C481.4,1187.3 483.4,1189 485.4,1190.6C487.4,1192.3 489.4,1193.9 491.4,1195.5C493.4,1197.1 495.4,1198.6 497.4,1200.1C499.4,1201.7 501.4,1203.1 503.4,1204.6C505.4,1206 507.4,1207.4 509.4,1208.7C511.4,1210 513.4,1211.3 515.4,1212.5C517.4,1213.7 519.4,1214.9 521.4,1216C523.4,1217.1 525.4,1218.1 527.4,1219.1C529.4,1220.1 531.4,1221 533.4,1221.9C535.4,1222.8 537.4,1223.6 539.4,1224.4C541.4,1225.2 543.4,1225.9 545.4,1226.6C547.4,1227.3 549.4,1227.9 551.4,1228.5C553.4,1229.1 555.4,1229.7 557.4,1230.2C559.4,1230.7 561.4,1231.2 563.4,1231.7C565.4,1232.1 567.4,1232.5 569.4,1232.9C571.4,1233.3 573.4,1233.6 575.4,1233.9C577.4,1234.2 579.4,1234.5 581.4,1234.7C583.4,1235 585.4,1235.2 587.4,1235.4C589.4,1235.6 591.4,1235.7 593.4,1235.9C595.4,1236 597.4,1236.2 599.4,1236.3C601.4,1236.4 603.4,1236.4 605.4,1236.5C607.4,1236.6 609.4,1236.6 611.4,1236.7C613.4,1236.7 615.4,1236.7 617.4,1236.7C619.4,1236.7 621.4,1236.7 623.4,1236.7C625.4,1236.7 627.4,1236.7 629.4,1236.6C631.4,1236.6 633.4,1236.6 635.4,1236.5C637.4,1236.5 639.4,1236.5 641.4,1236.4C643.4,1236.4 645.8,1236.3 647.4,1236.3C649,1236.3 650.4,1236.3 651,1236.2" stroke="#fbbc00"/><path d="M89.4,941.2C90.4,941.6 93.4,942.9 95.4,943.6C97.4,944.3 99.4,944.8 101.4,945.4C103.4,946.1 105.4,946.7 107.4,947.7C109.4,948.8 111.4,950 113.4,951.6C115.4,953.3 117.4,955.7 119.4,957.7C121.4,959.8 123.4,962 125.4,963.9C127.4,965.8 129.4,967.4 131.4,969C133.4,970.5 135.4,971.9 137.4,973.3C139.4,974.6 141.4,975.8 143.4,976.9C145.4,978.1 147.4,979.2 149.4,980.3C151.4,981.4 153.4,982.5 155.4,983.6C157.4,984.8 159.4,985.9 161.4,987.1C163.4,988.3 165.4,989.6 167.4,990.9C169.4,992.1 171.4,993.4 173.4,994.8C175.4,996.1 177.4,997.4 179.4,998.8C181.4,1000.1 183.4,1001.5 185.4,1002.9C187.4,1004.2 189.4,1005.6 191.4,1006.9C193.4,1008.2 195.4,1009.5 197.4,1010.8C199.4,1012.1 201.4,1013.3 203.4,1014.5C205.4,1015.7 207.4,1016.9 209.4,1018C211.4,1019.2 213.4,1020.3 215.4,1021.4C217.4,1022.5 219.4,1023.6 221.4,1024.7C223.4,1025.7 225.4,1026.8 227.4,1027.8C229.4,1028.9 231.4,1029.9 233.4,1031C235.4,1032 237.4,1033 239.4,1034C241.4,1035.1 243.4,1036.1 245.4,1037.1C247.4,1038.1 249.4,1039.1 251.4,1040.1C253.4,1041.1 255.4,1042.1 257.4,1043C259.4,1044 261.4,1045 263.4,1046C265.4,1046.9 267.4,1047.9 269.4,1048.8C271.4,1049.7 273.4,1050.7 275.4,1051.6C277.4,1052.5 279.4,1053.4 281.4,1054.4C283.4,1055.3 285.4,1056.2 287.4,1057C289.4,1057.9 291.4,1058.8 293.4,1059.7C295.4,1060.5 297.4,1061.4 299.4,1062.2C301.4,1063.1 303.4,1063.9 305.4,1064.7C307.4,1065.5 309.4,1066.4 311.4,1067.2C313.4,1068 315.4,1068.8 317.4,1069.6C319.4,1070.4 321.4,1071.2 323.4,1072C325.4,1072.9 327.4,1073.7 329.4,1074.5C331.4,1075.4 333.4,1076.2 335.4,1077.1C337.4,1077.9 339.4,1078.8 341.4,1079.7C343.4,1080.6 345.4,1081.5 347.4,1082.4C349.4,1083.3 351.4,1084.3 353.4,1085.2C355.4,1086.2 357.4,1087.2 359.4,1088.2C361.4,1089.3 363.4,1090.3 365.4,1091.4C367.4,1092.5 369.4,1093.6 371.4,1094.8C373.4,1096 375.4,1097.2 377.4,1098.4C379.4,1099.6 381.4,1100.9 383.4,1102.2C385.4,1103.5 387.4,1104.9 389.4,1106.2C391.4,1107.6 393.4,1109 395.4,1110.4C397.4,1111.9 399.4,1113.3 401.4,1114.8C403.4,1116.3 405.4,1117.8 407.4,1119.3C409.4,1120.9 411.4,1122.4 413.4,1124C415.4,1125.6 417.4,1127.2 419.4,1128.9C421.4,1130.5 423.4,1132.1 425.4,1133.8C427.4,1135.5 429.4,1137.2 431.4,1138.9C433.4,1140.6 435.4,1142.3 437.4,1144.1C439.4,1145.8 441.4,1147.6 443.4,1149.3C445.4,1151.1 447.4,1152.9 449.4,1154.7C451.4,1156.5 453.4,1158.3 455.4,1160.1C457.4,1161.9 459.4,1163.7 461.4,1165.5C463.4,1167.3 465.4,1169.1 467.4,1170.9C469.4,1172.7 471.4,1174.5 473.4,1176.3C475.4,1178 477.4,1179.8 479.4,1181.5C481.4,1183.2 483.4,1185 485.4,1186.6C487.4,1188.3 489.4,1190 491.4,1191.6C493.4,1193.2 495.4,1194.8 497.4,1196.3C499.4,1197.9 501.4,1199.4 503.4,1200.9C505.4,1202.3 507.4,1203.8 509.4,1205.1C511.4,1206.5 513.4,1207.8 515.4,1209.1C517.4,1210.3 519.4,1211.5 521.4,1212.7C523.4,1213.8 525.4,1214.9 527.4,1215.9C529.4,1217 531.4,1218 533.4,1218.9C535.4,1219.9 537.4,1220.7 539.4,1221.6C541.4,1222.4 543.4,1223.2 545.4,1224C547.4,1224.8 549.4,1225.5 551.4,1226.1C553.4,1226.8 555.4,1227.4 557.4,1228C559.4,1228.6 561.4,1229.2 563.4,1229.7C565.4,1230.2 567.4,1230.7 569.4,1231.1C571.4,1231.6 573.4,1232 575.4,1232.4C577.4,1232.8 579.4,1233.1 581.4,1233.4C583.4,1233.7 585.4,1234 587.4,1234.3C589.4,1234.5 591.4,1234.8 593.4,1235C595.4,1235.2 597.4,1235.4 599.4,1235.5C601.4,1235.7 603.4,1235.9 605.4,1236C607.4,1236.1 609.4,1236.2 611.4,1236.3C613.4,1236.4 615.4,1236.4 617.4,1236.5C619.4,1236.5 621.4,1236.6 623.4,1236.6C625.4,1236.6 627.4,1236.6 629.4,1236.6C631.4,1236.7 633.4,1236.6 635.4,1236.6C637.4,1236.6 639.4,1236.6 641.4,1236.6C643.4,1236.5 645.8,1236.5 647.4,1236.5C649,1236.4 650.4,1236.4 651,1236.4" stroke="#3a8fdc"/><path d="M89.4,928.4C90.4,929.1 93.4,931.3 95.4,932.7C97.4,934.2 99.4,935.6 101.4,937.1C103.4,938.5 105.4,939.9 107.4,941.4C109.4,942.8 111.4,944.3 113.4,945.7C115.4,947.1 117.4,948.6 119.4,950C121.4,951.5 123.4,952.9 125.4,954.3C127.4,955.7 129.4,957.2 131.4,958.6C133.4,960 135.4,961.4 137.4,962.8C139.4,964.3 141.4,965.7 143.4,967.1C145.4,968.5 147.4,969.9 149.4,971.2C151.4,972.6 153.4,974 155.4,975.4C157.4,976.8 159.4,978.1 161.4,979.5C163.4,980.8 165.4,982.2 167.4,983.5C169.4,984.9 171.4,986.2 173.4,987.5C175.4,988.8 177.4,990.1 179.4,991.4C181.4,992.7 183.4,994 185.4,995.3C187.4,996.6 189.4,997.8 191.4,999.1C193.4,1000.3 195.4,1001.6 197.4,1002.8C199.4,1004 201.4,1005.2 203.4,1006.4C205.4,1007.6 207.4,1008.8 209.4,1010C211.4,1011.1 213.4,1012.3 215.4,1013.4C217.4,1014.6 219.4,1015.7 221.4,1016.8C223.4,1017.9 225.4,1019 227.4,1020.1C229.4,1021.1 231.4,1022.2 233.4,1023.2C235.4,1024.2 237.4,1025.3 239.4,1026.3C241.4,1027.3 243.4,1028.3 245.4,1029.3C247.4,1030.3 249.4,1031.3 251.4,1032.3C253.4,1033.3 255.4,1034.3 257.4,1035.3C259.4,1036.3 261.4,1037.3 263.4,1038.3C265.4,1039.3 267.4,1040.3 269.4,1041.3C271.4,1042.3 273.4,1043.2 275.4,1044.2C277.4,1045.2 279.4,1046.1 281.4,1047.1C283.4,1048 285.4,1049 287.4,1049.9C289.4,1050.8 291.4,1051.7 293.4,1052.6C295.4,1053.5 297.4,1054.4 299.4,1055.2C301.4,1056.1 303.4,1056.9 305.4,1057.8C307.4,1058.6 309.4,1059.4 311.4,1060.2C313.4,1061 315.4,1061.9 317.4,1062.7C319.4,1063.5 321.4,1064.3 323.4,1065.1C325.4,1065.9 327.4,1066.7 329.4,1067.6C331.4,1068.4 333.4,1069.2 335.4,1070.1C337.4,1070.9 339.4,1071.8 341.4,1072.7C343.4,1073.6 345.4,1074.5 347.4,1075.5C349.4,1076.4 351.4,1077.4 353.4,1078.4C355.4,1079.4 357.4,1080.4 359.4,1081.5C361.4,1082.5 363.4,1083.6 365.4,1084.8C367.4,1085.9 369.4,1087.1 371.4,1088.3C373.4,1089.6 375.4,1090.9 377.4,1092.2C379.4,1093.5 381.4,1094.9 383.4,1096.3C385.4,1097.7 387.4,1099.1 389.4,1100.6C391.4,1102 393.4,1103.6 395.4,1105.1C397.4,1106.6 399.4,1108.2 401.4,1109.8C403.4,1111.4 405.4,1113 407.4,1114.7C409.4,1116.3 411.4,1118 413.4,1119.7C415.4,1121.4 417.4,1123.1 419.4,1124.8C421.4,1126.5 423.4,1128.2 425.4,1130C427.4,1131.7 429.4,1133.5 431.4,1135.3C433.4,1137.1 435.4,1138.8 437.4,1140.6C439.4,1142.4 441.4,1144.2 443.4,1146C445.4,1147.8 447.4,1149.6 449.4,1151.4C451.4,1153.2 453.4,1155 455.4,1156.7C457.4,1158.5 459.4,1160.3 461.4,1162.1C463.4,1163.8 465.4,1165.6 467.4,1167.3C469.4,1169.1 471.4,1170.8 473.4,1172.5C475.4,1174.2 477.4,1175.9 479.4,1177.6C481.4,1179.2 483.4,1180.9 485.4,1182.5C487.4,1184.2 489.4,1185.8 491.4,1187.3C493.4,1188.9 495.4,1190.4 497.4,1192C499.4,1193.5 501.4,1195 503.4,1196.4C505.4,1197.8 507.4,1199.3 509.4,1200.6C511.4,1202 513.4,1203.3 515.4,1204.6C517.4,1205.9 519.4,1207.2 521.4,1208.4C523.4,1209.6 525.4,1210.7 527.4,1211.9C529.4,1213 531.4,1214.1 533.4,1215.1C535.4,1216.1 537.4,1217.1 539.4,1218.1C541.4,1219.1 543.4,1220 545.4,1220.9C547.4,1221.7 549.4,1222.6 551.4,1223.4C553.4,1224.2 555.4,1225 557.4,1225.7C559.4,1226.4 561.4,1227.1 563.4,1227.8C565.4,1228.4 567.4,1229.1 569.4,1229.6C571.4,1230.2 573.4,1230.8 575.4,1231.3C577.4,1231.8 579.4,1232.3 581.4,1232.7C583.4,1233.2 585.4,1233.6 587.4,1233.9C589.4,1234.3 591.4,1234.6 593.4,1234.9C595.4,1235.3 597.4,1235.5 599.4,1235.8C601.4,1236 603.4,1236.2 605.4,1236.4C607.4,1236.5 609.4,1236.6 611.4,1236.7C613.4,1236.8 615.4,1236.7 617.4,1236.7C619.4,1236.7 621.4,1236.7 623.4,1236.7C625.4,1236.7 627.4,1236.7 629.4,1236.7C631.4,1236.7 633.4,1236.7 635.4,1236.7C637.4,1236.6 639.4,1236.4 641.4,1236.2C643.4,1236 645.8,1235.7 647.4,1235.5C649,1235.4 650.4,1235.2 651,1235.1" stroke="#5ea938"/><path d="M89.4,915.8C90.4,916.5 93.4,918.5 95.4,919.9C97.4,921.4 99.4,922.9 101.4,924.5C103.4,926.1 105.4,927.8 107.4,929.4C109.4,931 111.4,932.7 113.4,934.3C115.4,935.9 117.4,937.4 119.4,939C121.4,940.5 123.4,942 125.4,943.4C127.4,944.9 129.4,946.3 131.4,947.7C133.4,949.1 135.4,950.5 137.4,951.9C139.4,953.3 141.4,954.7 143.4,956.1C145.4,957.5 147.4,958.8 149.4,960.3C151.4,961.7 153.4,963.1 155.4,964.6C157.4,966 159.4,967.5 161.4,969C163.4,970.5 165.4,972 167.4,973.5C169.4,975 171.4,976.6 173.4,978C175.4,979.5 177.4,980.9 179.4,982.3C181.4,983.7 183.4,985 185.4,986.2C187.4,987.5 189.4,988.6 191.4,989.7C193.4,990.8 195.4,991.8 197.4,992.8C199.4,993.8 201.4,994.8 203.4,995.7C205.4,996.7 207.4,997.6 209.4,998.5C211.4,999.5 213.4,1000.4 215.4,1001.4C217.4,1002.4 219.4,1003.4 221.4,1004.4C223.4,1005.4 225.4,1006.5 227.4,1007.5C229.4,1008.6 231.4,1009.7 233.4,1010.7C235.4,1011.8 237.4,1012.9 239.4,1014C241.4,1015.1 243.4,1016.2 245.4,1017.3C247.4,1018.4 249.4,1019.5 251.4,1020.6C253.4,1021.7 255.4,1022.8 257.4,1023.9C259.4,1025 261.4,1026.1 263.4,1027.2C265.4,1028.3 267.4,1029.4 269.4,1030.4C271.4,1031.5 273.4,1032.6 275.4,1033.6C277.4,1034.7 279.4,1035.7 281.4,1036.7C283.4,1037.8 285.4,1038.8 287.4,1039.7C289.4,1040.7 291.4,1041.7 293.4,1042.6C295.4,1043.6 297.4,1044.5 299.4,1045.4C301.4,1046.3 303.4,1047.2 305.4,1048C307.4,1048.9 309.4,1049.7 311.4,1050.5C313.4,1051.3 315.4,1052.1 317.4,1052.9C319.4,1053.7 321.4,1054.5 323.4,1055.3C325.4,1056.1 327.4,1056.9 329.4,1057.6C331.4,1058.4 333.4,1059.2 335.4,1060C337.4,1060.8 339.4,1061.6 341.4,1062.5C343.4,1063.3 345.4,1064.1 347.4,1065C349.4,1065.9 351.4,1066.8 353.4,1067.7C355.4,1068.6 357.4,1069.5 359.4,1070.5C361.4,1071.5 363.4,1072.5 365.4,1073.5C367.4,1074.6 369.4,1075.7 371.4,1076.8C373.4,1078 375.4,1079.1 377.4,1080.4C379.4,1081.6 381.4,1082.8 383.4,1084.1C385.4,1085.4 387.4,1086.8 389.4,1088.1C391.4,1089.5 393.4,1090.9 395.4,1092.3C397.4,1093.7 399.4,1095.2 401.4,1096.7C403.4,1098.2 405.4,1099.7 407.4,1101.3C409.4,1102.8 411.4,1104.4 413.4,1106C415.4,1107.5 417.4,1109.2 419.4,1110.8C421.4,1112.4 423.4,1114.1 425.4,1115.7C427.4,1117.4 429.4,1119.1 431.4,1120.8C433.4,1122.5 435.4,1124.2 437.4,1125.9C439.4,1127.6 441.4,1129.3 443.4,1131C445.4,1132.8 447.4,1134.5 449.4,1136.2C451.4,1138 453.4,1139.7 455.4,1141.4C457.4,1143.2 459.4,1144.9 461.4,1146.7C463.4,1148.4 465.4,1150.1 467.4,1151.8C469.4,1153.6 471.4,1155.3 473.4,1157C475.4,1158.7 477.4,1160.4 479.4,1162.1C481.4,1163.8 483.4,1165.5 485.4,1167.1C487.4,1168.8 489.4,1170.4 491.4,1172C493.4,1173.7 495.4,1175.3 497.4,1176.8C499.4,1178.4 501.4,1180 503.4,1181.5C505.4,1183.1 507.4,1184.6 509.4,1186C511.4,1187.5 513.4,1189 515.4,1190.4C517.4,1191.8 519.4,1193.2 521.4,1194.6C523.4,1195.9 525.4,1197.3 527.4,1198.6C529.4,1199.9 531.4,1201.1 533.4,1202.3C535.4,1203.6 537.4,1204.8 539.4,1205.9C541.4,1207.1 543.4,1208.2 545.4,1209.3C547.4,1210.4 549.4,1211.5 551.4,1212.5C553.4,1213.6 555.4,1214.6 557.4,1215.5C559.4,1216.5 561.4,1217.4 563.4,1218.3C565.4,1219.2 567.4,1220.1 569.4,1220.9C571.4,1221.7 573.4,1222.5 575.4,1223.3C577.4,1224.1 579.4,1224.8 581.4,1225.5C583.4,1226.1 585.4,1226.8 587.4,1227.4C589.4,1228 591.4,1228.6 593.4,1229.1C595.4,1229.7 597.4,1230.2 599.4,1230.6C601.4,1231.1 603.4,1231.5 605.4,1231.9C607.4,1232.3 609.4,1232.6 611.4,1233C613.4,1233.3 615.4,1233.5 617.4,1233.8C619.4,1234 621.4,1234.2 623.4,1234.4C625.4,1234.5 627.4,1234.6 629.4,1234.7C631.4,1234.8 633.4,1234.8 635.4,1234.8C637.4,1234.8 639.4,1234.8 641.4,1234.7C643.4,1234.6 645.9,1234.4 647.4,1234.3C648.9,1234.2 650,1234.1 650.5,1234" stroke="#a2addf"/></g><line x1="369.9" y1="1049.5" x2="369.9" y2="1236.5" stroke="#1f2d86" stroke-width="2.4"/><text x="378.4" y="1066.8" font-size="17.5" fill="#2f5aab" text-anchor="start" stroke="#2f5aab" stroke-width="0.5" textLength="64.5" lengthAdjust="spacingAndGlyphs">500 KHz</text><text x="218.2" y="1001.5" font-size="18" fill="#ea0b12" text-anchor="start" stroke="#ea0b12" stroke-width="0.5" textLength="137.1" lengthAdjust="spacingAndGlyphs">40 min Ischemia</text><text x="181.7" y="1229" font-size="17.5" fill="#ea0b12" text-anchor="start" stroke="#ea0b12" stroke-width="0.5" textLength="68.5" lengthAdjust="spacingAndGlyphs">Baseline</text><text x="116.4" y="921" font-size="20" fill="#000" text-anchor="start" textLength="9.5" lengthAdjust="spacingAndGlyphs" font-weight="bold">c</text><text transform="translate(25.2,1060.3) rotate(-90)" font-size="17" font-weight="bold" text-anchor="middle" textLength="182" lengthAdjust="spacingAndGlyphs">Injury Index (ohms<tspan font-size="11" dy="-7">2</tspan><tspan dy="7">)</tspan></text><text x="305.1" y="1291.5" font-size="16" fill="#000" text-anchor="start" textLength="129.9" lengthAdjust="spacingAndGlyphs" font-weight="bold">Frequency (Hz)</text><path d="M217.1,1195.9C216.4,1193 213.7,1185 212.7,1178.4C211.7,1171.8 211.3,1163.1 211.3,1156.5C211.3,1149.9 211.7,1144.8 212.7,1139C213.7,1133.2 215.4,1127.3 217.1,1121.8C218.8,1116.2 220.3,1111.5 223,1105.7C225.7,1099.9 229.8,1092 233.2,1086.7C236.6,1081.4 240.6,1077.5 243.4,1074C246.2,1070.5 247.4,1069.1 250,1066C252.6,1062.9 255.9,1058.5 258.8,1055.5C261.7,1052.5 264.6,1049.9 267.5,1047.7C270.4,1045.5 273.4,1044 276.3,1042.4C279.2,1040.8 282.1,1039.5 285,1038C287.9,1036.5 291.3,1034.8 293.8,1033.6C296.3,1032.3 299,1031 300,1030.5" fill="none" stroke="#ea0b12" stroke-width="2.6" stroke-linecap="round"/><polygon points="297.4,1025.1 313.5,1026.6 302.5,1038.2" fill="#ea0b12"/></g></svg></body></html>
